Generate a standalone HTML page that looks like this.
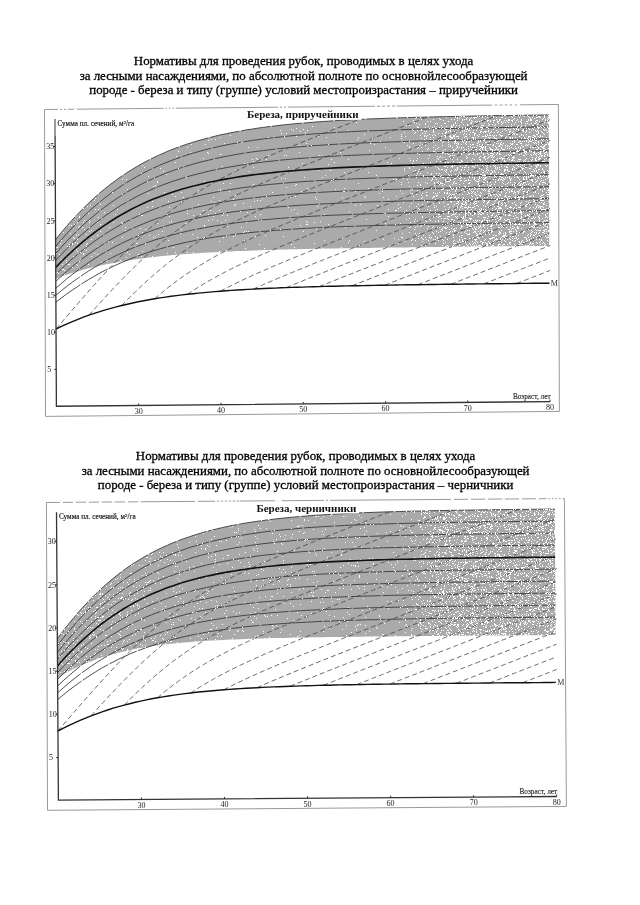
<!DOCTYPE html>
<html><head><meta charset="utf-8"><style>
html,body{margin:0;padding:0;background:#fff;width:640px;height:905px;overflow:hidden}
svg{display:block;filter:grayscale(1)}
</style></head><body>
<svg width="640" height="905" viewBox="0 0 640 905">
<text x="303.60" y="65.00" text-anchor="middle" style="font-family:'Liberation Serif',serif;font-size:12.9px" fill="#000" stroke="#000" stroke-width="0.3">Нормативы для проведения рубок, проводимых в целях ухода</text>
<text x="303.60" y="79.70" text-anchor="middle" style="font-family:'Liberation Serif',serif;font-size:12.9px" fill="#000" stroke="#000" stroke-width="0.3">за лесными насаждениями, по абсолютной полноте по основнойлесообразующей</text>
<text x="303.60" y="94.20" text-anchor="middle" style="font-family:'Liberation Serif',serif;font-size:12.9px" fill="#000" stroke="#000" stroke-width="0.3">породе - береза и типу (группе) условий местопроизрастания – приручейники</text>
<text x="305.60" y="460.00" text-anchor="middle" style="font-family:'Liberation Serif',serif;font-size:12.9px" fill="#000" stroke="#000" stroke-width="0.3">Нормативы для проведения рубок, проводимых в целях ухода</text>
<text x="305.60" y="474.70" text-anchor="middle" style="font-family:'Liberation Serif',serif;font-size:12.9px" fill="#000" stroke="#000" stroke-width="0.3">за лесными насаждениями, по абсолютной полноте по основнойлесообразующей</text>
<text x="305.60" y="489.20" text-anchor="middle" style="font-family:'Liberation Serif',serif;font-size:12.9px" fill="#000" stroke="#000" stroke-width="0.3">породе - береза и типу (группе) условий местопроизрастания – черничники</text>
<polygon points="44.50,109.50 558.40,104.45 559.40,411.40 45.50,416.40" fill="none" stroke="#9a9a9a" stroke-width="1"/>
<path d="M56.0,109.39 L68.0,109.27" stroke="#fff" stroke-width="1.6" stroke-dasharray="2 2" stroke-dashoffset="2"/>
<path d="M74.0,109.21 L77.0,109.18" stroke="#fff" stroke-width="1.6"/>
<path d="M162.0,108.35 L177.0,108.20" stroke="#fff" stroke-width="1.6" stroke-dasharray="2 1.5" stroke-dashoffset="2"/>
<path d="M276.0,107.23 L289.0,107.10" stroke="#fff" stroke-width="1.6" stroke-dasharray="2 2" stroke-dashoffset="2"/>
<path d="M372.0,106.28 L400.0,106.01" stroke="#fff" stroke-width="1.6" stroke-dasharray="2 3" stroke-dashoffset="2"/>
<path d="M490.0,105.12 L522.0,104.81" stroke="#fff" stroke-width="1.6" stroke-dasharray="3 2" stroke-dashoffset="3"/>
<path d="M55.6,239.6 L61.0,232.9 L66.5,226.4 L71.9,220.3 L77.4,214.4 L82.9,208.8 L88.3,203.4 L93.8,198.3 L99.2,193.5 L104.7,188.9 L110.2,184.6 L115.6,180.5 L121.1,176.6 L126.6,172.9 L132.0,169.5 L137.5,166.2 L143.0,163.1 L148.4,160.2 L153.9,157.5 L159.4,154.9 L164.9,152.5 L170.3,150.2 L175.8,148.1 L181.3,146.1 L186.8,144.2 L192.2,142.5 L197.7,140.8 L203.2,139.3 L208.7,137.8 L214.2,136.4 L219.6,135.1 L225.1,133.9 L230.6,132.8 L236.1,131.8 L241.6,130.8 L247.0,129.8 L252.5,129.0 L258.0,128.1 L263.5,127.4 L269.0,126.6 L274.4,126.0 L279.9,125.3 L285.4,124.7 L290.9,124.2 L296.4,123.6 L301.9,123.2 L307.3,122.7 L312.8,122.3 L318.3,121.8 L323.8,121.5 L329.3,121.1 L334.8,120.7 L340.2,120.4 L345.7,120.1 L351.2,119.8 L356.7,119.5 L362.2,119.3 L367.7,119.0 L373.2,118.8 L378.6,118.6 L384.1,118.4 L389.6,118.2 L395.1,118.0 L400.6,117.8 L406.1,117.7 L411.5,117.5 L417.0,117.3 L422.5,117.2 L428.0,117.0 L433.5,116.9 L439.0,116.8 L444.5,116.7 L449.9,116.5 L455.4,116.4 L460.9,116.3 L466.4,116.2 L471.9,116.1 L477.4,116.0 L482.9,115.9 L488.3,115.8 L493.8,115.7 L499.3,115.6 L504.8,115.6 L510.3,115.5 L515.8,115.4 L521.2,115.3 L526.7,115.2 L532.2,115.2 L537.7,115.1 L543.2,115.0 L548.7,114.9 L549.3,245.8 L543.8,245.9 L538.3,245.9 L532.9,246.0 L527.4,246.0 L521.9,246.1 L516.4,246.1 L510.9,246.2 L505.4,246.3 L499.9,246.3 L494.5,246.4 L489.0,246.4 L483.5,246.5 L478.0,246.5 L472.5,246.6 L467.0,246.7 L461.6,246.7 L456.1,246.8 L450.6,246.8 L445.1,246.9 L439.6,247.0 L434.1,247.0 L428.6,247.1 L423.2,247.2 L417.7,247.2 L412.2,247.3 L406.7,247.4 L401.2,247.4 L395.7,247.5 L390.2,247.6 L384.8,247.6 L379.3,247.7 L373.8,247.8 L368.3,247.9 L362.8,248.0 L357.3,248.0 L351.8,248.1 L346.4,248.2 L340.9,248.3 L335.4,248.4 L329.9,248.5 L324.4,248.6 L318.9,248.7 L313.4,248.8 L308.0,248.9 L302.5,249.1 L297.0,249.2 L291.5,249.3 L286.0,249.5 L280.5,249.6 L275.1,249.8 L269.6,249.9 L264.1,250.1 L258.6,250.3 L253.1,250.5 L247.6,250.7 L242.1,250.9 L236.7,251.1 L231.2,251.4 L225.7,251.6 L220.2,251.9 L214.7,252.2 L209.2,252.5 L203.8,252.8 L198.3,253.2 L192.8,253.5 L187.3,253.9 L181.8,254.3 L176.3,254.8 L170.9,255.3 L165.4,255.8 L159.9,256.3 L154.4,256.9 L148.9,257.6 L143.4,258.2 L138.0,259.0 L132.5,259.8 L127.0,260.6 L121.5,261.5 L116.0,262.4 L110.6,263.5 L105.1,264.6 L99.6,265.7 L94.1,267.0 L88.6,268.3 L83.2,269.8 L77.7,271.4 L72.2,273.0 L66.7,274.8 L61.2,276.7 L55.8,278.7 Z" fill="#aaaaaa" stroke="none"/>
<path d="M55.9,302.2 L61.4,298.0 L66.8,293.9 L72.3,290.1 L77.8,286.4 L83.2,282.8 L88.7,279.5 L94.2,276.3 L99.6,273.2 L105.1,270.3 L110.6,267.6 L116.0,265.0 L121.5,262.6 L127.0,260.3 L132.5,258.1 L137.9,256.0 L143.4,254.1 L148.9,252.2 L154.4,250.5 L159.9,248.9 L165.3,247.4 L170.8,245.9 L176.3,244.6 L181.8,243.3 L187.2,242.1 L192.7,241.0 L198.2,239.9 L203.7,238.9 L209.2,238.0 L214.7,237.1 L220.1,236.3 L225.6,235.6 L231.1,234.8 L236.6,234.1 L242.1,233.5 L247.5,232.9 L253.0,232.3 L258.5,231.8 L264.0,231.3 L269.5,230.8 L275.0,230.4 L280.4,230.0 L285.9,229.6 L291.4,229.2 L296.9,228.9 L302.4,228.5 L307.9,228.2 L313.3,227.9 L318.8,227.7 L324.3,227.4 L329.8,227.1 L335.3,226.9 L340.8,226.7 L346.3,226.5 L351.7,226.3 L357.2,226.1 L362.7,225.9 L368.2,225.7 L373.7,225.6 L379.2,225.4 L384.6,225.3 L390.1,225.1 L395.6,225.0 L401.1,224.9 L406.6,224.7 L412.1,224.6 L417.6,224.5 L423.0,224.4 L428.5,224.3 L434.0,224.2 L439.5,224.1 L445.0,224.0 L450.5,223.9 L456.0,223.8 L461.4,223.7 L466.9,223.6 L472.4,223.5 L477.9,223.5 L483.4,223.4 L488.9,223.3 L494.3,223.2 L499.8,223.1 L505.3,223.1 L510.8,223.0 L516.3,222.9 L521.8,222.9 L527.3,222.8 L532.7,222.7 L538.2,222.7 L543.7,222.6 L549.2,222.5" fill="none" stroke="#3a3a3a" stroke-width="0.9" stroke-dasharray="30 1.5"/>
<path d="M55.9,295.2 L61.3,290.7 L66.8,286.4 L72.2,282.3 L77.7,278.4 L83.2,274.6 L88.6,271.0 L94.1,267.6 L99.6,264.4 L105.1,261.3 L110.5,258.4 L116.0,255.6 L121.5,253.0 L126.9,250.6 L132.4,248.2 L137.9,246.0 L143.4,244.0 L148.8,242.0 L154.3,240.2 L159.8,238.5 L165.3,236.8 L170.8,235.3 L176.2,233.9 L181.7,232.5 L187.2,231.2 L192.7,230.0 L198.2,228.9 L203.6,227.9 L209.1,226.9 L214.6,226.0 L220.1,225.1 L225.6,224.3 L231.0,223.5 L236.5,222.8 L242.0,222.1 L247.5,221.5 L253.0,220.9 L258.5,220.3 L263.9,219.8 L269.4,219.3 L274.9,218.8 L280.4,218.4 L285.9,217.9 L291.4,217.5 L296.8,217.2 L302.3,216.8 L307.8,216.5 L313.3,216.2 L318.8,215.9 L324.3,215.6 L329.7,215.4 L335.2,215.1 L340.7,214.9 L346.2,214.7 L351.7,214.5 L357.2,214.3 L362.6,214.1 L368.1,213.9 L373.6,213.7 L379.1,213.5 L384.6,213.4 L390.1,213.2 L395.6,213.1 L401.0,213.0 L406.5,212.8 L412.0,212.7 L417.5,212.6 L423.0,212.5 L428.5,212.4 L434.0,212.3 L439.4,212.2 L444.9,212.1 L450.4,212.0 L455.9,211.9 L461.4,211.8 L466.9,211.7 L472.3,211.6 L477.8,211.5 L483.3,211.4 L488.8,211.4 L494.3,211.3 L499.8,211.2 L505.3,211.1 L510.7,211.1 L516.2,211.0 L521.7,210.9 L527.2,210.8 L532.7,210.8 L538.2,210.7 L543.7,210.6 L549.1,210.6" fill="none" stroke="#3a3a3a" stroke-width="0.9" stroke-dasharray="30 1.5"/>
<path d="M55.8,288.3 L61.3,283.5 L66.7,278.9 L72.2,274.5 L77.7,270.4 L83.1,266.4 L88.6,262.6 L94.1,258.9 L99.5,255.5 L105.0,252.2 L110.5,249.2 L116.0,246.2 L121.4,243.5 L126.9,240.9 L132.4,238.4 L137.8,236.1 L143.3,233.9 L148.8,231.8 L154.3,229.8 L159.8,228.0 L165.2,226.3 L170.7,224.7 L176.2,223.1 L181.7,221.7 L187.1,220.4 L192.6,219.1 L198.1,217.9 L203.6,216.8 L209.1,215.7 L214.5,214.8 L220.0,213.8 L225.5,213.0 L231.0,212.2 L236.5,211.4 L242.0,210.7 L247.4,210.0 L252.9,209.4 L258.4,208.8 L263.9,208.2 L269.4,207.7 L274.8,207.2 L280.3,206.7 L285.8,206.3 L291.3,205.9 L296.8,205.5 L302.3,205.1 L307.7,204.8 L313.2,204.4 L318.7,204.1 L324.2,203.9 L329.7,203.6 L335.2,203.3 L340.7,203.1 L346.1,202.8 L351.6,202.6 L357.1,202.4 L362.6,202.2 L368.1,202.0 L373.6,201.8 L379.0,201.7 L384.5,201.5 L390.0,201.4 L395.5,201.2 L401.0,201.1 L406.5,200.9 L412.0,200.8 L417.4,200.7 L422.9,200.6 L428.4,200.4 L433.9,200.3 L439.4,200.2 L444.9,200.1 L450.4,200.0 L455.8,199.9 L461.3,199.8 L466.8,199.7 L472.3,199.7 L477.8,199.6 L483.3,199.5 L488.7,199.4 L494.2,199.3 L499.7,199.3 L505.2,199.2 L510.7,199.1 L516.2,199.0 L521.7,199.0 L527.1,198.9 L532.6,198.8 L538.1,198.8 L543.6,198.7 L549.1,198.6" fill="none" stroke="#3a3a3a" stroke-width="0.9" stroke-dasharray="30 1.5"/>
<path d="M55.8,281.3 L61.2,276.3 L66.7,271.4 L72.2,266.8 L77.6,262.4 L83.1,258.1 L88.6,254.1 L94.0,250.3 L99.5,246.6 L105.0,243.2 L110.4,239.9 L115.9,236.8 L121.4,233.9 L126.9,231.1 L132.3,228.5 L137.8,226.1 L143.3,223.8 L148.7,221.6 L154.2,219.5 L159.7,217.6 L165.2,215.8 L170.7,214.0 L176.1,212.4 L181.6,210.9 L187.1,209.5 L192.6,208.2 L198.0,206.9 L203.5,205.7 L209.0,204.6 L214.5,203.6 L220.0,202.6 L225.4,201.7 L230.9,200.8 L236.4,200.0 L241.9,199.3 L247.4,198.5 L252.9,197.9 L258.3,197.3 L263.8,196.7 L269.3,196.1 L274.8,195.6 L280.3,195.1 L285.8,194.6 L291.2,194.2 L296.7,193.8 L302.2,193.4 L307.7,193.0 L313.2,192.7 L318.7,192.4 L324.1,192.1 L329.6,191.8 L335.1,191.5 L340.6,191.3 L346.1,191.0 L351.6,190.8 L357.0,190.6 L362.5,190.4 L368.0,190.2 L373.5,190.0 L379.0,189.8 L384.5,189.6 L390.0,189.5 L395.4,189.3 L400.9,189.2 L406.4,189.0 L411.9,188.9 L417.4,188.8 L422.9,188.7 L428.4,188.5 L433.8,188.4 L439.3,188.3 L444.8,188.2 L450.3,188.1 L455.8,188.0 L461.3,187.9 L466.7,187.8 L472.2,187.7 L477.7,187.6 L483.2,187.6 L488.7,187.5 L494.2,187.4 L499.7,187.3 L505.1,187.2 L510.6,187.2 L516.1,187.1 L521.6,187.0 L527.1,186.9 L532.6,186.9 L538.1,186.8 L543.5,186.7 L549.0,186.7" fill="none" stroke="#3a3a3a" stroke-width="0.9" stroke-dasharray="30 1.5"/>
<path d="M55.8,274.4 L61.2,269.0 L66.7,263.9 L72.1,259.0 L77.6,254.4 L83.1,249.9 L88.5,245.7 L94.0,241.6 L99.5,237.8 L104.9,234.2 L110.4,230.7 L115.9,227.4 L121.3,224.4 L126.8,221.4 L132.3,218.7 L137.8,216.1 L143.2,213.6 L148.7,211.3 L154.2,209.2 L159.6,207.1 L165.1,205.2 L170.6,203.4 L176.1,201.7 L181.6,200.1 L187.0,198.6 L192.5,197.2 L198.0,195.9 L203.5,194.6 L209.0,193.5 L214.4,192.4 L219.9,191.4 L225.4,190.4 L230.9,189.5 L236.4,188.6 L241.8,187.8 L247.3,187.1 L252.8,186.4 L258.3,185.7 L263.8,185.1 L269.3,184.5 L274.7,184.0 L280.2,183.5 L285.7,183.0 L291.2,182.5 L296.7,182.1 L302.1,181.7 L307.6,181.3 L313.1,181.0 L318.6,180.6 L324.1,180.3 L329.6,180.0 L335.1,179.7 L340.5,179.5 L346.0,179.2 L351.5,179.0 L357.0,178.7 L362.5,178.5 L368.0,178.3 L373.4,178.1 L378.9,177.9 L384.4,177.8 L389.9,177.6 L395.4,177.4 L400.9,177.3 L406.4,177.1 L411.8,177.0 L417.3,176.9 L422.8,176.7 L428.3,176.6 L433.8,176.5 L439.3,176.4 L444.7,176.3 L450.2,176.2 L455.7,176.1 L461.2,176.0 L466.7,175.9 L472.2,175.8 L477.7,175.7 L483.1,175.6 L488.6,175.5 L494.1,175.4 L499.6,175.4 L505.1,175.3 L510.6,175.2 L516.1,175.1 L521.5,175.1 L527.0,175.0 L532.5,174.9 L538.0,174.9 L543.5,174.8 L549.0,174.7" fill="none" stroke="#3a3a3a" stroke-width="0.9" stroke-dasharray="30 1.5"/>
<path d="M55.7,260.4 L61.1,254.6 L66.6,248.9 L72.1,243.5 L77.5,238.4 L83.0,233.5 L88.4,228.8 L93.9,224.3 L99.4,220.1 L104.8,216.1 L110.3,212.3 L115.8,208.7 L121.2,205.2 L126.7,202.0 L132.2,199.0 L137.7,196.1 L143.1,193.4 L148.6,190.9 L154.1,188.5 L159.5,186.2 L165.0,184.1 L170.5,182.1 L176.0,180.3 L181.5,178.5 L186.9,176.9 L192.4,175.3 L197.9,173.9 L203.4,172.5 L208.8,171.2 L214.3,170.0 L219.8,168.9 L225.3,167.8 L230.8,166.8 L236.2,165.9 L241.7,165.0 L247.2,164.2 L252.7,163.4 L258.2,162.7 L263.7,162.0 L269.1,161.4 L274.6,160.8 L280.1,160.2 L285.6,159.7 L291.1,159.2 L296.6,158.7 L302.0,158.3 L307.5,157.9 L313.0,157.5 L318.5,157.1 L324.0,156.8 L329.5,156.4 L334.9,156.1 L340.4,155.8 L345.9,155.6 L351.4,155.3 L356.9,155.1 L362.4,154.8 L367.8,154.6 L373.3,154.4 L378.8,154.2 L384.3,154.0 L389.8,153.8 L395.3,153.7 L400.8,153.5 L406.2,153.3 L411.7,153.2 L417.2,153.1 L422.7,152.9 L428.2,152.8 L433.7,152.7 L439.1,152.5 L444.6,152.4 L450.1,152.3 L455.6,152.2 L461.1,152.1 L466.6,152.0 L472.1,151.9 L477.5,151.8 L483.0,151.7 L488.5,151.6 L494.0,151.6 L499.5,151.5 L505.0,151.4 L510.5,151.3 L515.9,151.2 L521.4,151.2 L526.9,151.1 L532.4,151.0 L537.9,150.9 L543.4,150.9 L548.8,150.8" fill="none" stroke="#3a3a3a" stroke-width="0.9" stroke-dasharray="30 1.5"/>
<path d="M55.7,253.5 L61.1,247.3 L66.6,241.4 L72.0,235.8 L77.5,230.4 L82.9,225.2 L88.4,220.3 L93.9,215.7 L99.3,211.2 L104.8,207.0 L110.3,203.0 L115.7,199.3 L121.2,195.7 L126.7,192.3 L132.1,189.2 L137.6,186.2 L143.1,183.3 L148.5,180.7 L154.0,178.2 L159.5,175.8 L165.0,173.6 L170.4,171.5 L175.9,169.5 L181.4,167.7 L186.9,166.0 L192.4,164.4 L197.8,162.8 L203.3,161.4 L208.8,160.1 L214.3,158.8 L219.7,157.6 L225.2,156.5 L230.7,155.5 L236.2,154.5 L241.7,153.6 L247.2,152.7 L252.6,151.9 L258.1,151.2 L263.6,150.5 L269.1,149.8 L274.6,149.2 L280.0,148.6 L285.5,148.0 L291.0,147.5 L296.5,147.0 L302.0,146.6 L307.5,146.1 L312.9,145.7 L318.4,145.4 L323.9,145.0 L329.4,144.7 L334.9,144.3 L340.4,144.0 L345.8,143.7 L351.3,143.5 L356.8,143.2 L362.3,143.0 L367.8,142.8 L373.3,142.5 L378.8,142.3 L384.2,142.1 L389.7,142.0 L395.2,141.8 L400.7,141.6 L406.2,141.4 L411.7,141.3 L417.1,141.1 L422.6,141.0 L428.1,140.9 L433.6,140.7 L439.1,140.6 L444.6,140.5 L450.1,140.4 L455.5,140.3 L461.0,140.2 L466.5,140.1 L472.0,140.0 L477.5,139.9 L483.0,139.8 L488.5,139.7 L493.9,139.6 L499.4,139.5 L504.9,139.4 L510.4,139.4 L515.9,139.3 L521.4,139.2 L526.9,139.1 L532.3,139.1 L537.8,139.0 L543.3,138.9 L548.8,138.9" fill="none" stroke="#3a3a3a" stroke-width="0.9" stroke-dasharray="30 1.5"/>
<path d="M55.6,246.5 L61.1,240.1 L66.5,233.9 L72.0,228.0 L77.4,222.4 L82.9,217.0 L88.4,211.9 L93.8,207.0 L99.3,202.4 L104.7,198.0 L110.2,193.8 L115.7,189.9 L121.1,186.1 L126.6,182.6 L132.1,179.3 L137.6,176.2 L143.0,173.2 L148.5,170.4 L154.0,167.8 L159.4,165.4 L164.9,163.1 L170.4,160.9 L175.9,158.8 L181.3,156.9 L186.8,155.1 L192.3,153.4 L197.8,151.8 L203.3,150.3 L208.7,148.9 L214.2,147.6 L219.7,146.4 L225.2,145.2 L230.7,144.1 L236.1,143.1 L241.6,142.2 L247.1,141.3 L252.6,140.4 L258.1,139.7 L263.5,138.9 L269.0,138.2 L274.5,137.6 L280.0,137.0 L285.5,136.4 L291.0,135.8 L296.4,135.3 L301.9,134.9 L307.4,134.4 L312.9,134.0 L318.4,133.6 L323.9,133.2 L329.3,132.9 L334.8,132.5 L340.3,132.2 L345.8,131.9 L351.3,131.6 L356.8,131.4 L362.2,131.1 L367.7,130.9 L373.2,130.7 L378.7,130.5 L384.2,130.3 L389.7,130.1 L395.2,129.9 L400.6,129.7 L406.1,129.5 L411.6,129.4 L417.1,129.2 L422.6,129.1 L428.1,129.0 L433.5,128.8 L439.0,128.7 L444.5,128.6 L450.0,128.5 L455.5,128.4 L461.0,128.2 L466.5,128.1 L471.9,128.0 L477.4,127.9 L482.9,127.8 L488.4,127.8 L493.9,127.7 L499.4,127.6 L504.9,127.5 L510.3,127.4 L515.8,127.3 L521.3,127.3 L526.8,127.2 L532.3,127.1 L537.8,127.0 L543.2,127.0 L548.7,126.9" fill="none" stroke="#3a3a3a" stroke-width="0.9" stroke-dasharray="30 1.5"/>
<path d="M55.6,239.6 L61.0,232.9 L66.5,226.4 L71.9,220.3 L77.4,214.4 L82.9,208.8 L88.3,203.4 L93.8,198.3 L99.2,193.5 L104.7,188.9 L110.2,184.6 L115.6,180.5 L121.1,176.6 L126.6,172.9 L132.0,169.5 L137.5,166.2 L143.0,163.1 L148.4,160.2 L153.9,157.5 L159.4,154.9 L164.9,152.5 L170.3,150.2 L175.8,148.1 L181.3,146.1 L186.8,144.2 L192.2,142.5 L197.7,140.8 L203.2,139.3 L208.7,137.8 L214.2,136.4 L219.6,135.1 L225.1,133.9 L230.6,132.8 L236.1,131.8 L241.6,130.8 L247.0,129.8 L252.5,129.0 L258.0,128.1 L263.5,127.4 L269.0,126.6 L274.4,126.0 L279.9,125.3 L285.4,124.7 L290.9,124.2 L296.4,123.6 L301.9,123.2 L307.3,122.7 L312.8,122.3 L318.3,121.8 L323.8,121.5 L329.3,121.1 L334.8,120.7 L340.2,120.4 L345.7,120.1 L351.2,119.8 L356.7,119.5 L362.2,119.3 L367.7,119.0 L373.2,118.8 L378.6,118.6 L384.1,118.4 L389.6,118.2 L395.1,118.0 L400.6,117.8 L406.1,117.7 L411.5,117.5 L417.0,117.3 L422.5,117.2 L428.0,117.0 L433.5,116.9 L439.0,116.8 L444.5,116.7 L449.9,116.5 L455.4,116.4 L460.9,116.3 L466.4,116.2 L471.9,116.1 L477.4,116.0 L482.9,115.9 L488.3,115.8 L493.8,115.7 L499.3,115.6 L504.8,115.6 L510.3,115.5 L515.8,115.4 L521.2,115.3 L526.7,115.2 L532.2,115.2 L537.7,115.1 L543.2,115.0 L548.7,114.9" fill="none" stroke="#3a3a3a" stroke-width="0.9" stroke-dasharray="30 1.5"/>
<path d="M56.0,329.0 L58.0,326.7 L60.0,324.3 L62.0,322.0 L64.0,319.6 L66.0,317.3 L68.0,315.0 L70.0,312.6 L72.0,310.3 L74.0,308.0 L76.0,305.7 L78.0,303.4 L80.0,301.1 L82.0,298.8 L84.0,296.5 L86.0,294.3 L88.0,292.0 L90.0,289.7 L92.0,287.5 L94.0,285.3 L96.0,283.0 L98.0,280.8 L100.0,278.6 L102.0,276.4 L104.0,274.2 L106.0,272.0 L108.0,269.9 L110.0,267.7 L112.0,265.6 L114.0,263.5 L116.0,261.4 L118.0,259.3 L120.0,257.2 L122.0,255.1 L124.0,253.1 L126.0,251.0 L128.0,249.0 L130.0,247.0 L132.0,245.0 L134.0,243.1 L136.0,241.1 L138.0,239.2 L140.0,237.3 L142.0,235.4 L144.0,233.6 L146.0,231.7 L148.0,229.9 L150.0,228.1 L152.0,226.4 L154.0,224.6 L156.0,222.9 L158.0,221.2 L160.0,219.5 L162.0,217.8 L164.0,216.2 L166.0,214.6 L168.0,213.0 L170.0,211.4 L172.0,209.9 L174.0,208.4 L176.0,206.9 L178.0,205.4 L180.0,204.0 L182.0,202.5 L184.0,201.1 L186.0,199.7 L188.0,198.4 L190.0,197.0 L192.0,195.7 L194.0,194.4 L196.0,193.2 L198.0,191.9 L200.0,190.7 L202.0,189.4 L204.0,188.2 L206.0,187.0 L208.0,185.9 L210.0,184.7 L212.0,183.6 L214.0,182.5 L216.0,181.4 L218.0,180.3 L220.0,179.2 L222.0,178.1 L224.0,177.1 L226.0,176.1 L228.0,175.0 L230.0,174.0 L232.0,173.0 L234.0,172.0 L236.0,171.0 L238.0,170.1 L240.0,169.1 L242.0,168.2 L244.0,167.2 L246.0,166.3 L248.0,165.4 L250.0,164.4 L252.0,163.5 L254.0,162.6 L256.0,161.7 L258.0,160.8 L260.0,159.9 L262.0,159.1 L264.0,158.2 L266.0,157.3 L268.0,156.4 L270.0,155.6 L272.0,154.7 L274.0,153.9 L276.0,153.0 L278.0,152.2 L280.0,151.3 L282.0,150.5 L284.0,149.7 L286.0,148.8 L288.0,148.0 L290.0,147.2 L292.0,146.3 L294.0,145.5 L296.0,144.7 L298.0,143.9 L300.0,143.1 L302.0,142.2 L304.0,141.4 L306.0,140.6 L308.0,139.8 L310.0,139.0 L312.0,138.2 L314.0,137.4 L316.0,136.6 L318.0,135.8 L320.0,135.0 L322.0,134.2 L324.0,133.4 L326.0,132.6 L328.0,131.8 L330.0,131.0 L332.0,130.2 L334.0,129.4 L336.0,128.6 L338.0,127.8 L340.0,127.0 L342.0,126.3 L344.0,125.5 L346.0,124.7 L348.0,123.9 L350.0,123.1 L352.0,122.3 L354.0,121.5 L356.0,120.7 L358.0,119.9 L360.0,119.5" fill="none" stroke="#444" stroke-width="0.8" stroke-dasharray="5 3"/>
<path d="M88.9,315.2 L90.9,313.0 L92.9,310.7 L94.9,308.5 L96.9,306.3 L98.9,304.1 L100.9,301.9 L102.9,299.7 L104.9,297.5 L106.9,295.3 L108.9,293.2 L110.9,291.0 L112.9,288.9 L114.9,286.8 L116.9,284.7 L118.9,282.6 L120.9,280.5 L122.9,278.4 L124.9,276.4 L126.9,274.4 L128.9,272.4 L130.9,270.4 L132.9,268.4 L134.9,266.5 L136.9,264.5 L138.9,262.6 L140.9,260.7 L142.9,258.8 L144.9,257.0 L146.9,255.2 L148.9,253.4 L150.9,251.6 L152.9,249.8 L154.9,248.1 L156.9,246.4 L158.9,244.7 L160.9,243.0 L162.9,241.3 L164.9,239.7 L166.9,238.1 L168.9,236.5 L170.9,235.0 L172.9,233.4 L174.9,231.9 L176.9,230.5 L178.9,229.0 L180.9,227.5 L182.9,226.1 L184.9,224.7 L186.9,223.4 L188.9,222.0 L190.9,220.7 L192.9,219.4 L194.9,218.1 L196.9,216.8 L198.9,215.6 L200.9,214.3 L202.9,213.1 L204.9,211.9 L206.9,210.7 L208.9,209.6 L210.9,208.4 L212.9,207.3 L214.9,206.2 L216.9,205.1 L218.9,204.0 L220.9,202.9 L222.9,201.9 L224.9,200.8 L226.9,199.8 L228.9,198.8 L230.9,197.8 L232.9,196.8 L234.9,195.8 L236.9,194.8 L238.9,193.9 L240.9,192.9 L242.9,192.0 L244.9,191.0 L246.9,190.1 L248.9,189.2 L250.9,188.2 L252.9,187.3 L254.9,186.4 L256.9,185.5 L258.9,184.6 L260.9,183.8 L262.9,182.9 L264.9,182.0 L266.9,181.1 L268.9,180.3 L270.9,179.4 L272.9,178.6 L274.9,177.7 L276.9,176.9 L278.9,176.0 L280.9,175.2 L282.9,174.3 L284.9,173.5 L286.9,172.7 L288.9,171.8 L290.9,171.0 L292.9,170.2 L294.9,169.4 L296.9,168.5 L298.9,167.7 L300.9,166.9 L302.9,166.1 L304.9,165.3 L306.9,164.5 L308.9,163.7 L310.9,162.9 L312.9,162.1 L314.9,161.3 L316.9,160.5 L318.9,159.7 L320.9,158.9 L322.9,158.1 L324.9,157.3 L326.9,156.5 L328.9,155.7 L330.9,154.9 L332.9,154.1 L334.9,153.3 L336.9,152.5 L338.9,151.7 L340.9,150.9 L342.9,150.1 L344.9,149.3 L346.9,148.5 L348.9,147.7 L350.9,147.0 L352.9,146.2 L354.9,145.4 L356.9,144.6 L358.9,143.8 L360.9,143.0 L362.9,142.2 L364.9,141.4 L366.9,140.7 L368.9,139.9 L370.9,139.1 L372.9,138.3 L374.9,137.5 L376.9,136.7 L378.9,136.0 L380.9,135.2 L382.9,134.4 L384.9,133.6 L386.9,132.8 L388.9,132.0 L390.9,131.3 L392.9,130.5 L394.9,129.7 L396.9,128.9 L398.9,128.1 L400.9,127.3 L402.9,126.6 L404.9,125.8 L406.9,125.0 L408.9,124.2 L410.9,123.4 L412.9,122.7 L414.9,121.9 L416.9,121.1 L418.9,120.3 L420.9,119.5 L422.9,118.7 L424.9,118.0 L426.9,117.2 L428.9,117.1" fill="none" stroke="#444" stroke-width="0.8" stroke-dasharray="5 3"/>
<path d="M121.7,305.5 L123.7,303.4 L125.7,301.4 L127.7,299.4 L129.7,297.4 L131.7,295.4 L133.7,293.5 L135.7,291.5 L137.7,289.6 L139.7,287.7 L141.7,285.8 L143.7,283.9 L145.7,282.1 L147.7,280.3 L149.7,278.5 L151.7,276.7 L153.7,274.9 L155.7,273.2 L157.7,271.5 L159.7,269.8 L161.7,268.2 L163.7,266.5 L165.7,264.9 L167.7,263.3 L169.7,261.7 L171.7,260.2 L173.7,258.7 L175.7,257.2 L177.7,255.7 L179.7,254.3 L181.7,252.8 L183.7,251.4 L185.7,250.0 L187.7,248.7 L189.7,247.3 L191.7,246.0 L193.7,244.7 L195.7,243.4 L197.7,242.2 L199.7,240.9 L201.7,239.7 L203.7,238.5 L205.7,237.3 L207.7,236.1 L209.7,235.0 L211.7,233.8 L213.7,232.7 L215.7,231.6 L217.7,230.5 L219.7,229.4 L221.7,228.4 L223.7,227.3 L225.7,226.3 L227.7,225.3 L229.7,224.2 L231.7,223.2 L233.7,222.3 L235.7,221.3 L237.7,220.3 L239.7,219.3 L241.7,218.4 L243.7,217.4 L245.7,216.5 L247.7,215.6 L249.7,214.7 L251.7,213.7 L253.7,212.8 L255.7,211.9 L257.7,211.0 L259.7,210.1 L261.7,209.3 L263.7,208.4 L265.7,207.5 L267.7,206.6 L269.7,205.8 L271.7,204.9 L273.7,204.1 L275.7,203.2 L277.7,202.4 L279.7,201.5 L281.7,200.7 L283.7,199.9 L285.7,199.0 L287.7,198.2 L289.7,197.4 L291.7,196.5 L293.7,195.7 L295.7,194.9 L297.7,194.1 L299.7,193.3 L301.7,192.4 L303.7,191.6 L305.7,190.8 L307.7,190.0 L309.7,189.2 L311.7,188.4 L313.7,187.6 L315.7,186.8 L317.7,186.0 L319.7,185.2 L321.7,184.4 L323.7,183.6 L325.7,182.8 L327.7,182.0 L329.7,181.2 L331.7,180.4 L333.7,179.6 L335.7,178.8 L337.7,178.0 L339.7,177.2 L341.7,176.5 L343.7,175.7 L345.7,174.9 L347.7,174.1 L349.7,173.3 L351.7,172.5 L353.7,171.7 L355.7,170.9 L357.7,170.1 L359.7,169.4 L361.7,168.6 L363.7,167.8 L365.7,167.0 L367.7,166.2 L369.7,165.4 L371.7,164.6 L373.7,163.9 L375.7,163.1 L377.7,162.3 L379.7,161.5 L381.7,160.7 L383.7,159.9 L385.7,159.2 L387.7,158.4 L389.7,157.6 L391.7,156.8 L393.7,156.0 L395.7,155.2 L397.7,154.5 L399.7,153.7 L401.7,152.9 L403.7,152.1 L405.7,151.3 L407.7,150.6 L409.7,149.8 L411.7,149.0 L413.7,148.2 L415.7,147.4 L417.7,146.6 L419.7,145.9 L421.7,145.1 L423.7,144.3 L425.7,143.5 L427.7,142.7 L429.7,142.0 L431.7,141.2 L433.7,140.4 L435.7,139.6 L437.7,138.8 L439.7,138.1 L441.7,137.3 L443.7,136.5 L445.7,135.7 L447.7,134.9 L449.7,134.2 L451.7,133.4 L453.7,132.6 L455.7,131.8 L457.7,131.0 L459.7,130.2 L461.7,129.5 L463.7,128.7 L465.7,127.9 L467.7,127.1 L469.7,126.3 L471.7,125.6 L473.7,124.8 L475.7,124.0 L477.7,123.2 L479.7,122.4 L481.7,121.7 L483.7,120.9 L485.7,120.1 L487.7,119.3 L489.7,118.5 L491.7,117.8 L493.7,117.0 L495.7,116.2 L497.7,115.7" fill="none" stroke="#444" stroke-width="0.8" stroke-dasharray="5 3"/>
<path d="M154.6,298.8 L156.6,297.1 L158.6,295.4 L160.6,293.7 L162.6,292.1 L164.6,290.4 L166.6,288.8 L168.6,287.2 L170.6,285.7 L172.6,284.1 L174.6,282.6 L176.6,281.2 L178.6,279.7 L180.6,278.2 L182.6,276.8 L184.6,275.4 L186.6,274.0 L188.6,272.7 L190.6,271.4 L192.6,270.0 L194.6,268.8 L196.6,267.5 L198.6,266.2 L200.6,265.0 L202.6,263.8 L204.6,262.6 L206.6,261.4 L208.6,260.2 L210.6,259.1 L212.6,258.0 L214.6,256.8 L216.6,255.7 L218.6,254.7 L220.6,253.6 L222.6,252.5 L224.6,251.5 L226.6,250.5 L228.6,249.4 L230.6,248.4 L232.6,247.4 L234.6,246.4 L236.6,245.5 L238.6,244.5 L240.6,243.5 L242.6,242.6 L244.6,241.6 L246.6,240.7 L248.6,239.8 L250.6,238.9 L252.6,238.0 L254.6,237.1 L256.6,236.2 L258.6,235.3 L260.6,234.4 L262.6,233.5 L264.6,232.6 L266.6,231.8 L268.6,230.9 L270.6,230.0 L272.6,229.2 L274.6,228.3 L276.6,227.5 L278.6,226.6 L280.6,225.8 L282.6,224.9 L284.6,224.1 L286.6,223.3 L288.6,222.5 L290.6,221.6 L292.6,220.8 L294.6,220.0 L296.6,219.2 L298.6,218.3 L300.6,217.5 L302.6,216.7 L304.6,215.9 L306.6,215.1 L308.6,214.3 L310.6,213.5 L312.6,212.7 L314.6,211.9 L316.6,211.1 L318.6,210.3 L320.6,209.5 L322.6,208.7 L324.6,207.9 L326.6,207.1 L328.6,206.3 L330.6,205.5 L332.6,204.7 L334.6,203.9 L336.6,203.1 L338.6,202.3 L340.6,201.5 L342.6,200.7 L344.6,199.9 L346.6,199.1 L348.6,198.4 L350.6,197.6 L352.6,196.8 L354.6,196.0 L356.6,195.2 L358.6,194.4 L360.6,193.6 L362.6,192.8 L364.6,192.1 L366.6,191.3 L368.6,190.5 L370.6,189.7 L372.6,188.9 L374.6,188.1 L376.6,187.4 L378.6,186.6 L380.6,185.8 L382.6,185.0 L384.6,184.2 L386.6,183.4 L388.6,182.7 L390.6,181.9 L392.6,181.1 L394.6,180.3 L396.6,179.5 L398.6,178.7 L400.6,178.0 L402.6,177.2 L404.6,176.4 L406.6,175.6 L408.6,174.8 L410.6,174.0 L412.6,173.3 L414.6,172.5 L416.6,171.7 L418.6,170.9 L420.6,170.1 L422.6,169.4 L424.6,168.6 L426.6,167.8 L428.6,167.0 L430.6,166.2 L432.6,165.5 L434.6,164.7 L436.6,163.9 L438.6,163.1 L440.6,162.3 L442.6,161.6 L444.6,160.8 L446.6,160.0 L448.6,159.2 L450.6,158.4 L452.6,157.6 L454.6,156.9 L456.6,156.1 L458.6,155.3 L460.6,154.5 L462.6,153.7 L464.6,153.0 L466.6,152.2 L468.6,151.4 L470.6,150.6 L472.6,149.8 L474.6,149.1 L476.6,148.3 L478.6,147.5 L480.6,146.7 L482.6,145.9 L484.6,145.2 L486.6,144.4 L488.6,143.6 L490.6,142.8 L492.6,142.0 L494.6,141.3 L496.6,140.5 L498.6,139.7 L500.6,138.9 L502.6,138.1 L504.6,137.4 L506.6,136.6 L508.6,135.8 L510.6,135.0 L512.6,134.2 L514.6,133.5 L516.6,132.7 L518.6,131.9 L520.6,131.1 L522.6,130.3 L524.6,129.6 L526.6,128.8 L528.6,128.0 L530.6,127.2 L532.6,126.4 L534.6,125.7 L536.6,124.9 L538.6,124.1 L540.6,123.3 L542.6,122.5 L544.6,121.8 L546.6,121.0 L548.6,120.2 L550.1,119.6" fill="none" stroke="#444" stroke-width="0.8" stroke-dasharray="5 3"/>
<path d="M187.5,294.3 L189.5,292.9 L191.5,291.6 L193.5,290.3 L195.5,289.0 L197.5,287.7 L199.5,286.5 L201.5,285.3 L203.5,284.1 L205.5,282.9 L207.5,281.7 L209.5,280.5 L211.5,279.4 L213.5,278.3 L215.5,277.2 L217.5,276.1 L219.5,275.0 L221.5,273.9 L223.5,272.9 L225.5,271.8 L227.5,270.8 L229.5,269.8 L231.5,268.8 L233.5,267.8 L235.5,266.8 L237.5,265.8 L239.5,264.9 L241.5,263.9 L243.5,263.0 L245.5,262.0 L247.5,261.1 L249.5,260.2 L251.5,259.3 L253.5,258.4 L255.5,257.5 L257.5,256.6 L259.5,255.7 L261.5,254.8 L263.5,253.9 L265.5,253.1 L267.5,252.2 L269.5,251.3 L271.5,250.5 L273.5,249.6 L275.5,248.8 L277.5,247.9 L279.5,247.1 L281.5,246.2 L283.5,245.4 L285.5,244.6 L287.5,243.7 L289.5,242.9 L291.5,242.1 L293.5,241.3 L295.5,240.4 L297.5,239.6 L299.5,238.8 L301.5,238.0 L303.5,237.2 L305.5,236.4 L307.5,235.6 L309.5,234.7 L311.5,233.9 L313.5,233.1 L315.5,232.3 L317.5,231.5 L319.5,230.7 L321.5,229.9 L323.5,229.1 L325.5,228.3 L327.5,227.5 L329.5,226.7 L331.5,225.9 L333.5,225.1 L335.5,224.4 L337.5,223.6 L339.5,222.8 L341.5,222.0 L343.5,221.2 L345.5,220.4 L347.5,219.6 L349.5,218.8 L351.5,218.0 L353.5,217.2 L355.5,216.5 L357.5,215.7 L359.5,214.9 L361.5,214.1 L363.5,213.3 L365.5,212.5 L367.5,211.7 L369.5,211.0 L371.5,210.2 L373.5,209.4 L375.5,208.6 L377.5,207.8 L379.5,207.0 L381.5,206.3 L383.5,205.5 L385.5,204.7 L387.5,203.9 L389.5,203.1 L391.5,202.3 L393.5,201.6 L395.5,200.8 L397.5,200.0 L399.5,199.2 L401.5,198.4 L403.5,197.6 L405.5,196.9 L407.5,196.1 L409.5,195.3 L411.5,194.5 L413.5,193.7 L415.5,193.0 L417.5,192.2 L419.5,191.4 L421.5,190.6 L423.5,189.8 L425.5,189.0 L427.5,188.3 L429.5,187.5 L431.5,186.7 L433.5,185.9 L435.5,185.1 L437.5,184.4 L439.5,183.6 L441.5,182.8 L443.5,182.0 L445.5,181.2 L447.5,180.5 L449.5,179.7 L451.5,178.9 L453.5,178.1 L455.5,177.3 L457.5,176.6 L459.5,175.8 L461.5,175.0 L463.5,174.2 L465.5,173.4 L467.5,172.7 L469.5,171.9 L471.5,171.1 L473.5,170.3 L475.5,169.5 L477.5,168.8 L479.5,168.0 L481.5,167.2 L483.5,166.4 L485.5,165.6 L487.5,164.9 L489.5,164.1 L491.5,163.3 L493.5,162.5 L495.5,161.7 L497.5,161.0 L499.5,160.2 L501.5,159.4 L503.5,158.6 L505.5,157.8 L507.5,157.1 L509.5,156.3 L511.5,155.5 L513.5,154.7 L515.5,153.9 L517.5,153.2 L519.5,152.4 L521.5,151.6 L523.5,150.8 L525.5,150.0 L527.5,149.3 L529.5,148.5 L531.5,147.7 L533.5,146.9 L535.5,146.1 L537.5,145.4 L539.5,144.6 L541.5,143.8 L543.5,143.0 L545.5,142.2 L547.5,141.5 L549.5,140.7 L550.1,140.4" fill="none" stroke="#444" stroke-width="0.8" stroke-dasharray="5 3"/>
<path d="M220.4,291.2 L222.4,290.1 L224.4,289.1 L226.4,288.0 L228.4,287.0 L230.4,286.0 L232.4,285.0 L234.4,284.0 L236.4,283.0 L238.4,282.1 L240.4,281.1 L242.4,280.2 L244.4,279.2 L246.4,278.3 L248.4,277.4 L250.4,276.5 L252.4,275.5 L254.4,274.6 L256.4,273.7 L258.4,272.8 L260.4,272.0 L262.4,271.1 L264.4,270.2 L266.4,269.3 L268.4,268.5 L270.4,267.6 L272.4,266.7 L274.4,265.9 L276.4,265.0 L278.4,264.2 L280.4,263.4 L282.4,262.5 L284.4,261.7 L286.4,260.9 L288.4,260.0 L290.4,259.2 L292.4,258.4 L294.4,257.5 L296.4,256.7 L298.4,255.9 L300.4,255.1 L302.4,254.3 L304.4,253.5 L306.4,252.7 L308.4,251.9 L310.4,251.0 L312.4,250.2 L314.4,249.4 L316.4,248.6 L318.4,247.8 L320.4,247.0 L322.4,246.2 L324.4,245.4 L326.4,244.6 L328.4,243.8 L330.4,243.0 L332.4,242.3 L334.4,241.5 L336.4,240.7 L338.4,239.9 L340.4,239.1 L342.4,238.3 L344.4,237.5 L346.4,236.7 L348.4,235.9 L350.4,235.1 L352.4,234.3 L354.4,233.6 L356.4,232.8 L358.4,232.0 L360.4,231.2 L362.4,230.4 L364.4,229.6 L366.4,228.8 L368.4,228.1 L370.4,227.3 L372.4,226.5 L374.4,225.7 L376.4,224.9 L378.4,224.1 L380.4,223.3 L382.4,222.6 L384.4,221.8 L386.4,221.0 L388.4,220.2 L390.4,219.4 L392.4,218.7 L394.4,217.9 L396.4,217.1 L398.4,216.3 L400.4,215.5 L402.4,214.7 L404.4,214.0 L406.4,213.2 L408.4,212.4 L410.4,211.6 L412.4,210.8 L414.4,210.0 L416.4,209.3 L418.4,208.5 L420.4,207.7 L422.4,206.9 L424.4,206.1 L426.4,205.4 L428.4,204.6 L430.4,203.8 L432.4,203.0 L434.4,202.2 L436.4,201.5 L438.4,200.7 L440.4,199.9 L442.4,199.1 L444.4,198.3 L446.4,197.6 L448.4,196.8 L450.4,196.0 L452.4,195.2 L454.4,194.4 L456.4,193.7 L458.4,192.9 L460.4,192.1 L462.4,191.3 L464.4,190.5 L466.4,189.8 L468.4,189.0 L470.4,188.2 L472.4,187.4 L474.4,186.6 L476.4,185.9 L478.4,185.1 L480.4,184.3 L482.4,183.5 L484.4,182.7 L486.4,181.9 L488.4,181.2 L490.4,180.4 L492.4,179.6 L494.4,178.8 L496.4,178.0 L498.4,177.3 L500.4,176.5 L502.4,175.7 L504.4,174.9 L506.4,174.1 L508.4,173.4 L510.4,172.6 L512.4,171.8 L514.4,171.0 L516.4,170.2 L518.4,169.5 L520.4,168.7 L522.4,167.9 L524.4,167.1 L526.4,166.3 L528.4,165.6 L530.4,164.8 L532.4,164.0 L534.4,163.2 L536.4,162.4 L538.4,161.7 L540.4,160.9 L542.4,160.1 L544.4,159.3 L546.4,158.5 L548.4,157.8 L550.1,157.1" fill="none" stroke="#444" stroke-width="0.8" stroke-dasharray="5 3"/>
<path d="M253.3,289.1 L255.3,288.2 L257.3,287.3 L259.3,286.4 L261.3,285.5 L263.3,284.6 L265.3,283.8 L267.3,282.9 L269.3,282.0 L271.3,281.2 L273.3,280.3 L275.3,279.5 L277.3,278.6 L279.3,277.8 L281.3,276.9 L283.3,276.1 L285.3,275.3 L287.3,274.4 L289.3,273.6 L291.3,272.8 L293.3,272.0 L295.3,271.1 L297.3,270.3 L299.3,269.5 L301.3,268.7 L303.3,267.9 L305.3,267.1 L307.3,266.3 L309.3,265.4 L311.3,264.6 L313.3,263.8 L315.3,263.0 L317.3,262.2 L319.3,261.4 L321.3,260.6 L323.3,259.8 L325.3,259.0 L327.3,258.2 L329.3,257.4 L331.3,256.6 L333.3,255.9 L335.3,255.1 L337.3,254.3 L339.3,253.5 L341.3,252.7 L343.3,251.9 L345.3,251.1 L347.3,250.3 L349.3,249.5 L351.3,248.7 L353.3,247.9 L355.3,247.2 L357.3,246.4 L359.3,245.6 L361.3,244.8 L363.3,244.0 L365.3,243.2 L367.3,242.4 L369.3,241.7 L371.3,240.9 L373.3,240.1 L375.3,239.3 L377.3,238.5 L379.3,237.7 L381.3,237.0 L383.3,236.2 L385.3,235.4 L387.3,234.6 L389.3,233.8 L391.3,233.0 L393.3,232.3 L395.3,231.5 L397.3,230.7 L399.3,229.9 L401.3,229.1 L403.3,228.3 L405.3,227.6 L407.3,226.8 L409.3,226.0 L411.3,225.2 L413.3,224.4 L415.3,223.7 L417.3,222.9 L419.3,222.1 L421.3,221.3 L423.3,220.5 L425.3,219.8 L427.3,219.0 L429.3,218.2 L431.3,217.4 L433.3,216.6 L435.3,215.8 L437.3,215.1 L439.3,214.3 L441.3,213.5 L443.3,212.7 L445.3,211.9 L447.3,211.2 L449.3,210.4 L451.3,209.6 L453.3,208.8 L455.3,208.0 L457.3,207.3 L459.3,206.5 L461.3,205.7 L463.3,204.9 L465.3,204.1 L467.3,203.4 L469.3,202.6 L471.3,201.8 L473.3,201.0 L475.3,200.2 L477.3,199.5 L479.3,198.7 L481.3,197.9 L483.3,197.1 L485.3,196.3 L487.3,195.6 L489.3,194.8 L491.3,194.0 L493.3,193.2 L495.3,192.4 L497.3,191.7 L499.3,190.9 L501.3,190.1 L503.3,189.3 L505.3,188.5 L507.3,187.8 L509.3,187.0 L511.3,186.2 L513.3,185.4 L515.3,184.6 L517.3,183.9 L519.3,183.1 L521.3,182.3 L523.3,181.5 L525.3,180.7 L527.3,180.0 L529.3,179.2 L531.3,178.4 L533.3,177.6 L535.3,176.8 L537.3,176.1 L539.3,175.3 L541.3,174.5 L543.3,173.7 L545.3,172.9 L547.3,172.2 L549.3,171.4 L550.1,171.1" fill="none" stroke="#444" stroke-width="0.8" stroke-dasharray="5 3"/>
<path d="M286.2,287.6 L288.2,286.8 L290.2,286.0 L292.2,285.1 L294.2,284.3 L296.2,283.5 L298.2,282.7 L300.2,281.9 L302.2,281.1 L304.2,280.2 L306.2,279.4 L308.2,278.6 L310.2,277.8 L312.2,277.0 L314.2,276.2 L316.2,275.4 L318.2,274.6 L320.2,273.8 L322.2,273.0 L324.2,272.2 L326.2,271.4 L328.2,270.6 L330.2,269.8 L332.2,269.0 L334.2,268.2 L336.2,267.4 L338.2,266.6 L340.2,265.9 L342.2,265.1 L344.2,264.3 L346.2,263.5 L348.2,262.7 L350.2,261.9 L352.2,261.1 L354.2,260.3 L356.2,259.5 L358.2,258.8 L360.2,258.0 L362.2,257.2 L364.2,256.4 L366.2,255.6 L368.2,254.8 L370.2,254.0 L372.2,253.3 L374.2,252.5 L376.2,251.7 L378.2,250.9 L380.2,250.1 L382.2,249.3 L384.2,248.6 L386.2,247.8 L388.2,247.0 L390.2,246.2 L392.2,245.4 L394.2,244.6 L396.2,243.9 L398.2,243.1 L400.2,242.3 L402.2,241.5 L404.2,240.7 L406.2,239.9 L408.2,239.2 L410.2,238.4 L412.2,237.6 L414.2,236.8 L416.2,236.0 L418.2,235.3 L420.2,234.5 L422.2,233.7 L424.2,232.9 L426.2,232.1 L428.2,231.4 L430.2,230.6 L432.2,229.8 L434.2,229.0 L436.2,228.2 L438.2,227.4 L440.2,226.7 L442.2,225.9 L444.2,225.1 L446.2,224.3 L448.2,223.5 L450.2,222.8 L452.2,222.0 L454.2,221.2 L456.2,220.4 L458.2,219.6 L460.2,218.9 L462.2,218.1 L464.2,217.3 L466.2,216.5 L468.2,215.7 L470.2,215.0 L472.2,214.2 L474.2,213.4 L476.2,212.6 L478.2,211.8 L480.2,211.1 L482.2,210.3 L484.2,209.5 L486.2,208.7 L488.2,207.9 L490.2,207.2 L492.2,206.4 L494.2,205.6 L496.2,204.8 L498.2,204.0 L500.2,203.3 L502.2,202.5 L504.2,201.7 L506.2,200.9 L508.2,200.1 L510.2,199.4 L512.2,198.6 L514.2,197.8 L516.2,197.0 L518.2,196.2 L520.2,195.5 L522.2,194.7 L524.2,193.9 L526.2,193.1 L528.2,192.3 L530.2,191.6 L532.2,190.8 L534.2,190.0 L536.2,189.2 L538.2,188.4 L540.2,187.7 L542.2,186.9 L544.2,186.1 L546.2,185.3 L548.2,184.5 L550.1,183.8" fill="none" stroke="#444" stroke-width="0.8" stroke-dasharray="5 3"/>
<path d="M319.1,286.6 L321.1,285.8 L323.1,285.0 L325.1,284.2 L327.1,283.4 L329.1,282.6 L331.1,281.8 L333.1,281.0 L335.1,280.2 L337.1,279.4 L339.1,278.6 L341.1,277.8 L343.1,277.0 L345.1,276.2 L347.1,275.5 L349.1,274.7 L351.1,273.9 L353.1,273.1 L355.1,272.3 L357.1,271.5 L359.1,270.7 L361.1,269.9 L363.1,269.2 L365.1,268.4 L367.1,267.6 L369.1,266.8 L371.1,266.0 L373.1,265.2 L375.1,264.5 L377.1,263.7 L379.1,262.9 L381.1,262.1 L383.1,261.3 L385.1,260.5 L387.1,259.7 L389.1,259.0 L391.1,258.2 L393.1,257.4 L395.1,256.6 L397.1,255.8 L399.1,255.1 L401.1,254.3 L403.1,253.5 L405.1,252.7 L407.1,251.9 L409.1,251.1 L411.1,250.4 L413.1,249.6 L415.1,248.8 L417.1,248.0 L419.1,247.2 L421.1,246.5 L423.1,245.7 L425.1,244.9 L427.1,244.1 L429.1,243.3 L431.1,242.6 L433.1,241.8 L435.1,241.0 L437.1,240.2 L439.1,239.4 L441.1,238.6 L443.1,237.9 L445.1,237.1 L447.1,236.3 L449.1,235.5 L451.1,234.7 L453.1,234.0 L455.1,233.2 L457.1,232.4 L459.1,231.6 L461.1,230.8 L463.1,230.1 L465.1,229.3 L467.1,228.5 L469.1,227.7 L471.1,226.9 L473.1,226.2 L475.1,225.4 L477.1,224.6 L479.1,223.8 L481.1,223.0 L483.1,222.3 L485.1,221.5 L487.1,220.7 L489.1,219.9 L491.1,219.1 L493.1,218.4 L495.1,217.6 L497.1,216.8 L499.1,216.0 L501.1,215.2 L503.1,214.5 L505.1,213.7 L507.1,212.9 L509.1,212.1 L511.1,211.3 L513.1,210.6 L515.1,209.8 L517.1,209.0 L519.1,208.2 L521.1,207.4 L523.1,206.7 L525.1,205.9 L527.1,205.1 L529.1,204.3 L531.1,203.5 L533.1,202.8 L535.1,202.0 L537.1,201.2 L539.1,200.4 L541.1,199.6 L543.1,198.9 L545.1,198.1 L547.1,197.3 L549.1,196.5 L550.1,196.1" fill="none" stroke="#444" stroke-width="0.8" stroke-dasharray="5 3"/>
<path d="M352.0,285.8 L354.0,285.0 L356.0,284.2 L358.0,283.4 L360.0,282.6 L362.0,281.9 L364.0,281.1 L366.0,280.3 L368.0,279.5 L370.0,278.7 L372.0,277.9 L374.0,277.1 L376.0,276.4 L378.0,275.6 L380.0,274.8 L382.0,274.0 L384.0,273.2 L386.0,272.4 L388.0,271.7 L390.0,270.9 L392.0,270.1 L394.0,269.3 L396.0,268.5 L398.0,267.8 L400.0,267.0 L402.0,266.2 L404.0,265.4 L406.0,264.6 L408.0,263.8 L410.0,263.1 L412.0,262.3 L414.0,261.5 L416.0,260.7 L418.0,259.9 L420.0,259.2 L422.0,258.4 L424.0,257.6 L426.0,256.8 L428.0,256.0 L430.0,255.2 L432.0,254.5 L434.0,253.7 L436.0,252.9 L438.0,252.1 L440.0,251.3 L442.0,250.6 L444.0,249.8 L446.0,249.0 L448.0,248.2 L450.0,247.4 L452.0,246.7 L454.0,245.9 L456.0,245.1 L458.0,244.3 L460.0,243.5 L462.0,242.8 L464.0,242.0 L466.0,241.2 L468.0,240.4 L470.0,239.6 L472.0,238.9 L474.0,238.1 L476.0,237.3 L478.0,236.5 L480.0,235.7 L482.0,235.0 L484.0,234.2 L486.0,233.4 L488.0,232.6 L490.0,231.8 L492.0,231.1 L494.0,230.3 L496.0,229.5 L498.0,228.7 L500.0,227.9 L502.0,227.2 L504.0,226.4 L506.0,225.6 L508.0,224.8 L510.0,224.0 L512.0,223.3 L514.0,222.5 L516.0,221.7 L518.0,220.9 L520.0,220.1 L522.0,219.4 L524.0,218.6 L526.0,217.8 L528.0,217.0 L530.0,216.2 L532.0,215.5 L534.0,214.7 L536.0,213.9 L538.0,213.1 L540.0,212.3 L542.0,211.6 L544.0,210.8 L546.0,210.0 L548.0,209.2 L550.0,208.4 L550.1,208.4" fill="none" stroke="#444" stroke-width="0.8" stroke-dasharray="5 3"/>
<path d="M384.9,285.2 L386.9,284.4 L388.9,283.6 L390.9,282.8 L392.9,282.0 L394.9,281.3 L396.9,280.5 L398.9,279.7 L400.9,278.9 L402.9,278.1 L404.9,277.4 L406.9,276.6 L408.9,275.8 L410.9,275.0 L412.9,274.2 L414.9,273.4 L416.9,272.7 L418.9,271.9 L420.9,271.1 L422.9,270.3 L424.9,269.5 L426.9,268.8 L428.9,268.0 L430.9,267.2 L432.9,266.4 L434.9,265.6 L436.9,264.9 L438.9,264.1 L440.9,263.3 L442.9,262.5 L444.9,261.7 L446.9,261.0 L448.9,260.2 L450.9,259.4 L452.9,258.6 L454.9,257.8 L456.9,257.1 L458.9,256.3 L460.9,255.5 L462.9,254.7 L464.9,253.9 L466.9,253.2 L468.9,252.4 L470.9,251.6 L472.9,250.8 L474.9,250.0 L476.9,249.2 L478.9,248.5 L480.9,247.7 L482.9,246.9 L484.9,246.1 L486.9,245.3 L488.9,244.6 L490.9,243.8 L492.9,243.0 L494.9,242.2 L496.9,241.4 L498.9,240.7 L500.9,239.9 L502.9,239.1 L504.9,238.3 L506.9,237.5 L508.9,236.8 L510.9,236.0 L512.9,235.2 L514.9,234.4 L516.9,233.6 L518.9,232.9 L520.9,232.1 L522.9,231.3 L524.9,230.5 L526.9,229.7 L528.9,229.0 L530.9,228.2 L532.9,227.4 L534.9,226.6 L536.9,225.8 L538.9,225.1 L540.9,224.3 L542.9,223.5 L544.9,222.7 L546.9,221.9 L548.9,221.2 L550.1,220.7" fill="none" stroke="#444" stroke-width="0.8" stroke-dasharray="5 3"/>
<path d="M417.9,284.7 L419.9,283.9 L421.9,283.1 L423.9,282.3 L425.9,281.6 L427.9,280.8 L429.9,280.0 L431.9,279.2 L433.9,278.4 L435.9,277.6 L437.9,276.9 L439.9,276.1 L441.9,275.3 L443.9,274.5 L445.9,273.7 L447.9,273.0 L449.9,272.2 L451.9,271.4 L453.9,270.6 L455.9,269.8 L457.9,269.1 L459.9,268.3 L461.9,267.5 L463.9,266.7 L465.9,265.9 L467.9,265.2 L469.9,264.4 L471.9,263.6 L473.9,262.8 L475.9,262.0 L477.9,261.3 L479.9,260.5 L481.9,259.7 L483.9,258.9 L485.9,258.1 L487.9,257.4 L489.9,256.6 L491.9,255.8 L493.9,255.0 L495.9,254.2 L497.9,253.5 L499.9,252.7 L501.9,251.9 L503.9,251.1 L505.9,250.3 L507.9,249.6 L509.9,248.8 L511.9,248.0 L513.9,247.2 L515.9,246.4 L517.9,245.7 L519.9,244.9 L521.9,244.1 L523.9,243.3 L525.9,242.5 L527.9,241.8 L529.9,241.0 L531.9,240.2 L533.9,239.4 L535.9,238.6 L537.9,237.9 L539.9,237.1 L541.9,236.3 L543.9,235.5 L545.9,234.7 L547.9,234.0 L549.9,233.2 L550.1,233.1" fill="none" stroke="#444" stroke-width="0.8" stroke-dasharray="5 3"/>
<path d="M450.8,284.2 L452.8,283.5 L454.8,282.7 L456.8,281.9 L458.8,281.1 L460.8,280.3 L462.8,279.6 L464.8,278.8 L466.8,278.0 L468.8,277.2 L470.8,276.4 L472.8,275.7 L474.8,274.9 L476.8,274.1 L478.8,273.3 L480.8,272.5 L482.8,271.8 L484.8,271.0 L486.8,270.2 L488.8,269.4 L490.8,268.6 L492.8,267.9 L494.8,267.1 L496.8,266.3 L498.8,265.5 L500.8,264.7 L502.8,264.0 L504.8,263.2 L506.8,262.4 L508.8,261.6 L510.8,260.8 L512.8,260.1 L514.8,259.3 L516.8,258.5 L518.8,257.7 L520.8,256.9 L522.8,256.2 L524.8,255.4 L526.8,254.6 L528.8,253.8 L530.8,253.0 L532.8,252.3 L534.8,251.5 L536.8,250.7 L538.8,249.9 L540.8,249.1 L542.8,248.4 L544.8,247.6 L546.8,246.8 L548.8,246.0 L550.1,245.5" fill="none" stroke="#444" stroke-width="0.8" stroke-dasharray="5 3"/>
<path d="M483.7,283.9 L485.7,283.1 L487.7,282.3 L489.7,281.5 L491.7,280.7 L493.7,280.0 L495.7,279.2 L497.7,278.4 L499.7,277.6 L501.7,276.8 L503.7,276.1 L505.7,275.3 L507.7,274.5 L509.7,273.7 L511.7,272.9 L513.7,272.2 L515.7,271.4 L517.7,270.6 L519.7,269.8 L521.7,269.0 L523.7,268.3 L525.7,267.5 L527.7,266.7 L529.7,265.9 L531.7,265.1 L533.7,264.4 L535.7,263.6 L537.7,262.8 L539.7,262.0 L541.7,261.2 L543.7,260.5 L545.7,259.7 L547.7,258.9 L549.7,258.1 L550.1,258.0" fill="none" stroke="#444" stroke-width="0.8" stroke-dasharray="5 3"/>
<path d="M516.6,283.5 L518.6,282.7 L520.6,281.9 L522.6,281.2 L524.6,280.4 L526.6,279.6 L528.6,278.8 L530.6,278.0 L532.6,277.3 L534.6,276.5 L536.6,275.7 L538.6,274.9 L540.6,274.1 L542.6,273.4 L544.6,272.6 L546.6,271.8 L548.6,271.0 L550.1,270.4" fill="none" stroke="#444" stroke-width="0.8" stroke-dasharray="5 3"/>
<path d="M487 115.5h1M502 115.5h1M504 115.5h2M513 115.5h2M518 115.5h1M520 115.5h1M527 115.5h1M533 115.5h1M536 115.5h1M544 115.5h1M548 115.5h1M455 116.5h1M461 116.5h1M463 116.5h2M477 116.5h1M479 116.5h1M482 116.5h1M485 116.5h1M493 116.5h1M511 116.5h1M524 116.5h1M528 116.5h1M538 116.5h2M544 116.5h1M407 117.5h1M416 117.5h1M420 117.5h1M446 117.5h1M455 117.5h1M457 117.5h1M467 117.5h1M471 117.5h1M473 117.5h4M482 117.5h1M487 117.5h1M493 117.5h1M496 117.5h1M501 117.5h2M512 117.5h1M519 117.5h1M529 117.5h1M532 117.5h1M536 117.5h2M539 117.5h2M544 117.5h1M548 117.5h1M415 118.5h1M439 118.5h1M457 118.5h1M459 118.5h1M466 118.5h1M470 118.5h1M474 118.5h1M505 118.5h1M514 118.5h1M530 118.5h1M534 118.5h1M543 118.5h1M547 118.5h1M421 119.5h1M433 119.5h1M440 119.5h1M451 119.5h1M454 119.5h1M462 119.5h1M464 119.5h1M466 119.5h1M469 119.5h1M485 119.5h1M496 119.5h1M499 119.5h2M508 119.5h2M513 119.5h1M517 119.5h1M521 119.5h1M528 119.5h1M530 119.5h2M542 119.5h1M545 119.5h1M548 119.5h1M413 120.5h1M443 120.5h1M457 120.5h1M462 120.5h1M469 120.5h1M471 120.5h1M481 120.5h1M487 120.5h2M490 120.5h1M493 120.5h2M499 120.5h1M504 120.5h1M506 120.5h1M508 120.5h2M511 120.5h2M516 120.5h1M521 120.5h1M528 120.5h1M530 120.5h2M536 120.5h2M545 120.5h1M547 120.5h1M403 121.5h1M427 121.5h1M430 121.5h1M448 121.5h1M472 121.5h1M475 121.5h1M477 121.5h1M479 121.5h1M487 121.5h1M490 121.5h1M497 121.5h2M501 121.5h1M507 121.5h1M512 121.5h1M518 121.5h1M520 121.5h1M526 121.5h2M535 121.5h1M539 121.5h1M356 122.5h1M414 122.5h1M455 122.5h1M461 122.5h1M471 122.5h1M476 122.5h1M493 122.5h1M497 122.5h1M501 122.5h1M503 122.5h1M505 122.5h1M508 122.5h1M515 122.5h1M521 122.5h1M536 122.5h1M544 122.5h1M547 122.5h2M416 123.5h1M425 123.5h1M435 123.5h1M437 123.5h1M444 123.5h2M455 123.5h1M470 123.5h2M481 123.5h1M484 123.5h1M488 123.5h1M498 123.5h1M502 123.5h1M521 123.5h1M525 123.5h1M527 123.5h1M531 123.5h1M534 123.5h2M538 123.5h1M548 123.5h1M419 124.5h1M425 124.5h1M453 124.5h1M463 124.5h1M467 124.5h1M489 124.5h1M492 124.5h1M495 124.5h1M501 124.5h1M511 124.5h1M514 124.5h1M529 124.5h1M537 124.5h1M406 125.5h1M409 125.5h1M441 125.5h1M451 125.5h1M453 125.5h1M456 125.5h1M459 125.5h1M467 125.5h2M481 125.5h3M488 125.5h1M494 125.5h1M518 125.5h1M521 125.5h1M525 125.5h1M532 125.5h2M542 125.5h1M312 126.5h1M417 126.5h1M428 126.5h1M434 126.5h1M446 126.5h1M451 126.5h2M472 126.5h1M476 126.5h1M506 126.5h1M508 126.5h1M511 126.5h1M517 126.5h1M521 126.5h1M537 126.5h1M540 126.5h1M543 126.5h1M547 126.5h1M334 127.5h1M417 127.5h2M425 127.5h1M432 127.5h1M439 127.5h1M442 127.5h1M451 127.5h2M455 127.5h1M459 127.5h1M462 127.5h1M465 127.5h1M470 127.5h1M478 127.5h1M480 127.5h3M486 127.5h2M495 127.5h1M498 127.5h1M517 127.5h1M520 127.5h1M534 127.5h1M537 127.5h3M541 127.5h1M544 127.5h1M547 127.5h1M296 128.5h1M429 128.5h1M435 128.5h2M441 128.5h1M444 128.5h1M450 128.5h1M458 128.5h1M462 128.5h1M465 128.5h1M467 128.5h1M469 128.5h1M471 128.5h1M477 128.5h1M482 128.5h1M488 128.5h1M505 128.5h1M513 128.5h1M516 128.5h1M526 128.5h1M528 128.5h1M532 128.5h1M538 128.5h1M548 128.5h1M291 129.5h1M303 129.5h1M412 129.5h1M421 129.5h1M433 129.5h1M445 129.5h2M466 129.5h2M481 129.5h1M493 129.5h1M502 129.5h1M504 129.5h1M508 129.5h1M510 129.5h1M514 129.5h1M516 129.5h1M518 129.5h1M523 129.5h1M529 129.5h1M533 129.5h1M543 129.5h1M545 129.5h1M280 130.5h1M293 130.5h1M307 130.5h1M348 130.5h1M413 130.5h1M417 130.5h1M421 130.5h1M433 130.5h1M450 130.5h1M462 130.5h1M464 130.5h1M468 130.5h2M473 130.5h1M476 130.5h1M488 130.5h1M496 130.5h1M506 130.5h1M518 130.5h1M522 130.5h2M526 130.5h1M531 130.5h1M535 130.5h1M537 130.5h1M544 130.5h1M546 130.5h1M300 131.5h1M424 131.5h1M426 131.5h1M433 131.5h1M446 131.5h1M448 131.5h1M450 131.5h1M454 131.5h1M462 131.5h1M464 131.5h1M466 131.5h1M480 131.5h2M484 131.5h3M488 131.5h1M491 131.5h1M498 131.5h1M502 131.5h1M509 131.5h2M513 131.5h1M523 131.5h1M526 131.5h1M536 131.5h1M538 131.5h1M541 131.5h1M548 131.5h1M305 132.5h1M404 132.5h1M415 132.5h1M433 132.5h1M445 132.5h2M456 132.5h1M460 132.5h1M470 132.5h1M472 132.5h2M480 132.5h1M483 132.5h1M485 132.5h1M490 132.5h1M494 132.5h1M497 132.5h1M500 132.5h1M509 132.5h1M512 132.5h1M525 132.5h1M529 132.5h1M538 132.5h1M542 132.5h1M547 132.5h1M281 133.5h1M286 133.5h1M414 133.5h1M422 133.5h1M425 133.5h1M438 133.5h1M442 133.5h1M445 133.5h1M464 133.5h1M474 133.5h2M489 133.5h1M513 133.5h2M538 133.5h1M543 133.5h1M364 134.5h1M401 134.5h1M429 134.5h1M434 134.5h1M455 134.5h1M463 134.5h1M466 134.5h1M469 134.5h1M474 134.5h1M479 134.5h1M487 134.5h1M499 134.5h1M508 134.5h2M512 134.5h1M514 134.5h1M516 134.5h2M521 134.5h1M526 134.5h1M536 134.5h2M544 134.5h1M230 135.5h1M420 135.5h1M424 135.5h1M427 135.5h1M432 135.5h1M435 135.5h1M444 135.5h2M450 135.5h1M453 135.5h2M474 135.5h1M477 135.5h1M485 135.5h1M487 135.5h1M489 135.5h2M492 135.5h1M494 135.5h1M496 135.5h1M500 135.5h3M521 135.5h1M523 135.5h1M533 135.5h2M540 135.5h1M284 136.5h1M296 136.5h1M318 136.5h1M401 136.5h1M405 136.5h1M424 136.5h1M426 136.5h1M441 136.5h1M445 136.5h1M449 136.5h2M453 136.5h2M456 136.5h3M465 136.5h2M478 136.5h1M482 136.5h2M485 136.5h2M493 136.5h1M501 136.5h1M506 136.5h1M519 136.5h1M528 136.5h3M534 136.5h2M538 136.5h1M540 136.5h1M542 136.5h1M220 137.5h1M268 137.5h1M326 137.5h1M358 137.5h1M390 137.5h1M430 137.5h1M433 137.5h1M445 137.5h1M450 137.5h3M464 137.5h1M472 137.5h2M475 137.5h1M488 137.5h1M490 137.5h1M494 137.5h1M505 137.5h1M509 137.5h2M512 137.5h1M515 137.5h1M524 137.5h1M528 137.5h1M532 137.5h2M539 137.5h1M546 137.5h1M372 138.5h1M401 138.5h1M421 138.5h1M426 138.5h1M451 138.5h2M454 138.5h1M458 138.5h1M467 138.5h1M473 138.5h1M485 138.5h1M489 138.5h1M494 138.5h3M505 138.5h1M510 138.5h1M512 138.5h1M521 138.5h1M524 138.5h2M527 138.5h1M530 138.5h1M534 138.5h1M536 138.5h1M211 139.5h1M215 139.5h1M357 139.5h1M424 139.5h1M430 139.5h1M450 139.5h1M461 139.5h1M467 139.5h1M473 139.5h1M475 139.5h1M484 139.5h1M517 139.5h1M528 139.5h1M530 139.5h1M532 139.5h1M534 139.5h1M541 139.5h1M543 139.5h1M546 139.5h1M208 140.5h1M433 140.5h1M438 140.5h1M440 140.5h2M448 140.5h1M455 140.5h1M462 140.5h1M464 140.5h1M471 140.5h1M478 140.5h1M480 140.5h1M483 140.5h2M498 140.5h1M500 140.5h1M514 140.5h1M526 140.5h1M529 140.5h1M532 140.5h1M535 140.5h2M542 140.5h1M547 140.5h1M380 141.5h1M409 141.5h1M443 141.5h1M454 141.5h2M462 141.5h1M466 141.5h1M469 141.5h1M478 141.5h1M480 141.5h1M489 141.5h1M497 141.5h1M512 141.5h1M514 141.5h1M519 141.5h2M522 141.5h1M524 141.5h1M526 141.5h1M529 141.5h3M538 141.5h1M237 142.5h1M241 142.5h1M404 142.5h1M420 142.5h1M425 142.5h1M433 142.5h1M442 142.5h1M448 142.5h1M455 142.5h1M457 142.5h1M463 142.5h1M466 142.5h1M478 142.5h1M485 142.5h2M494 142.5h1M501 142.5h1M514 142.5h1M518 142.5h1M528 142.5h1M533 142.5h1M535 142.5h1M538 142.5h1M541 142.5h1M547 142.5h1M224 143.5h1M306 143.5h1M370 143.5h1M413 143.5h1M454 143.5h1M456 143.5h1M458 143.5h1M465 143.5h1M477 143.5h1M496 143.5h1M498 143.5h1M500 143.5h1M503 143.5h1M510 143.5h1M512 143.5h1M520 143.5h2M534 143.5h1M536 143.5h1M541 143.5h1M548 143.5h1M191 144.5h1M205 144.5h1M328 144.5h1M374 144.5h1M422 144.5h1M448 144.5h1M458 144.5h1M461 144.5h1M466 144.5h1M470 144.5h1M472 144.5h2M479 144.5h1M482 144.5h1M487 144.5h2M490 144.5h1M493 144.5h1M500 144.5h2M511 144.5h2M516 144.5h2M526 144.5h1M528 144.5h1M538 144.5h1M542 144.5h1M545 144.5h2M548 144.5h1M299 145.5h1M311 145.5h1M407 145.5h1M419 145.5h1M425 145.5h1M435 145.5h1M442 145.5h1M450 145.5h1M456 145.5h1M477 145.5h1M482 145.5h1M492 145.5h2M499 145.5h1M502 145.5h1M505 145.5h1M507 145.5h1M510 145.5h1M521 145.5h1M525 145.5h1M527 145.5h1M530 145.5h1M536 145.5h1M544 145.5h1M409 146.5h1M448 146.5h1M450 146.5h1M457 146.5h1M468 146.5h1M470 146.5h1M479 146.5h3M483 146.5h1M485 146.5h1M495 146.5h1M498 146.5h2M507 146.5h1M509 146.5h1M515 146.5h1M522 146.5h2M537 146.5h1M540 146.5h2M543 146.5h2M187 147.5h1M248 147.5h1M257 147.5h1M385 147.5h1M409 147.5h1M418 147.5h1M421 147.5h1M433 147.5h1M438 147.5h1M452 147.5h1M457 147.5h1M459 147.5h1M461 147.5h1M463 147.5h1M472 147.5h1M474 147.5h1M476 147.5h1M481 147.5h3M485 147.5h1M489 147.5h1M496 147.5h1M501 147.5h1M505 147.5h1M511 147.5h1M518 147.5h1M520 147.5h1M530 147.5h1M532 147.5h2M535 147.5h1M538 147.5h1M542 147.5h2M417 148.5h1M428 148.5h1M437 148.5h1M456 148.5h1M461 148.5h1M468 148.5h1M480 148.5h1M482 148.5h1M485 148.5h1M490 148.5h1M496 148.5h1M501 148.5h1M507 148.5h1M509 148.5h1M513 148.5h1M515 148.5h2M520 148.5h1M538 148.5h1M543 148.5h2M548 148.5h1M427 149.5h1M435 149.5h1M445 149.5h1M453 149.5h1M455 149.5h1M464 149.5h1M466 149.5h1M471 149.5h1M475 149.5h2M479 149.5h1M482 149.5h1M485 149.5h1M490 149.5h3M495 149.5h1M497 149.5h2M502 149.5h3M523 149.5h1M536 149.5h2M540 149.5h1M545 149.5h1M369 150.5h1M390 150.5h1M443 150.5h1M453 150.5h2M463 150.5h1M469 150.5h1M473 150.5h1M480 150.5h1M485 150.5h2M492 150.5h1M494 150.5h1M500 150.5h1M517 150.5h1M519 150.5h1M523 150.5h2M529 150.5h1M543 150.5h2M178 151.5h1M422 151.5h1M433 151.5h2M468 151.5h1M476 151.5h1M481 151.5h1M487 151.5h1M492 151.5h1M499 151.5h1M510 151.5h1M516 151.5h3M524 151.5h3M529 151.5h1M531 151.5h1M534 151.5h1M540 151.5h2M543 151.5h1M546 151.5h1M190 152.5h1M207 152.5h1M299 152.5h1M340 152.5h1M442 152.5h2M453 152.5h1M458 152.5h1M463 152.5h2M473 152.5h1M481 152.5h1M494 152.5h1M497 152.5h1M513 152.5h2M524 152.5h1M526 152.5h1M533 152.5h2M538 152.5h1M540 152.5h1M545 152.5h2M208 153.5h1M417 153.5h1M442 153.5h1M445 153.5h1M447 153.5h1M452 153.5h1M461 153.5h1M470 153.5h1M473 153.5h1M477 153.5h1M479 153.5h1M483 153.5h1M487 153.5h1M490 153.5h3M497 153.5h1M499 153.5h1M513 153.5h2M521 153.5h1M525 153.5h1M534 153.5h1M536 153.5h1M539 153.5h2M544 153.5h1M220 154.5h1M419 154.5h1M448 154.5h1M461 154.5h1M468 154.5h2M473 154.5h1M477 154.5h1M483 154.5h1M488 154.5h1M493 154.5h1M496 154.5h1M499 154.5h2M508 154.5h1M510 154.5h1M519 154.5h1M526 154.5h1M530 154.5h1M533 154.5h1M535 154.5h1M538 154.5h1M540 154.5h1M545 154.5h1M547 154.5h1M268 155.5h1M284 155.5h1M286 155.5h1M319 155.5h1M321 155.5h1M429 155.5h1M450 155.5h1M452 155.5h1M454 155.5h1M475 155.5h1M490 155.5h3M506 155.5h1M509 155.5h1M511 155.5h1M523 155.5h2M531 155.5h1M536 155.5h1M541 155.5h2M544 155.5h1M547 155.5h1M176 156.5h1M437 156.5h1M440 156.5h1M449 156.5h1M466 156.5h1M480 156.5h1M484 156.5h2M489 156.5h1M492 156.5h1M494 156.5h1M504 156.5h1M513 156.5h1M539 156.5h1M541 156.5h1M544 156.5h1M439 157.5h1M442 157.5h1M453 157.5h1M467 157.5h1M479 157.5h1M483 157.5h2M488 157.5h1M491 157.5h1M493 157.5h1M501 157.5h1M508 157.5h1M512 157.5h3M532 157.5h1M536 157.5h1M538 157.5h1M203 158.5h1M256 158.5h1M399 158.5h1M409 158.5h1M417 158.5h1M428 158.5h1M437 158.5h1M450 158.5h1M466 158.5h1M472 158.5h1M484 158.5h1M487 158.5h1M497 158.5h1M499 158.5h2M502 158.5h3M507 158.5h1M513 158.5h1M526 158.5h1M535 158.5h1M539 158.5h2M546 158.5h1M252 159.5h1M257 159.5h1M266 159.5h1M331 159.5h1M348 159.5h1M438 159.5h1M445 159.5h2M452 159.5h1M457 159.5h1M474 159.5h1M479 159.5h2M485 159.5h1M492 159.5h1M496 159.5h1M502 159.5h1M509 159.5h1M512 159.5h1M518 159.5h3M525 159.5h1M532 159.5h1M535 159.5h1M538 159.5h2M544 159.5h1M410 160.5h1M413 160.5h1M416 160.5h1M461 160.5h1M471 160.5h1M480 160.5h1M493 160.5h2M497 160.5h1M504 160.5h1M511 160.5h2M514 160.5h1M524 160.5h1M531 160.5h1M535 160.5h2M253 161.5h1M413 161.5h1M436 161.5h1M440 161.5h1M453 161.5h1M461 161.5h2M482 161.5h1M486 161.5h1M494 161.5h1M504 161.5h2M517 161.5h1M519 161.5h1M523 161.5h1M525 161.5h1M528 161.5h1M542 161.5h3M175 162.5h1M334 162.5h1M387 162.5h1M430 162.5h1M445 162.5h1M447 162.5h2M457 162.5h1M459 162.5h2M467 162.5h1M472 162.5h1M488 162.5h1M491 162.5h3M496 162.5h1M498 162.5h1M500 162.5h2M511 162.5h1M515 162.5h1M527 162.5h1M531 162.5h1M539 162.5h2M546 162.5h1M244 163.5h1M302 163.5h1M391 163.5h1M412 163.5h1M423 163.5h1M445 163.5h1M463 163.5h1M465 163.5h1M474 163.5h1M483 163.5h1M489 163.5h2M493 163.5h1M499 163.5h1M501 163.5h1M504 163.5h1M507 163.5h1M509 163.5h1M512 163.5h1M515 163.5h1M518 163.5h1M526 163.5h1M529 163.5h1M535 163.5h1M545 163.5h1M328 164.5h1M459 164.5h1M462 164.5h1M465 164.5h1M467 164.5h1M475 164.5h1M477 164.5h1M480 164.5h1M483 164.5h1M490 164.5h1M498 164.5h1M500 164.5h2M507 164.5h2M516 164.5h1M518 164.5h1M520 164.5h1M524 164.5h1M529 164.5h1M537 164.5h2M142 165.5h1M405 165.5h1M418 165.5h1M422 165.5h1M446 165.5h1M452 165.5h1M454 165.5h1M465 165.5h2M475 165.5h1M477 165.5h1M482 165.5h1M485 165.5h1M487 165.5h1M493 165.5h1M495 165.5h1M517 165.5h1M522 165.5h1M535 165.5h2M538 165.5h1M540 165.5h1M545 165.5h1M547 165.5h1M222 166.5h1M413 166.5h1M435 166.5h1M444 166.5h2M451 166.5h2M460 166.5h1M472 166.5h2M483 166.5h1M486 166.5h1M490 166.5h1M494 166.5h1M501 166.5h1M504 166.5h1M506 166.5h1M513 166.5h1M518 166.5h1M520 166.5h1M524 166.5h1M531 166.5h1M536 166.5h2M540 166.5h1M546 166.5h1M144 167.5h1M253 167.5h1M288 167.5h1M409 167.5h1M425 167.5h1M428 167.5h1M437 167.5h1M447 167.5h1M452 167.5h1M457 167.5h1M462 167.5h1M464 167.5h2M468 167.5h1M474 167.5h1M487 167.5h1M495 167.5h1M497 167.5h1M499 167.5h1M506 167.5h2M514 167.5h1M521 167.5h1M525 167.5h2M536 167.5h1M160 168.5h1M178 168.5h1M404 168.5h1M409 168.5h1M438 168.5h1M457 168.5h1M479 168.5h1M486 168.5h1M495 168.5h1M497 168.5h1M512 168.5h1M516 168.5h1M522 168.5h2M529 168.5h2M535 168.5h1M542 168.5h1M293 169.5h1M419 169.5h1M439 169.5h1M441 169.5h2M446 169.5h1M455 169.5h1M457 169.5h1M461 169.5h1M464 169.5h1M468 169.5h1M481 169.5h1M487 169.5h1M496 169.5h1M499 169.5h1M504 169.5h2M507 169.5h1M512 169.5h1M514 169.5h1M522 169.5h1M533 169.5h1M538 169.5h2M542 169.5h1M235 170.5h1M318 170.5h1M330 170.5h1M404 170.5h1M415 170.5h1M444 170.5h1M446 170.5h1M451 170.5h1M454 170.5h1M456 170.5h1M461 170.5h1M483 170.5h1M486 170.5h1M488 170.5h1M491 170.5h1M494 170.5h1M504 170.5h2M507 170.5h1M512 170.5h1M520 170.5h1M534 170.5h1M536 170.5h1M543 170.5h1M547 170.5h1M163 171.5h1M249 171.5h1M291 171.5h1M413 171.5h1M418 171.5h1M445 171.5h1M450 171.5h1M467 171.5h1M477 171.5h1M485 171.5h1M492 171.5h1M494 171.5h1M504 171.5h1M508 171.5h2M524 171.5h1M532 171.5h1M534 171.5h1M536 171.5h1M544 171.5h1M548 171.5h1M344 172.5h1M368 172.5h1M427 172.5h1M446 172.5h1M459 172.5h1M468 172.5h1M470 172.5h1M482 172.5h2M487 172.5h1M492 172.5h1M495 172.5h1M498 172.5h1M511 172.5h1M513 172.5h1M519 172.5h1M525 172.5h1M537 172.5h1M541 172.5h1M543 172.5h2M141 173.5h1M417 173.5h1M420 173.5h1M431 173.5h1M436 173.5h1M439 173.5h1M463 173.5h1M465 173.5h1M470 173.5h1M477 173.5h1M490 173.5h2M501 173.5h1M505 173.5h1M530 173.5h1M544 173.5h1M548 173.5h1M166 174.5h1M258 174.5h1M431 174.5h1M448 174.5h1M455 174.5h1M460 174.5h1M472 174.5h1M475 174.5h1M480 174.5h2M484 174.5h1M490 174.5h1M496 174.5h1M500 174.5h4M515 174.5h2M523 174.5h1M526 174.5h1M528 174.5h1M531 174.5h1M539 174.5h1M325 175.5h1M376 175.5h1M408 175.5h1M416 175.5h1M423 175.5h1M438 175.5h1M441 175.5h1M449 175.5h1M451 175.5h1M458 175.5h1M482 175.5h4M494 175.5h1M506 175.5h1M514 175.5h1M530 175.5h4M535 175.5h1M540 175.5h1M543 175.5h1M548 175.5h1M148 176.5h1M423 176.5h1M433 176.5h2M440 176.5h1M457 176.5h1M460 176.5h1M469 176.5h1M479 176.5h1M489 176.5h1M495 176.5h1M499 176.5h2M509 176.5h1M517 176.5h1M524 176.5h1M526 176.5h1M528 176.5h1M530 176.5h1M533 176.5h1M537 176.5h1M540 176.5h1M542 176.5h1M544 176.5h1M546 176.5h1M548 176.5h1M186 177.5h1M304 177.5h1M322 177.5h1M416 177.5h1M427 177.5h1M435 177.5h1M442 177.5h2M447 177.5h2M461 177.5h1M469 177.5h1M472 177.5h1M474 177.5h1M479 177.5h1M481 177.5h1M483 177.5h1M485 177.5h2M494 177.5h1M496 177.5h1M501 177.5h2M505 177.5h1M507 177.5h1M509 177.5h1M514 177.5h1M517 177.5h2M523 177.5h1M526 177.5h1M528 177.5h1M538 177.5h1M548 177.5h1M281 178.5h1M285 178.5h1M403 178.5h1M432 178.5h1M454 178.5h2M459 178.5h2M464 178.5h1M474 178.5h1M479 178.5h1M484 178.5h2M499 178.5h1M503 178.5h1M505 178.5h1M509 178.5h1M511 178.5h1M523 178.5h1M526 178.5h1M538 178.5h1M541 178.5h1M547 178.5h1M122 179.5h1M126 179.5h1M333 179.5h1M393 179.5h1M396 179.5h1M407 179.5h1M432 179.5h1M436 179.5h1M445 179.5h1M450 179.5h1M453 179.5h1M468 179.5h1M474 179.5h1M478 179.5h1M483 179.5h2M493 179.5h1M495 179.5h1M498 179.5h1M500 179.5h2M504 179.5h1M510 179.5h1M519 179.5h1M523 179.5h2M526 179.5h1M529 179.5h1M531 179.5h2M535 179.5h1M545 179.5h1M215 180.5h1M331 180.5h1M431 180.5h1M445 180.5h1M450 180.5h1M460 180.5h2M465 180.5h2M468 180.5h1M470 180.5h1M475 180.5h1M479 180.5h1M485 180.5h1M498 180.5h1M502 180.5h2M510 180.5h1M531 180.5h2M537 180.5h1M541 180.5h1M543 180.5h1M147 181.5h1M157 181.5h1M204 181.5h1M438 181.5h1M445 181.5h5M454 181.5h1M464 181.5h1M476 181.5h3M487 181.5h1M495 181.5h1M520 181.5h2M527 181.5h1M532 181.5h1M536 181.5h1M540 181.5h1M549 181.5h1M157 182.5h1M401 182.5h1M408 182.5h1M418 182.5h1M425 182.5h1M434 182.5h1M437 182.5h1M440 182.5h1M453 182.5h1M469 182.5h1M483 182.5h2M487 182.5h1M490 182.5h1M495 182.5h1M502 182.5h1M508 182.5h1M510 182.5h1M514 182.5h1M519 182.5h1M523 182.5h3M535 182.5h1M542 182.5h3M223 183.5h1M230 183.5h1M358 183.5h1M427 183.5h1M434 183.5h1M438 183.5h1M440 183.5h3M453 183.5h1M455 183.5h2M463 183.5h1M468 183.5h2M478 183.5h1M503 183.5h1M507 183.5h1M515 183.5h1M518 183.5h1M521 183.5h1M523 183.5h1M529 183.5h1M539 183.5h1M545 183.5h1M253 184.5h1M296 184.5h1M401 184.5h1M420 184.5h1M439 184.5h1M444 184.5h1M452 184.5h1M459 184.5h1M478 184.5h1M483 184.5h1M487 184.5h1M491 184.5h1M494 184.5h1M505 184.5h1M512 184.5h1M514 184.5h1M517 184.5h1M520 184.5h1M522 184.5h1M526 184.5h1M528 184.5h1M533 184.5h1M539 184.5h1M542 184.5h1M547 184.5h1M155 185.5h1M295 185.5h1M417 185.5h1M420 185.5h1M434 185.5h1M442 185.5h1M449 185.5h1M479 185.5h1M489 185.5h2M512 185.5h1M514 185.5h1M519 185.5h2M524 185.5h1M530 185.5h1M533 185.5h1M153 186.5h1M409 186.5h1M450 186.5h1M464 186.5h2M468 186.5h1M479 186.5h1M490 186.5h1M501 186.5h2M507 186.5h1M514 186.5h1M522 186.5h1M531 186.5h1M537 186.5h2M543 186.5h1M549 186.5h1M286 187.5h1M450 187.5h1M456 187.5h1M459 187.5h1M465 187.5h1M474 187.5h1M488 187.5h1M492 187.5h1M495 187.5h1M499 187.5h1M515 187.5h1M521 187.5h2M534 187.5h1M538 187.5h1M307 188.5h1M344 188.5h1M368 188.5h1M423 188.5h1M431 188.5h1M435 188.5h1M443 188.5h1M451 188.5h1M453 188.5h1M456 188.5h1M462 188.5h1M467 188.5h1M469 188.5h1M472 188.5h1M475 188.5h1M478 188.5h2M481 188.5h1M484 188.5h1M490 188.5h2M505 188.5h2M508 188.5h1M524 188.5h1M528 188.5h1M532 188.5h1M544 188.5h1M547 188.5h1M549 188.5h1M127 189.5h1M220 189.5h1M335 189.5h1M382 189.5h1M412 189.5h1M441 189.5h2M452 189.5h1M456 189.5h1M463 189.5h1M469 189.5h1M471 189.5h1M474 189.5h1M477 189.5h1M482 189.5h1M484 189.5h1M489 189.5h1M503 189.5h1M507 189.5h1M509 189.5h1M512 189.5h1M520 189.5h1M522 189.5h1M537 189.5h1M540 189.5h1M544 189.5h1M548 189.5h1M198 190.5h1M218 190.5h1M400 190.5h1M410 190.5h1M417 190.5h1M447 190.5h1M449 190.5h1M455 190.5h1M461 190.5h1M467 190.5h1M483 190.5h1M485 190.5h1M488 190.5h1M493 190.5h1M504 190.5h1M507 190.5h1M511 190.5h1M519 190.5h1M528 190.5h1M542 190.5h1M547 190.5h2M229 191.5h1M301 191.5h1M343 191.5h2M355 191.5h1M382 191.5h1M455 191.5h1M464 191.5h1M471 191.5h1M473 191.5h1M477 191.5h1M488 191.5h2M498 191.5h1M501 191.5h1M509 191.5h1M511 191.5h2M514 191.5h1M517 191.5h2M523 191.5h2M527 191.5h1M535 191.5h1M542 191.5h1M112 192.5h1M164 192.5h1M181 192.5h1M272 192.5h1M426 192.5h1M433 192.5h1M439 192.5h1M444 192.5h1M447 192.5h1M468 192.5h1M472 192.5h1M475 192.5h1M480 192.5h1M492 192.5h1M501 192.5h1M506 192.5h1M509 192.5h1M514 192.5h2M518 192.5h1M526 192.5h2M533 192.5h1M535 192.5h1M546 192.5h1M548 192.5h2M148 193.5h1M379 193.5h1M402 193.5h1M410 193.5h1M412 193.5h1M422 193.5h1M435 193.5h1M437 193.5h1M444 193.5h1M446 193.5h2M449 193.5h1M456 193.5h1M469 193.5h1M471 193.5h1M474 193.5h1M481 193.5h1M488 193.5h2M505 193.5h1M513 193.5h1M518 193.5h1M523 193.5h1M538 193.5h1M122 194.5h1M172 194.5h1M416 194.5h1M450 194.5h1M452 194.5h3M459 194.5h1M462 194.5h1M467 194.5h1M475 194.5h1M478 194.5h1M490 194.5h1M493 194.5h2M496 194.5h1M499 194.5h2M515 194.5h1M527 194.5h1M543 194.5h1M547 194.5h2M235 195.5h1M421 195.5h1M426 195.5h2M436 195.5h2M449 195.5h1M451 195.5h1M471 195.5h1M476 195.5h1M479 195.5h2M488 195.5h1M490 195.5h2M497 195.5h1M500 195.5h1M505 195.5h1M531 195.5h1M533 195.5h1M541 195.5h2M549 195.5h1M175 196.5h1M266 196.5h1M295 196.5h1M364 196.5h1M396 196.5h1M413 196.5h1M433 196.5h2M436 196.5h1M448 196.5h1M455 196.5h1M472 196.5h1M480 196.5h1M495 196.5h1M498 196.5h1M504 196.5h2M508 196.5h2M515 196.5h1M518 196.5h1M520 196.5h1M523 196.5h1M529 196.5h2M533 196.5h1M540 196.5h1M547 196.5h1M183 197.5h1M213 197.5h1M290 197.5h1M315 197.5h1M342 197.5h1M365 197.5h1M383 197.5h1M422 197.5h1M433 197.5h1M444 197.5h1M447 197.5h1M450 197.5h2M454 197.5h2M458 197.5h1M463 197.5h1M477 197.5h1M484 197.5h1M487 197.5h1M506 197.5h1M514 197.5h2M517 197.5h3M522 197.5h2M526 197.5h1M541 197.5h1M543 197.5h1M95 198.5h1M262 198.5h1M421 198.5h1M432 198.5h1M444 198.5h1M450 198.5h1M456 198.5h2M463 198.5h1M475 198.5h1M477 198.5h1M491 198.5h1M494 198.5h1M497 198.5h1M499 198.5h1M501 198.5h2M507 198.5h1M509 198.5h1M511 198.5h1M515 198.5h1M519 198.5h1M523 198.5h1M540 198.5h2M544 198.5h1M547 198.5h1M233 199.5h1M316 199.5h1M388 199.5h1M418 199.5h1M435 199.5h1M441 199.5h1M447 199.5h1M456 199.5h1M462 199.5h1M465 199.5h1M468 199.5h1M471 199.5h2M475 199.5h1M482 199.5h1M496 199.5h2M504 199.5h1M507 199.5h1M518 199.5h2M533 199.5h1M94 200.5h1M219 200.5h1M257 200.5h1M260 200.5h1M424 200.5h1M459 200.5h1M462 200.5h1M466 200.5h1M468 200.5h1M483 200.5h2M489 200.5h1M495 200.5h1M502 200.5h2M529 200.5h1M534 200.5h1M537 200.5h1M540 200.5h4M152 201.5h1M168 201.5h1M211 201.5h1M254 201.5h1M427 201.5h1M450 201.5h2M454 201.5h1M457 201.5h2M463 201.5h1M465 201.5h1M468 201.5h1M474 201.5h3M478 201.5h1M484 201.5h1M488 201.5h1M494 201.5h1M499 201.5h1M508 201.5h1M526 201.5h1M533 201.5h2M548 201.5h1M181 202.5h1M214 202.5h1M403 202.5h1M439 202.5h1M443 202.5h1M451 202.5h1M458 202.5h1M465 202.5h2M470 202.5h1M474 202.5h1M483 202.5h1M487 202.5h2M498 202.5h1M502 202.5h1M504 202.5h1M514 202.5h1M521 202.5h1M528 202.5h1M530 202.5h1M535 202.5h1M539 202.5h1M541 202.5h1M544 202.5h1M243 203.5h1M411 203.5h1M433 203.5h1M439 203.5h1M456 203.5h2M461 203.5h2M465 203.5h1M473 203.5h1M475 203.5h2M487 203.5h1M494 203.5h1M498 203.5h1M501 203.5h1M505 203.5h1M512 203.5h1M520 203.5h1M528 203.5h1M543 203.5h1M100 204.5h1M198 204.5h1M235 204.5h1M360 204.5h1M398 204.5h1M418 204.5h1M422 204.5h1M447 204.5h2M454 204.5h1M458 204.5h1M462 204.5h3M466 204.5h1M470 204.5h1M474 204.5h1M486 204.5h1M492 204.5h2M498 204.5h1M502 204.5h1M515 204.5h1M526 204.5h2M529 204.5h1M535 204.5h1M543 204.5h2M90 205.5h1M113 205.5h1M234 205.5h1M355 205.5h1M377 205.5h1M434 205.5h1M461 205.5h1M465 205.5h1M476 205.5h2M483 205.5h1M490 205.5h1M501 205.5h1M505 205.5h2M516 205.5h1M520 205.5h1M525 205.5h1M537 205.5h2M546 205.5h1M87 206.5h1M152 206.5h1M250 206.5h1M317 206.5h1M409 206.5h1M416 206.5h1M428 206.5h1M436 206.5h1M444 206.5h1M453 206.5h1M457 206.5h1M461 206.5h2M468 206.5h1M474 206.5h1M478 206.5h1M485 206.5h1M494 206.5h1M497 206.5h2M505 206.5h1M510 206.5h1M525 206.5h2M536 206.5h1M539 206.5h4M147 207.5h1M169 207.5h1M288 207.5h1M400 207.5h1M434 207.5h1M449 207.5h1M457 207.5h1M460 207.5h1M464 207.5h3M468 207.5h3M472 207.5h2M488 207.5h1M499 207.5h2M509 207.5h3M514 207.5h1M518 207.5h3M530 207.5h1M533 207.5h1M536 207.5h1M538 207.5h1M540 207.5h1M543 207.5h1M549 207.5h1M83 208.5h1M398 208.5h1M418 208.5h1M462 208.5h1M467 208.5h1M475 208.5h1M481 208.5h1M492 208.5h1M496 208.5h1M498 208.5h4M507 208.5h1M513 208.5h1M516 208.5h1M529 208.5h1M535 208.5h1M540 208.5h1M546 208.5h1M548 208.5h1M95 209.5h1M98 209.5h1M117 209.5h1M294 209.5h1M388 209.5h1M419 209.5h1M427 209.5h1M437 209.5h1M445 209.5h1M448 209.5h1M455 209.5h1M459 209.5h1M471 209.5h1M479 209.5h1M481 209.5h1M483 209.5h1M485 209.5h1M495 209.5h1M541 209.5h5M187 210.5h1M203 210.5h1M210 210.5h1M219 210.5h1M291 210.5h1M395 210.5h2M406 210.5h1M430 210.5h1M435 210.5h1M452 210.5h1M465 210.5h1M469 210.5h1M480 210.5h2M486 210.5h1M492 210.5h1M497 210.5h1M499 210.5h1M502 210.5h1M505 210.5h1M513 210.5h1M516 210.5h1M520 210.5h1M526 210.5h1M532 210.5h1M534 210.5h1M536 210.5h1M545 210.5h1M240 211.5h1M349 211.5h1M442 211.5h2M448 211.5h2M453 211.5h1M465 211.5h1M468 211.5h1M472 211.5h1M477 211.5h1M479 211.5h2M484 211.5h2M489 211.5h1M497 211.5h1M502 211.5h1M504 211.5h1M508 211.5h2M511 211.5h1M520 211.5h2M523 211.5h1M529 211.5h2M532 211.5h1M536 211.5h1M540 211.5h1M104 212.5h1M247 212.5h1M404 212.5h1M412 212.5h1M417 212.5h1M429 212.5h1M435 212.5h1M448 212.5h1M453 212.5h1M456 212.5h1M461 212.5h1M465 212.5h1M468 212.5h2M474 212.5h1M478 212.5h1M481 212.5h1M487 212.5h1M490 212.5h1M497 212.5h3M505 212.5h1M511 212.5h1M514 212.5h1M516 212.5h1M519 212.5h3M88 213.5h1M187 213.5h1M215 213.5h1M223 213.5h1M297 213.5h1M385 213.5h1M409 213.5h1M420 213.5h1M443 213.5h1M448 213.5h1M455 213.5h1M465 213.5h2M470 213.5h1M474 213.5h2M479 213.5h1M482 213.5h2M493 213.5h1M514 213.5h1M518 213.5h1M521 213.5h1M536 213.5h2M542 213.5h1M547 213.5h1M549 213.5h1M115 214.5h1M120 214.5h1M139 214.5h1M167 214.5h1M200 214.5h1M208 214.5h1M260 214.5h1M324 214.5h1M406 214.5h1M438 214.5h2M452 214.5h3M459 214.5h1M465 214.5h1M470 214.5h1M474 214.5h1M478 214.5h1M480 214.5h2M487 214.5h1M492 214.5h1M498 214.5h1M503 214.5h1M505 214.5h1M509 214.5h1M521 214.5h1M527 214.5h1M529 214.5h1M534 214.5h1M545 214.5h1M141 215.5h2M193 215.5h1M222 215.5h1M227 215.5h1M451 215.5h1M465 215.5h1M468 215.5h1M472 215.5h1M491 215.5h2M496 215.5h1M505 215.5h1M508 215.5h3M515 215.5h1M525 215.5h1M527 215.5h2M539 215.5h1M545 215.5h1M79 216.5h1M169 216.5h1M213 216.5h1M255 216.5h1M388 216.5h1M422 216.5h1M433 216.5h1M436 216.5h1M439 216.5h2M447 216.5h3M455 216.5h1M457 216.5h1M463 216.5h1M465 216.5h1M478 216.5h1M488 216.5h1M495 216.5h1M497 216.5h1M499 216.5h1M513 216.5h1M521 216.5h1M525 216.5h1M529 216.5h1M533 216.5h1M538 216.5h1M546 216.5h1M79 217.5h1M98 217.5h1M350 217.5h1M422 217.5h1M433 217.5h1M438 217.5h1M456 217.5h1M461 217.5h1M463 217.5h1M465 217.5h1M483 217.5h3M491 217.5h1M494 217.5h1M500 217.5h2M516 217.5h2M521 217.5h1M533 217.5h1M535 217.5h1M538 217.5h2M545 217.5h1M547 217.5h1M409 218.5h1M441 218.5h1M444 218.5h2M447 218.5h1M457 218.5h1M462 218.5h2M469 218.5h3M487 218.5h1M497 218.5h1M500 218.5h1M514 218.5h1M520 218.5h2M528 218.5h1M531 218.5h2M534 218.5h1M539 218.5h1M542 218.5h1M212 219.5h1M366 219.5h1M406 219.5h1M415 219.5h1M429 219.5h1M448 219.5h1M451 219.5h2M464 219.5h1M470 219.5h1M484 219.5h1M492 219.5h1M495 219.5h1M499 219.5h2M504 219.5h1M507 219.5h3M518 219.5h1M523 219.5h2M539 219.5h1M84 220.5h1M89 220.5h1M208 220.5h1M217 220.5h1M225 220.5h1M261 220.5h1M425 220.5h1M430 220.5h1M438 220.5h1M454 220.5h1M463 220.5h1M465 220.5h3M473 220.5h1M475 220.5h1M477 220.5h1M479 220.5h1M482 220.5h1M484 220.5h1M486 220.5h2M489 220.5h1M498 220.5h1M505 220.5h2M523 220.5h1M530 220.5h1M539 220.5h1M544 220.5h1M546 220.5h2M171 221.5h1M306 221.5h1M320 221.5h1M414 221.5h1M417 221.5h1M426 221.5h1M435 221.5h1M438 221.5h1M443 221.5h1M450 221.5h1M453 221.5h1M463 221.5h1M476 221.5h1M481 221.5h2M487 221.5h1M496 221.5h1M509 221.5h1M514 221.5h1M523 221.5h1M525 221.5h1M528 221.5h1M534 221.5h1M539 221.5h1M543 221.5h1M545 221.5h1M549 221.5h1M77 222.5h1M83 222.5h1M89 222.5h1M97 222.5h1M113 222.5h1M121 222.5h1M169 222.5h1M221 222.5h1M246 222.5h1M307 222.5h1M314 222.5h1M410 222.5h1M458 222.5h1M460 222.5h1M469 222.5h1M474 222.5h2M481 222.5h1M487 222.5h1M495 222.5h1M497 222.5h1M503 222.5h2M509 222.5h2M521 222.5h1M527 222.5h1M529 222.5h1M533 222.5h2M542 222.5h1M122 223.5h1M157 223.5h1M185 223.5h1M385 223.5h1M400 223.5h1M447 223.5h1M451 223.5h1M460 223.5h1M463 223.5h1M466 223.5h1M471 223.5h1M476 223.5h1M492 223.5h1M496 223.5h1M500 223.5h1M510 223.5h1M512 223.5h1M515 223.5h1M519 223.5h1M529 223.5h1M534 223.5h2M543 223.5h1M546 223.5h1M548 223.5h1M74 224.5h1M100 224.5h1M306 224.5h2M328 224.5h1M395 224.5h1M424 224.5h1M442 224.5h1M445 224.5h1M453 224.5h1M458 224.5h1M466 224.5h3M470 224.5h2M477 224.5h1M483 224.5h1M488 224.5h1M491 224.5h1M496 224.5h1M500 224.5h1M506 224.5h1M508 224.5h1M510 224.5h1M514 224.5h3M518 224.5h3M522 224.5h1M526 224.5h1M529 224.5h1M534 224.5h3M543 224.5h1M545 224.5h1M549 224.5h1M69 225.5h1M71 225.5h1M204 225.5h1M300 225.5h1M421 225.5h1M451 225.5h1M461 225.5h1M467 225.5h1M469 225.5h1M480 225.5h1M483 225.5h2M487 225.5h1M491 225.5h2M498 225.5h1M501 225.5h1M504 225.5h1M523 225.5h1M533 225.5h1M540 225.5h1M544 225.5h1M79 226.5h1M204 226.5h1M227 226.5h1M410 226.5h1M417 226.5h1M420 226.5h1M428 226.5h1M433 226.5h1M443 226.5h1M461 226.5h2M469 226.5h3M474 226.5h1M478 226.5h1M480 226.5h1M483 226.5h1M490 226.5h2M502 226.5h1M512 226.5h1M517 226.5h1M531 226.5h2M534 226.5h1M545 226.5h1M547 226.5h1M78 227.5h1M82 227.5h1M89 227.5h1M109 227.5h1M125 227.5h1M241 227.5h1M345 227.5h1M409 227.5h1M415 227.5h1M432 227.5h1M437 227.5h1M439 227.5h1M444 227.5h2M447 227.5h1M461 227.5h1M467 227.5h1M474 227.5h1M476 227.5h1M479 227.5h1M481 227.5h1M484 227.5h1M498 227.5h2M501 227.5h1M503 227.5h1M506 227.5h1M510 227.5h1M514 227.5h1M517 227.5h2M529 227.5h1M533 227.5h2M537 227.5h1M541 227.5h1M543 227.5h1M547 227.5h1M140 228.5h1M316 228.5h1M427 228.5h1M442 228.5h1M445 228.5h2M451 228.5h1M454 228.5h1M456 228.5h1M460 228.5h1M472 228.5h1M475 228.5h1M478 228.5h1M487 228.5h1M491 228.5h1M512 228.5h2M517 228.5h2M521 228.5h1M539 228.5h1M84 229.5h1M145 229.5h1M181 229.5h1M280 229.5h1M414 229.5h1M441 229.5h1M449 229.5h1M453 229.5h1M473 229.5h1M475 229.5h2M480 229.5h1M508 229.5h2M511 229.5h1M515 229.5h1M528 229.5h1M535 229.5h1M545 229.5h2M91 230.5h1M125 230.5h1M270 230.5h1M376 230.5h1M442 230.5h1M454 230.5h2M467 230.5h1M469 230.5h1M481 230.5h1M483 230.5h1M485 230.5h1M488 230.5h2M491 230.5h1M501 230.5h1M516 230.5h1M531 230.5h1M536 230.5h1M538 230.5h3M543 230.5h2M548 230.5h1M89 231.5h1M100 231.5h1M162 231.5h1M244 231.5h1M246 231.5h1M248 231.5h1M303 231.5h1M436 231.5h1M440 231.5h1M450 231.5h1M452 231.5h1M454 231.5h1M465 231.5h1M474 231.5h2M478 231.5h1M480 231.5h1M484 231.5h1M491 231.5h2M499 231.5h1M509 231.5h3M513 231.5h1M516 231.5h1M523 231.5h2M532 231.5h1M544 231.5h1M546 231.5h1M548 231.5h1M63 232.5h1M142 232.5h1M243 232.5h1M409 232.5h1M432 232.5h1M438 232.5h1M446 232.5h1M449 232.5h1M458 232.5h1M461 232.5h1M464 232.5h1M473 232.5h1M475 232.5h1M483 232.5h1M488 232.5h1M491 232.5h1M499 232.5h2M505 232.5h1M509 232.5h1M519 232.5h1M523 232.5h1M531 232.5h1M534 232.5h1M536 232.5h1M539 232.5h1M542 232.5h2M70 233.5h1M180 233.5h1M402 233.5h1M415 233.5h1M419 233.5h1M433 233.5h1M466 233.5h1M469 233.5h1M476 233.5h1M479 233.5h2M498 233.5h1M500 233.5h1M503 233.5h1M505 233.5h1M510 233.5h2M516 233.5h1M522 233.5h1M530 233.5h1M536 233.5h1M538 233.5h1M544 233.5h1M546 233.5h1M78 234.5h1M86 234.5h1M158 234.5h1M192 234.5h1M235 234.5h1M448 234.5h2M453 234.5h1M467 234.5h3M477 234.5h1M481 234.5h1M485 234.5h1M489 234.5h1M499 234.5h1M505 234.5h1M516 234.5h1M528 234.5h1M531 234.5h1M535 234.5h1M547 234.5h1M76 235.5h1M97 235.5h1M138 235.5h1M149 235.5h1M226 235.5h1M265 235.5h1M416 235.5h1M423 235.5h1M429 235.5h1M453 235.5h1M461 235.5h2M476 235.5h2M493 235.5h1M495 235.5h2M503 235.5h3M518 235.5h1M527 235.5h1M530 235.5h1M533 235.5h2M539 235.5h1M545 235.5h1M548 235.5h1M155 236.5h1M233 236.5h1M255 236.5h1M283 236.5h1M418 236.5h1M435 236.5h1M440 236.5h1M459 236.5h1M482 236.5h1M502 236.5h3M506 236.5h1M510 236.5h1M512 236.5h2M515 236.5h1M530 236.5h1M537 236.5h1M540 236.5h1M545 236.5h1M73 237.5h1M122 237.5h1M153 237.5h1M197 237.5h1M204 237.5h1M223 237.5h1M401 237.5h2M421 237.5h1M425 237.5h1M429 237.5h1M431 237.5h1M437 237.5h1M445 237.5h1M453 237.5h1M461 237.5h1M473 237.5h1M477 237.5h2M492 237.5h3M501 237.5h1M504 237.5h1M516 237.5h1M524 237.5h2M528 237.5h1M533 237.5h1M536 237.5h1M546 237.5h3M74 238.5h1M85 238.5h1M203 238.5h1M342 238.5h1M394 238.5h1M418 238.5h1M422 238.5h1M430 238.5h1M437 238.5h1M464 238.5h2M469 238.5h1M472 238.5h1M479 238.5h1M489 238.5h4M496 238.5h1M500 238.5h1M505 238.5h1M509 238.5h1M512 238.5h1M514 238.5h1M516 238.5h1M518 238.5h1M526 238.5h1M531 238.5h1M77 239.5h1M91 239.5h1M383 239.5h1M398 239.5h1M412 239.5h1M423 239.5h1M426 239.5h1M433 239.5h1M435 239.5h1M442 239.5h1M447 239.5h1M459 239.5h1M462 239.5h1M474 239.5h3M485 239.5h1M490 239.5h1M495 239.5h3M500 239.5h1M502 239.5h1M507 239.5h1M510 239.5h1M517 239.5h1M526 239.5h1M529 239.5h1M536 239.5h1M539 239.5h1M541 239.5h1M61 240.5h1M168 240.5h1M244 240.5h1M324 240.5h1M349 240.5h1M411 240.5h1M415 240.5h1M428 240.5h1M438 240.5h1M443 240.5h1M454 240.5h1M459 240.5h1M462 240.5h1M475 240.5h1M484 240.5h1M494 240.5h1M501 240.5h1M504 240.5h1M512 240.5h1M515 240.5h1M522 240.5h1M527 240.5h1M529 240.5h1M541 240.5h1M547 240.5h1M108 241.5h1M219 241.5h1M364 241.5h1M405 241.5h1M422 241.5h1M453 241.5h1M457 241.5h1M462 241.5h2M465 241.5h1M472 241.5h1M476 241.5h1M480 241.5h2M488 241.5h1M493 241.5h1M498 241.5h1M505 241.5h1M514 241.5h1M519 241.5h1M521 241.5h1M526 241.5h1M540 241.5h1M75 242.5h1M112 242.5h1M348 242.5h1M445 242.5h1M458 242.5h1M460 242.5h1M465 242.5h1M474 242.5h1M477 242.5h1M482 242.5h2M485 242.5h1M489 242.5h1M501 242.5h1M509 242.5h2M519 242.5h1M521 242.5h1M523 242.5h2M530 242.5h1M536 242.5h1M539 242.5h1M543 242.5h1M549 242.5h1M60 243.5h1M72 243.5h1M77 243.5h1M87 243.5h1M136 243.5h2M145 243.5h1M314 243.5h1M398 243.5h1M429 243.5h1M435 243.5h1M443 243.5h1M453 243.5h3M469 243.5h1M473 243.5h1M475 243.5h1M482 243.5h1M486 243.5h2M489 243.5h2M493 243.5h1M509 243.5h1M520 243.5h1M530 243.5h1M532 243.5h2M537 243.5h1M542 243.5h1M544 243.5h1M549 243.5h1M69 244.5h1M72 244.5h1M80 244.5h1M86 244.5h1M259 244.5h1M291 244.5h1M412 244.5h1M459 244.5h1M466 244.5h1M470 244.5h1M472 244.5h1M482 244.5h1M487 244.5h1M490 244.5h1M498 244.5h3M503 244.5h2M507 244.5h1M510 244.5h1M514 244.5h1M519 244.5h1M521 244.5h2M529 244.5h1M531 244.5h1M540 244.5h1M545 244.5h1M549 244.5h1M359 245.5h1M390 245.5h1M421 245.5h1M425 245.5h1M442 245.5h1M447 245.5h1M453 245.5h1M459 245.5h1M467 245.5h1M474 245.5h1M476 245.5h1M478 245.5h3M486 245.5h2M492 245.5h2M498 245.5h1M502 245.5h1M515 245.5h1M525 245.5h1M527 245.5h2M533 245.5h1M544 245.5h1M55 246.5h1M67 246.5h1M69 246.5h1M86 246.5h1M97 246.5h1M187 246.5h1M445 246.5h2M448 246.5h1M452 246.5h1M457 246.5h1M463 246.5h2M468 246.5h1M471 246.5h1M473 246.5h2M476 246.5h2M481 246.5h1M491 246.5h2M498 246.5h2M504 246.5h1M506 246.5h1M512 246.5h1M514 246.5h1M516 246.5h1M519 246.5h1M56 247.5h2M173 247.5h1M294 247.5h1M341 247.5h1M424 247.5h1M55 248.5h1M76 248.5h1M245 248.5h1M264 248.5h1M322 248.5h1M76 249.5h1M84 249.5h1M56 250.5h1M74 250.5h1M86 250.5h1M226 250.5h1M77 251.5h1M142 251.5h1M219 251.5h1M69 252.5h1M80 252.5h1M127 252.5h1M175 252.5h1M187 252.5h1M193 252.5h1M56 253.5h1M83 253.5h1M94 253.5h1M110 253.5h1M167 253.5h1M59 254.5h1M83 254.5h1M97 254.5h1M129 254.5h1M138 254.5h1M65 256.5h1M73 256.5h1M91 256.5h1M141 256.5h1M152 256.5h1M55 257.5h1M126 257.5h1M61 259.5h1M80 259.5h1M66 260.5h1M120 260.5h1M79 261.5h1M106 261.5h1M66 262.5h1M101 262.5h1M62 264.5h1M68 264.5h2M76 264.5h1M88 264.5h1M77 265.5h1M72 267.5h1M62 269.5h2M64 270.5h1M57 272.5h1M56 273.5h1M58 273.5h1M64 274.5h1" stroke="#fff" stroke-width="1" fill="none"/>
<path d="M55.7,267.4 L61.2,261.8 L66.6,256.4 L72.1,251.3 L77.6,246.4 L83.0,241.7 L88.5,237.2 L93.9,233.0 L99.4,228.9 L104.9,225.1 L110.3,221.5 L115.8,218.0 L121.3,214.8 L126.8,211.7 L132.2,208.8 L137.7,206.1 L143.2,203.5 L148.6,201.1 L154.1,198.8 L159.6,196.7 L165.1,194.7 L170.6,192.8 L176.0,191.0 L181.5,189.3 L187.0,187.7 L192.5,186.3 L197.9,184.9 L203.4,183.6 L208.9,182.3 L214.4,181.2 L219.9,180.1 L225.3,179.1 L230.8,178.2 L236.3,177.3 L241.8,176.4 L247.3,175.6 L252.7,174.9 L258.2,174.2 L263.7,173.6 L269.2,173.0 L274.7,172.4 L280.2,171.8 L285.6,171.3 L291.1,170.9 L296.6,170.4 L302.1,170.0 L307.6,169.6 L313.1,169.2 L318.5,168.9 L324.0,168.5 L329.5,168.2 L335.0,167.9 L340.5,167.6 L346.0,167.4 L351.4,167.1 L356.9,166.9 L362.4,166.7 L367.9,166.5 L373.4,166.3 L378.9,166.1 L384.4,165.9 L389.8,165.7 L395.3,165.6 L400.8,165.4 L406.3,165.2 L411.8,165.1 L417.3,165.0 L422.8,164.8 L428.2,164.7 L433.7,164.6 L439.2,164.5 L444.7,164.4 L450.2,164.2 L455.7,164.1 L461.1,164.0 L466.6,163.9 L472.1,163.9 L477.6,163.8 L483.1,163.7 L488.6,163.6 L494.1,163.5 L499.5,163.4 L505.0,163.3 L510.5,163.3 L516.0,163.2 L521.5,163.1 L527.0,163.0 L532.5,163.0 L537.9,162.9 L543.4,162.8 L548.9,162.8" fill="none" stroke="#111" stroke-width="1.6"/>
<path d="M56.0,329.0 L61.5,326.4 L67.0,323.9 L72.4,321.6 L77.9,319.3 L83.4,317.2 L88.9,315.2 L94.3,313.4 L99.8,311.6 L105.3,309.9 L110.8,308.4 L116.3,306.9 L121.7,305.5 L127.2,304.2 L132.7,303.0 L138.2,301.8 L143.7,300.8 L149.1,299.7 L154.6,298.8 L160.1,297.9 L165.6,297.1 L171.1,296.3 L176.5,295.6 L182.0,294.9 L187.5,294.3 L193.0,293.7 L198.5,293.1 L204.0,292.6 L209.4,292.1 L214.9,291.6 L220.4,291.2 L225.9,290.8 L231.4,290.4 L236.9,290.0 L242.3,289.7 L247.8,289.4 L253.3,289.1 L258.8,288.8 L264.3,288.5 L269.8,288.3 L275.2,288.1 L280.7,287.8 L286.2,287.6 L291.7,287.4 L297.2,287.2 L302.7,287.1 L308.2,286.9 L313.6,286.7 L319.1,286.6 L324.6,286.4 L330.1,286.3 L335.6,286.2 L341.1,286.0 L346.5,285.9 L352.0,285.8 L357.5,285.7 L363.0,285.6 L368.5,285.5 L374.0,285.4 L379.5,285.3 L384.9,285.2 L390.4,285.1 L395.9,285.0 L401.4,284.9 L406.9,284.8 L412.4,284.8 L417.9,284.7 L423.3,284.6 L428.8,284.5 L434.3,284.5 L439.8,284.4 L445.3,284.3 L450.8,284.2 L456.2,284.2 L461.7,284.1 L467.2,284.0 L472.7,284.0 L478.2,283.9 L483.7,283.9 L489.2,283.8 L494.6,283.7 L500.1,283.7 L505.6,283.6 L511.1,283.6 L516.6,283.5 L522.1,283.4 L527.6,283.4 L533.0,283.3 L538.5,283.3 L544.0,283.2 L549.5,283.2" fill="none" stroke="#111" stroke-width="1.4"/>
<text x="550.70" y="286.15" style="font-family:'Liberation Serif',serif;font-size:8px" fill="#333">M</text>
<path d="M55.00,118.90 L56.40,406.25 L550.10,401.60" fill="none" stroke="#333" stroke-width="1.3"/>
<path d="M55.00,118.90 L55.08,135.90" stroke="#a8a8a8" stroke-width="1.4"/>
<path d="M56.22,369.37 h-2" stroke="#333" stroke-width="1"/>
<text x="47.22" y="372.17" style="font-family:'Liberation Serif',serif;font-size:8px" fill="#222">5</text>
<path d="M56.04,332.23 h-2" stroke="#333" stroke-width="1"/>
<text x="47.04" y="335.03" style="font-family:'Liberation Serif',serif;font-size:8px" fill="#222">10</text>
<path d="M55.85,295.10 h-2" stroke="#333" stroke-width="1"/>
<text x="46.85" y="297.90" style="font-family:'Liberation Serif',serif;font-size:8px" fill="#222">15</text>
<path d="M55.67,257.96 h-2" stroke="#333" stroke-width="1"/>
<text x="46.67" y="260.76" style="font-family:'Liberation Serif',serif;font-size:8px" fill="#222">20</text>
<path d="M55.49,220.83 h-2" stroke="#333" stroke-width="1"/>
<text x="46.49" y="223.63" style="font-family:'Liberation Serif',serif;font-size:8px" fill="#222">25</text>
<path d="M55.31,183.69 h-2" stroke="#333" stroke-width="1"/>
<text x="46.31" y="186.49" style="font-family:'Liberation Serif',serif;font-size:8px" fill="#222">30</text>
<path d="M55.13,146.56 h-2" stroke="#333" stroke-width="1"/>
<text x="46.13" y="149.36" style="font-family:'Liberation Serif',serif;font-size:8px" fill="#222">35</text>
<path d="M138.68,405.48 v-2" stroke="#333" stroke-width="1"/>
<text x="138.68" y="413.68" text-anchor="middle" style="font-family:'Liberation Serif',serif;font-size:8px" fill="#222">30</text>
<path d="M220.96,404.70 v-2" stroke="#333" stroke-width="1"/>
<text x="220.96" y="412.90" text-anchor="middle" style="font-family:'Liberation Serif',serif;font-size:8px" fill="#222">40</text>
<path d="M303.24,403.93 v-2" stroke="#333" stroke-width="1"/>
<text x="303.24" y="412.13" text-anchor="middle" style="font-family:'Liberation Serif',serif;font-size:8px" fill="#222">50</text>
<path d="M385.52,403.15 v-2" stroke="#333" stroke-width="1"/>
<text x="385.52" y="411.35" text-anchor="middle" style="font-family:'Liberation Serif',serif;font-size:8px" fill="#222">60</text>
<path d="M467.80,402.38 v-2" stroke="#333" stroke-width="1"/>
<text x="467.80" y="410.58" text-anchor="middle" style="font-family:'Liberation Serif',serif;font-size:8px" fill="#222">70</text>
<path d="M550.08,401.60 v-2" stroke="#333" stroke-width="1"/>
<text x="550.08" y="409.80" text-anchor="middle" style="font-family:'Liberation Serif',serif;font-size:8px" fill="#222">80</text>
<text x="57.50" y="126.00" style="font-family:'Liberation Serif',serif;font-size:7.2px" fill="#111" stroke="#111" stroke-width="0.15">Сумма пл. сечений, м<tspan dy="-2.5" font-size="5px">2</tspan><tspan dy="2.5">/га</tspan></text>
<text x="550.60" y="399.20" text-anchor="end" style="font-family:'Liberation Serif',serif;font-size:7.27px" fill="#222" stroke="#222" stroke-width="0.12">Возраст, лет</text>
<rect x="244.00" y="109.40" width="117.60" height="10.50" fill="#fff"/>
<text x="247.00" y="118.40" style="font-family:'Liberation Serif',serif;font-size:11px;font-weight:bold" fill="#111">Береза, приручейники</text>
<polygon points="46.45,502.50 564.40,498.55 566.40,806.40 47.50,810.30" fill="none" stroke="#9a9a9a" stroke-width="1"/>
<path d="M50.0,502.47 L143.0,501.76" stroke="#fff" stroke-width="1.6" stroke-dasharray="3 10" stroke-dashoffset="3"/>
<path d="M195.0,501.37 L198.0,501.34" stroke="#fff" stroke-width="1.6"/>
<path d="M213.0,501.23 L240.0,501.02" stroke="#fff" stroke-width="1.6" stroke-dasharray="2 2" stroke-dashoffset="2"/>
<path d="M275.0,500.76 L282.0,500.70" stroke="#fff" stroke-width="1.6"/>
<path d="M322.0,500.40 L330.0,500.34" stroke="#fff" stroke-width="1.6" stroke-dasharray="2 2" stroke-dashoffset="2"/>
<path d="M437.0,499.52 L545.0,498.70" stroke="#fff" stroke-width="1.6" stroke-dasharray="3 14" stroke-dashoffset="3"/>
<path d="M545.0,498.70 L563.0,498.56" stroke="#fff" stroke-width="1.6" stroke-dasharray="2 1.5" stroke-dashoffset="2"/>
<path d="M57.3,638.7 L62.8,631.4 L68.3,624.4 L73.8,617.7 L79.3,611.3 L84.8,605.2 L90.3,599.4 L95.8,593.9 L101.3,588.7 L106.8,583.8 L112.3,579.1 L117.8,574.7 L123.3,570.5 L128.8,566.6 L134.3,562.9 L139.9,559.5 L145.4,556.2 L150.9,553.2 L156.4,550.3 L161.9,547.7 L167.5,545.2 L173.0,542.8 L178.5,540.6 L184.0,538.6 L189.5,536.7 L195.1,534.9 L200.6,533.2 L206.1,531.6 L211.6,530.2 L217.2,528.8 L222.7,527.5 L228.2,526.3 L233.8,525.2 L239.3,524.2 L244.8,523.2 L250.4,522.3 L255.9,521.5 L261.4,520.7 L266.9,520.0 L272.5,519.3 L278.0,518.7 L283.5,518.1 L289.1,517.5 L294.6,517.0 L300.1,516.5 L305.7,516.1 L311.2,515.6 L316.8,515.2 L322.3,514.9 L327.8,514.5 L333.4,514.2 L338.9,513.9 L344.4,513.6 L350.0,513.3 L355.5,513.1 L361.0,512.8 L366.6,512.6 L372.1,512.4 L377.6,512.2 L383.2,512.0 L388.7,511.8 L394.2,511.7 L399.8,511.5 L405.3,511.4 L410.9,511.2 L416.4,511.1 L421.9,511.0 L427.5,510.9 L433.0,510.7 L438.5,510.6 L444.1,510.5 L449.6,510.4 L455.1,510.3 L460.7,510.2 L466.2,510.2 L471.8,510.1 L477.3,510.0 L482.8,509.9 L488.4,509.8 L493.9,509.8 L499.4,509.7 L505.0,509.6 L510.5,509.6 L516.0,509.5 L521.6,509.4 L527.1,509.4 L532.7,509.3 L538.2,509.2 L543.7,509.2 L549.3,509.1 L554.8,509.1 L555.6,635.1 L550.1,635.1 L544.6,635.2 L539.0,635.2 L533.5,635.2 L527.9,635.3 L522.4,635.3 L516.9,635.4 L511.3,635.4 L505.8,635.4 L500.3,635.5 L494.7,635.5 L489.2,635.6 L483.7,635.6 L478.1,635.7 L472.6,635.7 L467.0,635.7 L461.5,635.8 L456.0,635.8 L450.4,635.9 L444.9,635.9 L439.4,636.0 L433.8,636.0 L428.3,636.1 L422.8,636.1 L417.2,636.2 L411.7,636.2 L406.1,636.2 L400.6,636.3 L395.1,636.3 L389.5,636.4 L384.0,636.5 L378.5,636.5 L372.9,636.6 L367.4,636.6 L361.8,636.7 L356.3,636.7 L350.8,636.8 L345.2,636.9 L339.7,636.9 L334.2,637.0 L328.6,637.1 L323.1,637.2 L317.6,637.3 L312.0,637.3 L306.5,637.4 L300.9,637.5 L295.4,637.6 L289.9,637.8 L284.3,637.9 L278.8,638.0 L273.3,638.1 L267.7,638.3 L262.2,638.4 L256.7,638.6 L251.1,638.8 L245.6,639.0 L240.1,639.2 L234.5,639.4 L229.0,639.6 L223.4,639.9 L217.9,640.2 L212.4,640.5 L206.8,640.8 L201.3,641.2 L195.8,641.6 L190.2,642.0 L184.7,642.5 L179.2,643.0 L173.6,643.5 L168.1,644.1 L162.6,644.8 L157.0,645.5 L151.5,646.3 L146.0,647.2 L140.4,648.1 L134.9,649.1 L129.4,650.2 L123.9,651.4 L118.3,652.8 L112.8,654.2 L107.3,655.8 L101.7,657.5 L96.2,659.4 L90.7,661.4 L85.2,663.6 L79.7,666.0 L74.1,668.6 L68.6,671.4 L63.1,674.4 L57.6,677.7 Z" fill="#aaaaaa" stroke="none"/>
<path d="M57.7,699.5 L63.2,694.9 L68.7,690.5 L74.3,686.3 L79.8,682.3 L85.3,678.5 L90.8,674.9 L96.3,671.4 L101.8,668.1 L107.3,665.0 L112.9,662.1 L118.4,659.3 L123.9,656.7 L129.4,654.2 L134.9,651.9 L140.5,649.8 L146.0,647.7 L151.5,645.8 L157.0,644.0 L162.6,642.3 L168.1,640.7 L173.6,639.2 L179.1,637.9 L184.7,636.6 L190.2,635.4 L195.7,634.2 L201.3,633.2 L206.8,632.2 L212.3,631.2 L217.8,630.4 L223.4,629.6 L228.9,628.8 L234.4,628.1 L240.0,627.4 L245.5,626.8 L251.0,626.2 L256.6,625.7 L262.1,625.2 L267.6,624.7 L273.2,624.3 L278.7,623.9 L284.2,623.5 L289.8,623.1 L295.3,622.8 L300.8,622.5 L306.4,622.2 L311.9,621.9 L317.5,621.6 L323.0,621.4 L328.5,621.1 L334.1,620.9 L339.6,620.7 L345.1,620.5 L350.7,620.3 L356.2,620.2 L361.7,620.0 L367.3,619.8 L372.8,619.7 L378.3,619.6 L383.9,619.4 L389.4,619.3 L395.0,619.2 L400.5,619.1 L406.0,619.0 L411.6,618.9 L417.1,618.8 L422.6,618.7 L428.2,618.6 L433.7,618.5 L439.2,618.4 L444.8,618.3 L450.3,618.3 L455.9,618.2 L461.4,618.1 L466.9,618.0 L472.5,618.0 L478.0,617.9 L483.5,617.8 L489.1,617.8 L494.6,617.7 L500.1,617.7 L505.7,617.6 L511.2,617.5 L516.8,617.5 L522.3,617.4 L527.8,617.4 L533.4,617.3 L538.9,617.3 L544.4,617.2 L550.0,617.2 L555.5,617.1" fill="none" stroke="#3a3a3a" stroke-width="0.9" stroke-dasharray="30 1.5"/>
<path d="M57.7,692.8 L63.2,687.9 L68.7,683.2 L74.2,678.7 L79.7,674.4 L85.2,670.4 L90.7,666.5 L96.2,662.8 L101.8,659.3 L107.3,656.0 L112.8,652.9 L118.3,649.9 L123.8,647.1 L129.3,644.5 L134.9,642.0 L140.4,639.7 L145.9,637.5 L151.4,635.5 L157.0,633.6 L162.5,631.8 L168.0,630.1 L173.5,628.5 L179.1,627.1 L184.6,625.7 L190.1,624.4 L195.7,623.2 L201.2,622.0 L206.7,621.0 L212.2,620.0 L217.8,619.1 L223.3,618.2 L228.8,617.4 L234.4,616.7 L239.9,616.0 L245.4,615.3 L251.0,614.7 L256.5,614.1 L262.0,613.6 L267.6,613.1 L273.1,612.6 L278.6,612.2 L284.2,611.8 L289.7,611.4 L295.2,611.0 L300.8,610.7 L306.3,610.4 L311.8,610.1 L317.4,609.8 L322.9,609.5 L328.4,609.3 L334.0,609.1 L339.5,608.8 L345.1,608.6 L350.6,608.4 L356.1,608.3 L361.7,608.1 L367.2,607.9 L372.7,607.8 L378.3,607.6 L383.8,607.5 L389.3,607.4 L394.9,607.2 L400.4,607.1 L405.9,607.0 L411.5,606.9 L417.0,606.8 L422.6,606.7 L428.1,606.6 L433.6,606.5 L439.2,606.4 L444.7,606.4 L450.2,606.3 L455.8,606.2 L461.3,606.1 L466.8,606.1 L472.4,606.0 L477.9,605.9 L483.5,605.8 L489.0,605.8 L494.5,605.7 L500.1,605.7 L505.6,605.6 L511.1,605.5 L516.7,605.5 L522.2,605.4 L527.7,605.4 L533.3,605.3 L538.8,605.3 L544.4,605.2 L549.9,605.2 L555.4,605.1" fill="none" stroke="#3a3a3a" stroke-width="0.9" stroke-dasharray="30 1.5"/>
<path d="M57.6,686.0 L63.1,680.8 L68.6,675.9 L74.2,671.1 L79.7,666.6 L85.2,662.2 L90.7,658.1 L96.2,654.2 L101.7,650.5 L107.2,647.0 L112.7,643.6 L118.2,640.5 L123.8,637.6 L129.3,634.8 L134.8,632.2 L140.3,629.7 L145.8,627.4 L151.4,625.2 L156.9,623.2 L162.4,621.3 L167.9,619.5 L173.5,617.8 L179.0,616.3 L184.5,614.8 L190.0,613.4 L195.6,612.1 L201.1,610.9 L206.6,609.8 L212.2,608.8 L217.7,607.8 L223.2,606.9 L228.8,606.0 L234.3,605.2 L239.8,604.5 L245.4,603.8 L250.9,603.2 L256.4,602.5 L262.0,602.0 L267.5,601.5 L273.0,601.0 L278.6,600.5 L284.1,600.1 L289.6,599.7 L295.2,599.3 L300.7,598.9 L306.2,598.6 L311.8,598.3 L317.3,598.0 L322.8,597.7 L328.4,597.4 L333.9,597.2 L339.4,597.0 L345.0,596.8 L350.5,596.6 L356.0,596.4 L361.6,596.2 L367.1,596.0 L372.7,595.9 L378.2,595.7 L383.7,595.6 L389.3,595.4 L394.8,595.3 L400.3,595.2 L405.9,595.1 L411.4,594.9 L416.9,594.8 L422.5,594.7 L428.0,594.6 L433.5,594.5 L439.1,594.5 L444.6,594.4 L450.2,594.3 L455.7,594.2 L461.2,594.1 L466.8,594.1 L472.3,594.0 L477.8,593.9 L483.4,593.9 L488.9,593.8 L494.5,593.7 L500.0,593.7 L505.5,593.6 L511.1,593.5 L516.6,593.5 L522.1,593.4 L527.7,593.4 L533.2,593.3 L538.7,593.3 L544.3,593.2 L549.8,593.2 L555.4,593.1" fill="none" stroke="#3a3a3a" stroke-width="0.9" stroke-dasharray="30 1.5"/>
<path d="M57.6,679.3 L63.1,673.8 L68.6,668.5 L74.1,663.5 L79.6,658.7 L85.1,654.1 L90.6,649.7 L96.1,645.6 L101.6,641.6 L107.2,637.9 L112.7,634.4 L118.2,631.1 L123.7,628.0 L129.2,625.0 L134.7,622.3 L140.3,619.7 L145.8,617.2 L151.3,614.9 L156.8,612.8 L162.3,610.8 L167.9,608.9 L173.4,607.1 L178.9,605.4 L184.4,603.9 L190.0,602.5 L195.5,601.1 L201.0,599.8 L206.6,598.7 L212.1,597.5 L217.6,596.5 L223.2,595.6 L228.7,594.7 L234.2,593.8 L239.7,593.0 L245.3,592.3 L250.8,591.6 L256.3,591.0 L261.9,590.4 L267.4,589.8 L272.9,589.3 L278.5,588.8 L284.0,588.3 L289.5,587.9 L295.1,587.5 L300.6,587.1 L306.1,586.8 L311.7,586.5 L317.2,586.2 L322.8,585.9 L328.3,585.6 L333.8,585.3 L339.4,585.1 L344.9,584.9 L350.4,584.7 L356.0,584.5 L361.5,584.3 L367.0,584.1 L372.6,583.9 L378.1,583.8 L383.6,583.6 L389.2,583.5 L394.7,583.4 L400.3,583.2 L405.8,583.1 L411.3,583.0 L416.9,582.9 L422.4,582.8 L427.9,582.7 L433.5,582.6 L439.0,582.5 L444.5,582.4 L450.1,582.3 L455.6,582.2 L461.2,582.2 L466.7,582.1 L472.2,582.0 L477.8,581.9 L483.3,581.9 L488.8,581.8 L494.4,581.7 L499.9,581.7 L505.4,581.6 L511.0,581.5 L516.5,581.5 L522.1,581.4 L527.6,581.4 L533.1,581.3 L538.7,581.3 L544.2,581.2 L549.7,581.2 L555.3,581.1" fill="none" stroke="#3a3a3a" stroke-width="0.9" stroke-dasharray="30 1.5"/>
<path d="M57.6,672.5 L63.1,666.7 L68.6,661.2 L74.1,655.9 L79.6,650.8 L85.1,645.9 L90.6,641.3 L96.1,637.0 L101.6,632.8 L107.1,628.9 L112.6,625.2 L118.1,621.7 L123.6,618.4 L129.2,615.3 L134.7,612.4 L140.2,609.6 L145.7,607.1 L151.2,604.6 L156.8,602.4 L162.3,600.2 L167.8,598.3 L173.3,596.4 L178.9,594.6 L184.4,593.0 L189.9,591.5 L195.4,590.1 L201.0,588.7 L206.5,587.5 L212.0,586.3 L217.5,585.2 L223.1,584.2 L228.6,583.3 L234.1,582.4 L239.7,581.6 L245.2,580.8 L250.7,580.1 L256.3,579.4 L261.8,578.8 L267.3,578.2 L272.9,577.6 L278.4,577.1 L283.9,576.6 L289.5,576.2 L295.0,575.8 L300.5,575.4 L306.1,575.0 L311.6,574.7 L317.1,574.3 L322.7,574.0 L328.2,573.8 L333.7,573.5 L339.3,573.2 L344.8,573.0 L350.4,572.8 L355.9,572.6 L361.4,572.4 L367.0,572.2 L372.5,572.0 L378.0,571.9 L383.6,571.7 L389.1,571.5 L394.6,571.4 L400.2,571.3 L405.7,571.1 L411.2,571.0 L416.8,570.9 L422.3,570.8 L427.9,570.7 L433.4,570.6 L438.9,570.5 L444.5,570.4 L450.0,570.3 L455.5,570.2 L461.1,570.2 L466.6,570.1 L472.1,570.0 L477.7,569.9 L483.2,569.9 L488.8,569.8 L494.3,569.7 L499.8,569.7 L505.4,569.6 L510.9,569.5 L516.4,569.5 L522.0,569.4 L527.5,569.4 L533.0,569.3 L538.6,569.3 L544.1,569.2 L549.7,569.2 L555.2,569.1" fill="none" stroke="#3a3a3a" stroke-width="0.9" stroke-dasharray="30 1.5"/>
<path d="M57.5,659.0 L63.0,652.6 L68.5,646.5 L74.0,640.6 L79.5,635.0 L85.0,629.7 L90.5,624.6 L96.0,619.7 L101.5,615.2 L107.0,610.8 L112.5,606.8 L118.0,602.9 L123.5,599.3 L129.0,595.8 L134.5,592.6 L140.1,589.6 L145.6,586.7 L151.1,584.1 L156.6,581.6 L162.1,579.2 L167.7,577.0 L173.2,575.0 L178.7,573.0 L184.2,571.2 L189.8,569.6 L195.3,568.0 L200.8,566.5 L206.3,565.1 L211.9,563.9 L217.4,562.7 L222.9,561.5 L228.5,560.5 L234.0,559.5 L239.5,558.6 L245.1,557.8 L250.6,557.0 L256.1,556.2 L261.6,555.5 L267.2,554.9 L272.7,554.3 L278.2,553.7 L283.8,553.2 L289.3,552.7 L294.8,552.3 L300.4,551.8 L305.9,551.4 L311.5,551.1 L317.0,550.7 L322.5,550.4 L328.1,550.1 L333.6,549.8 L339.1,549.5 L344.7,549.2 L350.2,549.0 L355.7,548.8 L361.3,548.6 L366.8,548.4 L372.3,548.2 L377.9,548.0 L383.4,547.8 L388.9,547.7 L394.5,547.5 L400.0,547.4 L405.6,547.2 L411.1,547.1 L416.6,547.0 L422.2,546.9 L427.7,546.8 L433.2,546.7 L438.8,546.6 L444.3,546.5 L449.8,546.4 L455.4,546.3 L460.9,546.2 L466.5,546.1 L472.0,546.0 L477.5,546.0 L483.1,545.9 L488.6,545.8 L494.1,545.7 L499.7,545.7 L505.2,545.6 L510.7,545.6 L516.3,545.5 L521.8,545.4 L527.4,545.4 L532.9,545.3 L538.4,545.3 L544.0,545.2 L549.5,545.2 L555.0,545.1" fill="none" stroke="#3a3a3a" stroke-width="0.9" stroke-dasharray="30 1.5"/>
<path d="M57.4,652.2 L62.9,645.6 L68.4,639.1 L73.9,633.0 L79.4,627.1 L84.9,621.5 L90.4,616.2 L95.9,611.1 L101.4,606.3 L106.9,601.8 L112.4,597.5 L117.9,593.5 L123.4,589.7 L129.0,586.1 L134.5,582.7 L140.0,579.5 L145.5,576.6 L151.0,573.8 L156.5,571.1 L162.1,568.7 L167.6,566.4 L173.1,564.2 L178.6,562.2 L184.2,560.3 L189.7,558.6 L195.2,556.9 L200.7,555.4 L206.3,554.0 L211.8,552.6 L217.3,551.4 L222.9,550.2 L228.4,549.1 L233.9,548.1 L239.4,547.1 L245.0,546.3 L250.5,545.4 L256.0,544.7 L261.6,543.9 L267.1,543.3 L272.6,542.6 L278.2,542.0 L283.7,541.5 L289.2,541.0 L294.8,540.5 L300.3,540.1 L305.8,539.6 L311.4,539.2 L316.9,538.9 L322.4,538.5 L328.0,538.2 L333.5,537.9 L339.0,537.6 L344.6,537.4 L350.1,537.1 L355.7,536.9 L361.2,536.7 L366.7,536.4 L372.3,536.3 L377.8,536.1 L383.3,535.9 L388.9,535.7 L394.4,535.6 L399.9,535.4 L405.5,535.3 L411.0,535.2 L416.5,535.0 L422.1,534.9 L427.6,534.8 L433.2,534.7 L438.7,534.6 L444.2,534.5 L449.8,534.4 L455.3,534.3 L460.8,534.2 L466.4,534.1 L471.9,534.0 L477.4,534.0 L483.0,533.9 L488.5,533.8 L494.1,533.8 L499.6,533.7 L505.1,533.6 L510.7,533.6 L516.2,533.5 L521.7,533.4 L527.3,533.4 L532.8,533.3 L538.3,533.3 L543.9,533.2 L549.4,533.1 L555.0,533.1" fill="none" stroke="#3a3a3a" stroke-width="0.9" stroke-dasharray="30 1.5"/>
<path d="M57.4,645.5 L62.9,638.5 L68.4,631.8 L73.9,625.4 L79.3,619.2 L84.8,613.4 L90.3,607.8 L95.8,602.5 L101.4,597.5 L106.9,592.8 L112.4,588.3 L117.9,584.1 L123.4,580.1 L128.9,576.4 L134.4,572.8 L139.9,569.5 L145.4,566.4 L151.0,563.5 L156.5,560.7 L162.0,558.2 L167.5,555.8 L173.0,553.5 L178.6,551.4 L184.1,549.5 L189.6,547.6 L195.1,545.9 L200.7,544.3 L206.2,542.8 L211.7,541.4 L217.3,540.1 L222.8,538.9 L228.3,537.7 L233.8,536.7 L239.4,535.7 L244.9,534.8 L250.4,533.9 L256.0,533.1 L261.5,532.3 L267.0,531.6 L272.6,531.0 L278.1,530.4 L283.6,529.8 L289.2,529.3 L294.7,528.8 L300.2,528.3 L305.8,527.8 L311.3,527.4 L316.8,527.1 L322.4,526.7 L327.9,526.4 L333.4,526.1 L339.0,525.8 L344.5,525.5 L350.0,525.2 L355.6,525.0 L361.1,524.7 L366.6,524.5 L372.2,524.3 L377.7,524.1 L383.3,524.0 L388.8,523.8 L394.3,523.6 L399.9,523.5 L405.4,523.3 L410.9,523.2 L416.5,523.1 L422.0,522.9 L427.5,522.8 L433.1,522.7 L438.6,522.6 L444.1,522.5 L449.7,522.4 L455.2,522.3 L460.8,522.2 L466.3,522.1 L471.8,522.1 L477.4,522.0 L482.9,521.9 L488.4,521.8 L494.0,521.8 L499.5,521.7 L505.0,521.6 L510.6,521.6 L516.1,521.5 L521.7,521.4 L527.2,521.4 L532.7,521.3 L538.3,521.3 L543.8,521.2 L549.3,521.1 L554.9,521.1" fill="none" stroke="#3a3a3a" stroke-width="0.9" stroke-dasharray="30 1.5"/>
<path d="M57.3,638.7 L62.8,631.4 L68.3,624.4 L73.8,617.7 L79.3,611.3 L84.8,605.2 L90.3,599.4 L95.8,593.9 L101.3,588.7 L106.8,583.8 L112.3,579.1 L117.8,574.7 L123.3,570.5 L128.8,566.6 L134.3,562.9 L139.9,559.5 L145.4,556.2 L150.9,553.2 L156.4,550.3 L161.9,547.7 L167.5,545.2 L173.0,542.8 L178.5,540.6 L184.0,538.6 L189.5,536.7 L195.1,534.9 L200.6,533.2 L206.1,531.6 L211.6,530.2 L217.2,528.8 L222.7,527.5 L228.2,526.3 L233.8,525.2 L239.3,524.2 L244.8,523.2 L250.4,522.3 L255.9,521.5 L261.4,520.7 L266.9,520.0 L272.5,519.3 L278.0,518.7 L283.5,518.1 L289.1,517.5 L294.6,517.0 L300.1,516.5 L305.7,516.1 L311.2,515.6 L316.8,515.2 L322.3,514.9 L327.8,514.5 L333.4,514.2 L338.9,513.9 L344.4,513.6 L350.0,513.3 L355.5,513.1 L361.0,512.8 L366.6,512.6 L372.1,512.4 L377.6,512.2 L383.2,512.0 L388.7,511.8 L394.2,511.7 L399.8,511.5 L405.3,511.4 L410.9,511.2 L416.4,511.1 L421.9,511.0 L427.5,510.9 L433.0,510.7 L438.5,510.6 L444.1,510.5 L449.6,510.4 L455.1,510.3 L460.7,510.2 L466.2,510.2 L471.8,510.1 L477.3,510.0 L482.8,509.9 L488.4,509.8 L493.9,509.8 L499.4,509.7 L505.0,509.6 L510.5,509.6 L516.0,509.5 L521.6,509.4 L527.1,509.4 L532.7,509.3 L538.2,509.2 L543.7,509.2 L549.3,509.1 L554.8,509.1" fill="none" stroke="#3a3a3a" stroke-width="0.9" stroke-dasharray="30 1.5"/>
<path d="M57.9,731.0 L59.9,728.7 L61.9,726.3 L63.9,724.0 L65.9,721.7 L67.9,719.3 L69.9,717.0 L71.9,714.7 L73.9,712.4 L75.9,710.1 L77.9,707.8 L79.9,705.5 L81.9,703.2 L83.9,700.9 L85.9,698.6 L87.9,696.4 L89.9,694.1 L91.9,691.9 L93.9,689.6 L95.9,687.4 L97.9,685.2 L99.9,683.0 L101.9,680.8 L103.9,678.6 L105.9,676.4 L107.9,674.2 L109.9,672.1 L111.9,670.0 L113.9,667.8 L115.9,665.7 L117.9,663.6 L119.9,661.5 L121.9,659.5 L123.9,657.4 L125.9,655.4 L127.9,653.4 L129.9,651.4 L131.9,649.4 L133.9,647.4 L135.9,645.5 L137.9,643.6 L139.9,641.7 L141.9,639.8 L143.9,637.9 L145.9,636.1 L147.9,634.3 L149.9,632.5 L151.9,630.7 L153.9,629.0 L155.9,627.2 L157.9,625.5 L159.9,623.8 L161.9,622.2 L163.9,620.5 L165.9,618.9 L167.9,617.3 L169.9,615.8 L171.9,614.2 L173.9,612.7 L175.9,611.2 L177.9,609.8 L179.9,608.3 L181.9,606.9 L183.9,605.5 L185.9,604.1 L187.9,602.7 L189.9,601.4 L191.9,600.1 L193.9,598.8 L195.9,597.5 L197.9,596.2 L199.9,595.0 L201.9,593.8 L203.9,592.6 L205.9,591.4 L207.9,590.2 L209.9,589.1 L211.9,587.9 L213.9,586.8 L215.9,585.7 L217.9,584.6 L219.9,583.5 L221.9,582.5 L223.9,581.4 L225.9,580.4 L227.9,579.4 L229.9,578.3 L231.9,577.3 L233.9,576.3 L235.9,575.4 L237.9,574.4 L239.9,573.4 L241.9,572.5 L243.9,571.5 L245.9,570.6 L247.9,569.7 L249.9,568.8 L251.9,567.8 L253.9,566.9 L255.9,566.0 L257.9,565.1 L259.9,564.3 L261.9,563.4 L263.9,562.5 L265.9,561.6 L267.9,560.8 L269.9,559.9 L271.9,559.0 L273.9,558.2 L275.9,557.3 L277.9,556.5 L279.9,555.6 L281.9,554.8 L283.9,554.0 L285.9,553.1 L287.9,552.3 L289.9,551.5 L291.9,550.7 L293.9,549.8 L295.9,549.0 L297.9,548.2 L299.9,547.4 L301.9,546.6 L303.9,545.8 L305.9,544.9 L307.9,544.1 L309.9,543.3 L311.9,542.5 L313.9,541.7 L315.9,540.9 L317.9,540.1 L319.9,539.3 L321.9,538.5 L323.9,537.7 L325.9,536.9 L327.9,536.1 L329.9,535.3 L331.9,534.5 L333.9,533.7 L335.9,532.9 L337.9,532.1 L339.9,531.4 L341.9,530.6 L343.9,529.8 L345.9,529.0 L347.9,528.2 L349.9,527.4 L351.9,526.6 L353.9,525.8 L355.9,525.0 L357.9,524.3 L359.9,523.5 L361.9,522.7 L363.9,521.9 L365.9,521.1 L367.9,520.3 L369.9,519.5 L371.9,518.8 L373.9,518.0 L375.9,517.2 L377.9,516.4 L379.9,515.6 L381.9,514.8 L383.9,514.1 L385.9,513.3 L387.9,512.5 L389.9,511.9" fill="none" stroke="#444" stroke-width="0.8" stroke-dasharray="5 3"/>
<path d="M91.1,715.9 L93.1,713.6 L95.1,711.4 L97.1,709.2 L99.1,706.9 L101.1,704.7 L103.1,702.5 L105.1,700.4 L107.1,698.2 L109.1,696.0 L111.1,693.9 L113.1,691.8 L115.1,689.6 L117.1,687.5 L119.1,685.5 L121.1,683.4 L123.1,681.3 L125.1,679.3 L127.1,677.3 L129.1,675.3 L131.1,673.3 L133.1,671.3 L135.1,669.4 L137.1,667.4 L139.1,665.5 L141.1,663.6 L143.1,661.7 L145.1,659.9 L147.1,658.1 L149.1,656.3 L151.1,654.5 L153.1,652.7 L155.1,651.0 L157.1,649.3 L159.1,647.6 L161.1,645.9 L163.1,644.3 L165.1,642.6 L167.1,641.0 L169.1,639.5 L171.1,637.9 L173.1,636.4 L175.1,634.9 L177.1,633.4 L179.1,631.9 L181.1,630.5 L183.1,629.1 L185.1,627.7 L187.1,626.3 L189.1,625.0 L191.1,623.6 L193.1,622.3 L195.1,621.0 L197.1,619.8 L199.1,618.5 L201.1,617.3 L203.1,616.1 L205.1,614.9 L207.1,613.7 L209.1,612.6 L211.1,611.4 L213.1,610.3 L215.1,609.2 L217.1,608.1 L219.1,607.0 L221.1,605.9 L223.1,604.9 L225.1,603.8 L227.1,602.8 L229.1,601.8 L231.1,600.8 L233.1,599.8 L235.1,598.8 L237.1,597.8 L239.1,596.9 L241.1,595.9 L243.1,594.9 L245.1,594.0 L247.1,593.1 L249.1,592.2 L251.1,591.2 L253.1,590.3 L255.1,589.4 L257.1,588.5 L259.1,587.6 L261.1,586.8 L263.1,585.9 L265.1,585.0 L267.1,584.1 L269.1,583.3 L271.1,582.4 L273.1,581.6 L275.1,580.7 L277.1,579.9 L279.1,579.0 L281.1,578.2 L283.1,577.3 L285.1,576.5 L287.1,575.7 L289.1,574.8 L291.1,574.0 L293.1,573.2 L295.1,572.4 L297.1,571.5 L299.1,570.7 L301.1,569.9 L303.1,569.1 L305.1,568.3 L307.1,567.5 L309.1,566.7 L311.1,565.9 L313.1,565.1 L315.1,564.3 L317.1,563.5 L319.1,562.7 L321.1,561.9 L323.1,561.1 L325.1,560.3 L327.1,559.5 L329.1,558.7 L331.1,557.9 L333.1,557.1 L335.1,556.3 L337.1,555.5 L339.1,554.7 L341.1,553.9 L343.1,553.1 L345.1,552.3 L347.1,551.5 L349.1,550.8 L351.1,550.0 L353.1,549.2 L355.1,548.4 L357.1,547.6 L359.1,546.8 L361.1,546.0 L363.1,545.2 L365.1,544.5 L367.1,543.7 L369.1,542.9 L371.1,542.1 L373.1,541.3 L375.1,540.5 L377.1,539.7 L379.1,539.0 L381.1,538.2 L383.1,537.4 L385.1,536.6 L387.1,535.8 L389.1,535.0 L391.1,534.3 L393.1,533.5 L395.1,532.7 L397.1,531.9 L399.1,531.1 L401.1,530.4 L403.1,529.6 L405.1,528.8 L407.1,528.0 L409.1,527.2 L411.1,526.4 L413.1,525.7 L415.1,524.9 L417.1,524.1 L419.1,523.3 L421.1,522.5 L423.1,521.8 L425.1,521.0 L427.1,520.2 L429.1,519.4 L431.1,518.6 L433.1,517.9 L435.1,517.1 L437.1,516.3 L439.1,515.5 L441.1,514.7 L443.1,513.9 L445.1,513.2 L447.1,512.4 L449.1,511.6 L451.1,510.8 L453.1,510.4" fill="none" stroke="#444" stroke-width="0.8" stroke-dasharray="5 3"/>
<path d="M124.2,705.1 L126.2,703.1 L128.2,701.1 L130.2,699.1 L132.2,697.1 L134.2,695.1 L136.2,693.2 L138.2,691.3 L140.2,689.4 L142.2,687.5 L144.2,685.6 L146.2,683.8 L148.2,682.0 L150.2,680.2 L152.2,678.4 L154.2,676.7 L156.2,674.9 L158.2,673.2 L160.2,671.6 L162.2,669.9 L164.2,668.3 L166.2,666.7 L168.2,665.1 L170.2,663.5 L172.2,662.0 L174.2,660.5 L176.2,659.0 L178.2,657.5 L180.2,656.1 L182.2,654.6 L184.2,653.2 L186.2,651.8 L188.2,650.5 L190.2,649.1 L192.2,647.8 L194.2,646.5 L196.2,645.3 L198.2,644.0 L200.2,642.8 L202.2,641.5 L204.2,640.3 L206.2,639.2 L208.2,638.0 L210.2,636.8 L212.2,635.7 L214.2,634.6 L216.2,633.5 L218.2,632.4 L220.2,631.3 L222.2,630.3 L224.2,629.2 L226.2,628.2 L228.2,627.2 L230.2,626.1 L232.2,625.1 L234.2,624.2 L236.2,623.2 L238.2,622.2 L240.2,621.2 L242.2,620.3 L244.2,619.4 L246.2,618.4 L248.2,617.5 L250.2,616.6 L252.2,615.7 L254.2,614.8 L256.2,613.9 L258.2,613.0 L260.2,612.1 L262.2,611.2 L264.2,610.3 L266.2,609.5 L268.2,608.6 L270.2,607.7 L272.2,606.9 L274.2,606.0 L276.2,605.2 L278.2,604.3 L280.2,603.5 L282.2,602.6 L284.2,601.8 L286.2,601.0 L288.2,600.1 L290.2,599.3 L292.2,598.5 L294.2,597.7 L296.2,596.8 L298.2,596.0 L300.2,595.2 L302.2,594.4 L304.2,593.6 L306.2,592.8 L308.2,592.0 L310.2,591.2 L312.2,590.4 L314.2,589.6 L316.2,588.7 L318.2,587.9 L320.2,587.1 L322.2,586.3 L324.2,585.5 L326.2,584.8 L328.2,584.0 L330.2,583.2 L332.2,582.4 L334.2,581.6 L336.2,580.8 L338.2,580.0 L340.2,579.2 L342.2,578.4 L344.2,577.6 L346.2,576.8 L348.2,576.0 L350.2,575.2 L352.2,574.5 L354.2,573.7 L356.2,572.9 L358.2,572.1 L360.2,571.3 L362.2,570.5 L364.2,569.7 L366.2,569.0 L368.2,568.2 L370.2,567.4 L372.2,566.6 L374.2,565.8 L376.2,565.0 L378.2,564.2 L380.2,563.5 L382.2,562.7 L384.2,561.9 L386.2,561.1 L388.2,560.3 L390.2,559.5 L392.2,558.8 L394.2,558.0 L396.2,557.2 L398.2,556.4 L400.2,555.6 L402.2,554.9 L404.2,554.1 L406.2,553.3 L408.2,552.5 L410.2,551.7 L412.2,550.9 L414.2,550.2 L416.2,549.4 L418.2,548.6 L420.2,547.8 L422.2,547.0 L424.2,546.3 L426.2,545.5 L428.2,544.7 L430.2,543.9 L432.2,543.1 L434.2,542.4 L436.2,541.6 L438.2,540.8 L440.2,540.0 L442.2,539.2 L444.2,538.4 L446.2,537.7 L448.2,536.9 L450.2,536.1 L452.2,535.3 L454.2,534.5 L456.2,533.8 L458.2,533.0 L460.2,532.2 L462.2,531.4 L464.2,530.6 L466.2,529.9 L468.2,529.1 L470.2,528.3 L472.2,527.5 L474.2,526.7 L476.2,526.0 L478.2,525.2 L480.2,524.4 L482.2,523.6 L484.2,522.8 L486.2,522.1 L488.2,521.3 L490.2,520.5 L492.2,519.7 L494.2,518.9 L496.2,518.2 L498.2,517.4 L500.2,516.6 L502.2,515.8 L504.2,515.0 L506.2,514.3 L508.2,513.5 L510.2,512.7 L512.2,511.9 L514.2,511.1 L516.2,510.4 L518.2,509.6 L520.2,509.5" fill="none" stroke="#444" stroke-width="0.8" stroke-dasharray="5 3"/>
<path d="M157.4,697.8 L159.4,696.1 L161.4,694.4 L163.4,692.8 L165.4,691.2 L167.4,689.6 L169.4,688.0 L171.4,686.5 L173.4,684.9 L175.4,683.4 L177.4,682.0 L179.4,680.5 L181.4,679.1 L183.4,677.7 L185.4,676.3 L187.4,674.9 L189.4,673.6 L191.4,672.2 L193.4,670.9 L195.4,669.6 L197.4,668.4 L199.4,667.1 L201.4,665.9 L203.4,664.7 L205.4,663.5 L207.4,662.3 L209.4,661.2 L211.4,660.0 L213.4,658.9 L215.4,657.8 L217.4,656.7 L219.4,655.6 L221.4,654.6 L223.4,653.5 L225.4,652.5 L227.4,651.4 L229.4,650.4 L231.4,649.4 L233.4,648.4 L235.4,647.4 L237.4,646.5 L239.4,645.5 L241.4,644.6 L243.4,643.6 L245.4,642.7 L247.4,641.7 L249.4,640.8 L251.4,639.9 L253.4,639.0 L255.4,638.1 L257.4,637.2 L259.4,636.3 L261.4,635.4 L263.4,634.5 L265.4,633.7 L267.4,632.8 L269.4,631.9 L271.4,631.1 L273.4,630.2 L275.4,629.4 L277.4,628.5 L279.4,627.7 L281.4,626.8 L283.4,626.0 L285.4,625.2 L287.4,624.3 L289.4,623.5 L291.4,622.7 L293.4,621.9 L295.4,621.0 L297.4,620.2 L299.4,619.4 L301.4,618.6 L303.4,617.8 L305.4,617.0 L307.4,616.2 L309.4,615.4 L311.4,614.5 L313.4,613.7 L315.4,612.9 L317.4,612.1 L319.4,611.3 L321.4,610.5 L323.4,609.7 L325.4,608.9 L327.4,608.1 L329.4,607.4 L331.4,606.6 L333.4,605.8 L335.4,605.0 L337.4,604.2 L339.4,603.4 L341.4,602.6 L343.4,601.8 L345.4,601.0 L347.4,600.2 L349.4,599.4 L351.4,598.6 L353.4,597.9 L355.4,597.1 L357.4,596.3 L359.4,595.5 L361.4,594.7 L363.4,593.9 L365.4,593.1 L367.4,592.4 L369.4,591.6 L371.4,590.8 L373.4,590.0 L375.4,589.2 L377.4,588.4 L379.4,587.6 L381.4,586.9 L383.4,586.1 L385.4,585.3 L387.4,584.5 L389.4,583.7 L391.4,582.9 L393.4,582.2 L395.4,581.4 L397.4,580.6 L399.4,579.8 L401.4,579.0 L403.4,578.3 L405.4,577.5 L407.4,576.7 L409.4,575.9 L411.4,575.1 L413.4,574.3 L415.4,573.6 L417.4,572.8 L419.4,572.0 L421.4,571.2 L423.4,570.4 L425.4,569.7 L427.4,568.9 L429.4,568.1 L431.4,567.3 L433.4,566.5 L435.4,565.8 L437.4,565.0 L439.4,564.2 L441.4,563.4 L443.4,562.6 L445.4,561.9 L447.4,561.1 L449.4,560.3 L451.4,559.5 L453.4,558.7 L455.4,557.9 L457.4,557.2 L459.4,556.4 L461.4,555.6 L463.4,554.8 L465.4,554.0 L467.4,553.3 L469.4,552.5 L471.4,551.7 L473.4,550.9 L475.4,550.1 L477.4,549.4 L479.4,548.6 L481.4,547.8 L483.4,547.0 L485.4,546.2 L487.4,545.5 L489.4,544.7 L491.4,543.9 L493.4,543.1 L495.4,542.3 L497.4,541.6 L499.4,540.8 L501.4,540.0 L503.4,539.2 L505.4,538.4 L507.4,537.7 L509.4,536.9 L511.4,536.1 L513.4,535.3 L515.4,534.5 L517.4,533.8 L519.4,533.0 L521.4,532.2 L523.4,531.4 L525.4,530.6 L527.4,529.9 L529.4,529.1 L531.4,528.3 L533.4,527.5 L535.4,526.7 L537.4,526.0 L539.4,525.2 L541.4,524.4 L543.4,523.6 L545.4,522.8 L547.4,522.1 L549.4,521.3 L551.4,520.5 L553.4,519.7 L555.4,518.9 L556.7,518.4" fill="none" stroke="#444" stroke-width="0.8" stroke-dasharray="5 3"/>
<path d="M190.6,693.0 L192.6,691.7 L194.6,690.4 L196.6,689.1 L198.6,687.8 L200.6,686.6 L202.6,685.4 L204.6,684.2 L206.6,683.0 L208.6,681.8 L210.6,680.7 L212.6,679.6 L214.6,678.4 L216.6,677.3 L218.6,676.3 L220.6,675.2 L222.6,674.1 L224.6,673.1 L226.6,672.1 L228.6,671.0 L230.6,670.0 L232.6,669.0 L234.6,668.0 L236.6,667.1 L238.6,666.1 L240.6,665.1 L242.6,664.2 L244.6,663.2 L246.6,662.3 L248.6,661.4 L250.6,660.5 L252.6,659.6 L254.6,658.7 L256.6,657.8 L258.6,656.9 L260.6,656.0 L262.6,655.1 L264.6,654.2 L266.6,653.4 L268.6,652.5 L270.6,651.6 L272.6,650.8 L274.6,649.9 L276.6,649.1 L278.6,648.2 L280.6,647.4 L282.6,646.5 L284.6,645.7 L286.6,644.9 L288.6,644.0 L290.6,643.2 L292.6,642.4 L294.6,641.6 L296.6,640.8 L298.6,639.9 L300.6,639.1 L302.6,638.3 L304.6,637.5 L306.6,636.7 L308.6,635.9 L310.6,635.1 L312.6,634.3 L314.6,633.5 L316.6,632.7 L318.6,631.9 L320.6,631.1 L322.6,630.3 L324.6,629.5 L326.6,628.7 L328.6,627.9 L330.6,627.1 L332.6,626.3 L334.6,625.5 L336.6,624.7 L338.6,623.9 L340.6,623.1 L342.6,622.3 L344.6,621.5 L346.6,620.7 L348.6,619.9 L350.6,619.2 L352.6,618.4 L354.6,617.6 L356.6,616.8 L358.6,616.0 L360.6,615.2 L362.6,614.4 L364.6,613.7 L366.6,612.9 L368.6,612.1 L370.6,611.3 L372.6,610.5 L374.6,609.7 L376.6,608.9 L378.6,608.2 L380.6,607.4 L382.6,606.6 L384.6,605.8 L386.6,605.0 L388.6,604.2 L390.6,603.5 L392.6,602.7 L394.6,601.9 L396.6,601.1 L398.6,600.3 L400.6,599.5 L402.6,598.8 L404.6,598.0 L406.6,597.2 L408.6,596.4 L410.6,595.6 L412.6,594.9 L414.6,594.1 L416.6,593.3 L418.6,592.5 L420.6,591.7 L422.6,591.0 L424.6,590.2 L426.6,589.4 L428.6,588.6 L430.6,587.8 L432.6,587.0 L434.6,586.3 L436.6,585.5 L438.6,584.7 L440.6,583.9 L442.6,583.1 L444.6,582.4 L446.6,581.6 L448.6,580.8 L450.6,580.0 L452.6,579.2 L454.6,578.5 L456.6,577.7 L458.6,576.9 L460.6,576.1 L462.6,575.3 L464.6,574.6 L466.6,573.8 L468.6,573.0 L470.6,572.2 L472.6,571.4 L474.6,570.7 L476.6,569.9 L478.6,569.1 L480.6,568.3 L482.6,567.5 L484.6,566.8 L486.6,566.0 L488.6,565.2 L490.6,564.4 L492.6,563.6 L494.6,562.9 L496.6,562.1 L498.6,561.3 L500.6,560.5 L502.6,559.7 L504.6,559.0 L506.6,558.2 L508.6,557.4 L510.6,556.6 L512.6,555.8 L514.6,555.1 L516.6,554.3 L518.6,553.5 L520.6,552.7 L522.6,551.9 L524.6,551.2 L526.6,550.4 L528.6,549.6 L530.6,548.8 L532.6,548.0 L534.6,547.3 L536.6,546.5 L538.6,545.7 L540.6,544.9 L542.6,544.1 L544.6,543.4 L546.6,542.6 L548.6,541.8 L550.6,541.0 L552.6,540.2 L554.6,539.5 L556.6,538.7 L556.7,538.6" fill="none" stroke="#444" stroke-width="0.8" stroke-dasharray="5 3"/>
<path d="M223.8,689.8 L225.8,688.7 L227.8,687.7 L229.8,686.7 L231.8,685.7 L233.8,684.7 L235.8,683.7 L237.8,682.8 L239.8,681.8 L241.8,680.8 L243.8,679.9 L245.8,679.0 L247.8,678.0 L249.8,677.1 L251.8,676.2 L253.8,675.3 L255.8,674.4 L257.8,673.5 L259.8,672.6 L261.8,671.7 L263.8,670.8 L265.8,670.0 L267.8,669.1 L269.8,668.2 L271.8,667.4 L273.8,666.5 L275.8,665.7 L277.8,664.8 L279.8,664.0 L281.8,663.2 L283.8,662.3 L285.8,661.5 L287.8,660.7 L289.8,659.8 L291.8,659.0 L293.8,658.2 L295.8,657.4 L297.8,656.5 L299.8,655.7 L301.8,654.9 L303.8,654.1 L305.8,653.3 L307.8,652.5 L309.8,651.7 L311.8,650.9 L313.8,650.1 L315.8,649.3 L317.8,648.5 L319.8,647.7 L321.8,646.9 L323.8,646.1 L325.8,645.3 L327.8,644.5 L329.8,643.7 L331.8,642.9 L333.8,642.1 L335.8,641.3 L337.8,640.5 L339.8,639.7 L341.8,638.9 L343.8,638.1 L345.8,637.3 L347.8,636.5 L349.8,635.8 L351.8,635.0 L353.8,634.2 L355.8,633.4 L357.8,632.6 L359.8,631.8 L361.8,631.0 L363.8,630.2 L365.8,629.5 L367.8,628.7 L369.8,627.9 L371.8,627.1 L373.8,626.3 L375.8,625.5 L377.8,624.8 L379.8,624.0 L381.8,623.2 L383.8,622.4 L385.8,621.6 L387.8,620.8 L389.8,620.1 L391.8,619.3 L393.8,618.5 L395.8,617.7 L397.8,616.9 L399.8,616.1 L401.8,615.4 L403.8,614.6 L405.8,613.8 L407.8,613.0 L409.8,612.2 L411.8,611.4 L413.8,610.7 L415.8,609.9 L417.8,609.1 L419.8,608.3 L421.8,607.5 L423.8,606.8 L425.8,606.0 L427.8,605.2 L429.8,604.4 L431.8,603.6 L433.8,602.9 L435.8,602.1 L437.8,601.3 L439.8,600.5 L441.8,599.7 L443.8,599.0 L445.8,598.2 L447.8,597.4 L449.8,596.6 L451.8,595.8 L453.8,595.1 L455.8,594.3 L457.8,593.5 L459.8,592.7 L461.8,591.9 L463.8,591.1 L465.8,590.4 L467.8,589.6 L469.8,588.8 L471.8,588.0 L473.8,587.2 L475.8,586.5 L477.8,585.7 L479.8,584.9 L481.8,584.1 L483.8,583.3 L485.8,582.6 L487.8,581.8 L489.8,581.0 L491.8,580.2 L493.8,579.4 L495.8,578.7 L497.8,577.9 L499.8,577.1 L501.8,576.3 L503.8,575.5 L505.8,574.8 L507.8,574.0 L509.8,573.2 L511.8,572.4 L513.8,571.6 L515.8,570.9 L517.8,570.1 L519.8,569.3 L521.8,568.5 L523.8,567.7 L525.8,567.0 L527.8,566.2 L529.8,565.4 L531.8,564.6 L533.8,563.8 L535.8,563.1 L537.8,562.3 L539.8,561.5 L541.8,560.7 L543.8,559.9 L545.8,559.2 L547.8,558.4 L549.8,557.6 L551.8,556.8 L553.8,556.0 L555.8,555.3 L556.7,554.9" fill="none" stroke="#444" stroke-width="0.8" stroke-dasharray="5 3"/>
<path d="M257.0,687.7 L259.0,686.8 L261.0,685.9 L263.0,685.0 L265.0,684.1 L267.0,683.3 L269.0,682.4 L271.0,681.6 L273.0,680.7 L275.0,679.8 L277.0,679.0 L279.0,678.2 L281.0,677.3 L283.0,676.5 L285.0,675.6 L287.0,674.8 L289.0,674.0 L291.0,673.2 L293.0,672.3 L295.0,671.5 L297.0,670.7 L299.0,669.9 L301.0,669.1 L303.0,668.2 L305.0,667.4 L307.0,666.6 L309.0,665.8 L311.0,665.0 L313.0,664.2 L315.0,663.4 L317.0,662.6 L319.0,661.8 L321.0,661.0 L323.0,660.2 L325.0,659.4 L327.0,658.6 L329.0,657.8 L331.0,657.0 L333.0,656.2 L335.0,655.4 L337.0,654.6 L339.0,653.8 L341.0,653.1 L343.0,652.3 L345.0,651.5 L347.0,650.7 L349.0,649.9 L351.0,649.1 L353.0,648.3 L355.0,647.5 L357.0,646.7 L359.0,646.0 L361.0,645.2 L363.0,644.4 L365.0,643.6 L367.0,642.8 L369.0,642.0 L371.0,641.2 L373.0,640.5 L375.0,639.7 L377.0,638.9 L379.0,638.1 L381.0,637.3 L383.0,636.5 L385.0,635.8 L387.0,635.0 L389.0,634.2 L391.0,633.4 L393.0,632.6 L395.0,631.8 L397.0,631.1 L399.0,630.3 L401.0,629.5 L403.0,628.7 L405.0,627.9 L407.0,627.1 L409.0,626.4 L411.0,625.6 L413.0,624.8 L415.0,624.0 L417.0,623.2 L419.0,622.5 L421.0,621.7 L423.0,620.9 L425.0,620.1 L427.0,619.3 L429.0,618.6 L431.0,617.8 L433.0,617.0 L435.0,616.2 L437.0,615.4 L439.0,614.7 L441.0,613.9 L443.0,613.1 L445.0,612.3 L447.0,611.5 L449.0,610.7 L451.0,610.0 L453.0,609.2 L455.0,608.4 L457.0,607.6 L459.0,606.8 L461.0,606.1 L463.0,605.3 L465.0,604.5 L467.0,603.7 L469.0,602.9 L471.0,602.2 L473.0,601.4 L475.0,600.6 L477.0,599.8 L479.0,599.0 L481.0,598.3 L483.0,597.5 L485.0,596.7 L487.0,595.9 L489.0,595.1 L491.0,594.4 L493.0,593.6 L495.0,592.8 L497.0,592.0 L499.0,591.2 L501.0,590.5 L503.0,589.7 L505.0,588.9 L507.0,588.1 L509.0,587.3 L511.0,586.6 L513.0,585.8 L515.0,585.0 L517.0,584.2 L519.0,583.4 L521.0,582.7 L523.0,581.9 L525.0,581.1 L527.0,580.3 L529.0,579.5 L531.0,578.8 L533.0,578.0 L535.0,577.2 L537.0,576.4 L539.0,575.6 L541.0,574.9 L543.0,574.1 L545.0,573.3 L547.0,572.5 L549.0,571.7 L551.0,571.0 L553.0,570.2 L555.0,569.4 L556.7,568.7" fill="none" stroke="#444" stroke-width="0.8" stroke-dasharray="5 3"/>
<path d="M290.2,686.3 L292.2,685.4 L294.2,684.6 L296.2,683.8 L298.2,683.0 L300.2,682.2 L302.2,681.4 L304.2,680.5 L306.2,679.7 L308.2,678.9 L310.2,678.1 L312.2,677.3 L314.2,676.5 L316.2,675.7 L318.2,674.9 L320.2,674.1 L322.2,673.3 L324.2,672.5 L326.2,671.7 L328.2,670.9 L330.2,670.1 L332.2,669.3 L334.2,668.5 L336.2,667.7 L338.2,666.9 L340.2,666.1 L342.2,665.4 L344.2,664.6 L346.2,663.8 L348.2,663.0 L350.2,662.2 L352.2,661.4 L354.2,660.6 L356.2,659.8 L358.2,659.0 L360.2,658.3 L362.2,657.5 L364.2,656.7 L366.2,655.9 L368.2,655.1 L370.2,654.3 L372.2,653.5 L374.2,652.8 L376.2,652.0 L378.2,651.2 L380.2,650.4 L382.2,649.6 L384.2,648.8 L386.2,648.1 L388.2,647.3 L390.2,646.5 L392.2,645.7 L394.2,644.9 L396.2,644.2 L398.2,643.4 L400.2,642.6 L402.2,641.8 L404.2,641.0 L406.2,640.2 L408.2,639.5 L410.2,638.7 L412.2,637.9 L414.2,637.1 L416.2,636.3 L418.2,635.6 L420.2,634.8 L422.2,634.0 L424.2,633.2 L426.2,632.4 L428.2,631.6 L430.2,630.9 L432.2,630.1 L434.2,629.3 L436.2,628.5 L438.2,627.7 L440.2,627.0 L442.2,626.2 L444.2,625.4 L446.2,624.6 L448.2,623.8 L450.2,623.1 L452.2,622.3 L454.2,621.5 L456.2,620.7 L458.2,619.9 L460.2,619.2 L462.2,618.4 L464.2,617.6 L466.2,616.8 L468.2,616.0 L470.2,615.3 L472.2,614.5 L474.2,613.7 L476.2,612.9 L478.2,612.1 L480.2,611.4 L482.2,610.6 L484.2,609.8 L486.2,609.0 L488.2,608.2 L490.2,607.5 L492.2,606.7 L494.2,605.9 L496.2,605.1 L498.2,604.3 L500.2,603.6 L502.2,602.8 L504.2,602.0 L506.2,601.2 L508.2,600.4 L510.2,599.7 L512.2,598.9 L514.2,598.1 L516.2,597.3 L518.2,596.5 L520.2,595.8 L522.2,595.0 L524.2,594.2 L526.2,593.4 L528.2,592.6 L530.2,591.9 L532.2,591.1 L534.2,590.3 L536.2,589.5 L538.2,588.7 L540.2,588.0 L542.2,587.2 L544.2,586.4 L546.2,585.6 L548.2,584.8 L550.2,584.1 L552.2,583.3 L554.2,582.5 L556.2,581.7 L556.7,581.5" fill="none" stroke="#444" stroke-width="0.8" stroke-dasharray="5 3"/>
<path d="M323.4,685.3 L325.4,684.5 L327.4,683.7 L329.4,682.9 L331.4,682.1 L333.4,681.3 L335.4,680.5 L337.4,679.7 L339.4,678.9 L341.4,678.1 L343.4,677.4 L345.4,676.6 L347.4,675.8 L349.4,675.0 L351.4,674.2 L353.4,673.4 L355.4,672.6 L357.4,671.8 L359.4,671.0 L361.4,670.3 L363.4,669.5 L365.4,668.7 L367.4,667.9 L369.4,667.1 L371.4,666.3 L373.4,665.5 L375.4,664.8 L377.4,664.0 L379.4,663.2 L381.4,662.4 L383.4,661.6 L385.4,660.8 L387.4,660.1 L389.4,659.3 L391.4,658.5 L393.4,657.7 L395.4,656.9 L397.4,656.2 L399.4,655.4 L401.4,654.6 L403.4,653.8 L405.4,653.0 L407.4,652.2 L409.4,651.5 L411.4,650.7 L413.4,649.9 L415.4,649.1 L417.4,648.3 L419.4,647.6 L421.4,646.8 L423.4,646.0 L425.4,645.2 L427.4,644.4 L429.4,643.6 L431.4,642.9 L433.4,642.1 L435.4,641.3 L437.4,640.5 L439.4,639.7 L441.4,639.0 L443.4,638.2 L445.4,637.4 L447.4,636.6 L449.4,635.8 L451.4,635.1 L453.4,634.3 L455.4,633.5 L457.4,632.7 L459.4,631.9 L461.4,631.2 L463.4,630.4 L465.4,629.6 L467.4,628.8 L469.4,628.0 L471.4,627.3 L473.4,626.5 L475.4,625.7 L477.4,624.9 L479.4,624.1 L481.4,623.4 L483.4,622.6 L485.4,621.8 L487.4,621.0 L489.4,620.2 L491.4,619.5 L493.4,618.7 L495.4,617.9 L497.4,617.1 L499.4,616.3 L501.4,615.6 L503.4,614.8 L505.4,614.0 L507.4,613.2 L509.4,612.4 L511.4,611.7 L513.4,610.9 L515.4,610.1 L517.4,609.3 L519.4,608.5 L521.4,607.8 L523.4,607.0 L525.4,606.2 L527.4,605.4 L529.4,604.6 L531.4,603.9 L533.4,603.1 L535.4,602.3 L537.4,601.5 L539.4,600.7 L541.4,600.0 L543.4,599.2 L545.4,598.4 L547.4,597.6 L549.4,596.8 L551.4,596.1 L553.4,595.3 L555.4,594.5 L556.7,594.0" fill="none" stroke="#444" stroke-width="0.8" stroke-dasharray="5 3"/>
<path d="M356.6,684.6 L358.6,683.8 L360.6,683.0 L362.6,682.2 L364.6,681.4 L366.6,680.7 L368.6,679.9 L370.6,679.1 L372.6,678.3 L374.6,677.5 L376.6,676.7 L378.6,676.0 L380.6,675.2 L382.6,674.4 L384.6,673.6 L386.6,672.8 L388.6,672.0 L390.6,671.3 L392.6,670.5 L394.6,669.7 L396.6,668.9 L398.6,668.1 L400.6,667.3 L402.6,666.6 L404.6,665.8 L406.6,665.0 L408.6,664.2 L410.6,663.4 L412.6,662.7 L414.6,661.9 L416.6,661.1 L418.6,660.3 L420.6,659.5 L422.6,658.7 L424.6,658.0 L426.6,657.2 L428.6,656.4 L430.6,655.6 L432.6,654.8 L434.6,654.1 L436.6,653.3 L438.6,652.5 L440.6,651.7 L442.6,650.9 L444.6,650.2 L446.6,649.4 L448.6,648.6 L450.6,647.8 L452.6,647.0 L454.6,646.3 L456.6,645.5 L458.6,644.7 L460.6,643.9 L462.6,643.1 L464.6,642.4 L466.6,641.6 L468.6,640.8 L470.6,640.0 L472.6,639.2 L474.6,638.5 L476.6,637.7 L478.6,636.9 L480.6,636.1 L482.6,635.3 L484.6,634.6 L486.6,633.8 L488.6,633.0 L490.6,632.2 L492.6,631.4 L494.6,630.7 L496.6,629.9 L498.6,629.1 L500.6,628.3 L502.6,627.5 L504.6,626.7 L506.6,626.0 L508.6,625.2 L510.6,624.4 L512.6,623.6 L514.6,622.8 L516.6,622.1 L518.6,621.3 L520.6,620.5 L522.6,619.7 L524.6,618.9 L526.6,618.2 L528.6,617.4 L530.6,616.6 L532.6,615.8 L534.6,615.0 L536.6,614.3 L538.6,613.5 L540.6,612.7 L542.6,611.9 L544.6,611.1 L546.6,610.4 L548.6,609.6 L550.6,608.8 L552.6,608.0 L554.6,607.2 L556.6,606.5 L556.7,606.4" fill="none" stroke="#444" stroke-width="0.8" stroke-dasharray="5 3"/>
<path d="M389.8,684.1 L391.8,683.3 L393.8,682.5 L395.8,681.7 L397.8,680.9 L399.8,680.2 L401.8,679.4 L403.8,678.6 L405.8,677.8 L407.8,677.0 L409.8,676.2 L411.8,675.5 L413.8,674.7 L415.8,673.9 L417.8,673.1 L419.8,672.3 L421.8,671.6 L423.8,670.8 L425.8,670.0 L427.8,669.2 L429.8,668.4 L431.8,667.7 L433.8,666.9 L435.8,666.1 L437.8,665.3 L439.8,664.5 L441.8,663.7 L443.8,663.0 L445.8,662.2 L447.8,661.4 L449.8,660.6 L451.8,659.8 L453.8,659.1 L455.8,658.3 L457.8,657.5 L459.8,656.7 L461.8,655.9 L463.8,655.2 L465.8,654.4 L467.8,653.6 L469.8,652.8 L471.8,652.0 L473.8,651.3 L475.8,650.5 L477.8,649.7 L479.8,648.9 L481.8,648.1 L483.8,647.4 L485.8,646.6 L487.8,645.8 L489.8,645.0 L491.8,644.2 L493.8,643.5 L495.8,642.7 L497.8,641.9 L499.8,641.1 L501.8,640.3 L503.8,639.6 L505.8,638.8 L507.8,638.0 L509.8,637.2 L511.8,636.4 L513.8,635.7 L515.8,634.9 L517.8,634.1 L519.8,633.3 L521.8,632.5 L523.8,631.8 L525.8,631.0 L527.8,630.2 L529.8,629.4 L531.8,628.6 L533.8,627.9 L535.8,627.1 L537.8,626.3 L539.8,625.5 L541.8,624.7 L543.8,624.0 L545.8,623.2 L547.8,622.4 L549.8,621.6 L551.8,620.8 L553.8,620.1 L555.8,619.3 L556.7,618.9" fill="none" stroke="#444" stroke-width="0.8" stroke-dasharray="5 3"/>
<path d="M423.1,683.6 L425.1,682.9 L427.1,682.1 L429.1,681.3 L431.1,680.5 L433.1,679.7 L435.1,679.0 L437.1,678.2 L439.1,677.4 L441.1,676.6 L443.1,675.8 L445.1,675.1 L447.1,674.3 L449.1,673.5 L451.1,672.7 L453.1,671.9 L455.1,671.2 L457.1,670.4 L459.1,669.6 L461.1,668.8 L463.1,668.0 L465.1,667.3 L467.1,666.5 L469.1,665.7 L471.1,664.9 L473.1,664.1 L475.1,663.4 L477.1,662.6 L479.1,661.8 L481.1,661.0 L483.1,660.2 L485.1,659.5 L487.1,658.7 L489.1,657.9 L491.1,657.1 L493.1,656.3 L495.1,655.6 L497.1,654.8 L499.1,654.0 L501.1,653.2 L503.1,652.4 L505.1,651.7 L507.1,650.9 L509.1,650.1 L511.1,649.3 L513.1,648.5 L515.1,647.8 L517.1,647.0 L519.1,646.2 L521.1,645.4 L523.1,644.6 L525.1,643.9 L527.1,643.1 L529.1,642.3 L531.1,641.5 L533.1,640.7 L535.1,639.9 L537.1,639.2 L539.1,638.4 L541.1,637.6 L543.1,636.8 L545.1,636.0 L547.1,635.3 L549.1,634.5 L551.1,633.7 L553.1,632.9 L555.1,632.1 L556.7,631.5" fill="none" stroke="#444" stroke-width="0.8" stroke-dasharray="5 3"/>
<path d="M456.3,683.3 L458.3,682.5 L460.3,681.7 L462.3,681.0 L464.3,680.2 L466.3,679.4 L468.3,678.6 L470.3,677.8 L472.3,677.1 L474.3,676.3 L476.3,675.5 L478.3,674.7 L480.3,673.9 L482.3,673.2 L484.3,672.4 L486.3,671.6 L488.3,670.8 L490.3,670.0 L492.3,669.3 L494.3,668.5 L496.3,667.7 L498.3,666.9 L500.3,666.1 L502.3,665.4 L504.3,664.6 L506.3,663.8 L508.3,663.0 L510.3,662.2 L512.3,661.5 L514.3,660.7 L516.3,659.9 L518.3,659.1 L520.3,658.3 L522.3,657.6 L524.3,656.8 L526.3,656.0 L528.3,655.2 L530.3,654.4 L532.3,653.7 L534.3,652.9 L536.3,652.1 L538.3,651.3 L540.3,650.5 L542.3,649.8 L544.3,649.0 L546.3,648.2 L548.3,647.4 L550.3,646.6 L552.3,645.9 L554.3,645.1 L556.3,644.3 L556.7,644.1" fill="none" stroke="#444" stroke-width="0.8" stroke-dasharray="5 3"/>
<path d="M489.5,683.0 L491.5,682.2 L493.5,681.4 L495.5,680.6 L497.5,679.9 L499.5,679.1 L501.5,678.3 L503.5,677.5 L505.5,676.7 L507.5,676.0 L509.5,675.2 L511.5,674.4 L513.5,673.6 L515.5,672.8 L517.5,672.1 L519.5,671.3 L521.5,670.5 L523.5,669.7 L525.5,668.9 L527.5,668.2 L529.5,667.4 L531.5,666.6 L533.5,665.8 L535.5,665.0 L537.5,664.3 L539.5,663.5 L541.5,662.7 L543.5,661.9 L545.5,661.1 L547.5,660.4 L549.5,659.6 L551.5,658.8 L553.5,658.0 L555.5,657.2 L556.7,656.8" fill="none" stroke="#444" stroke-width="0.8" stroke-dasharray="5 3"/>
<path d="M522.7,682.7 L524.7,681.9 L526.7,681.1 L528.7,680.4 L530.7,679.6 L532.7,678.8 L534.7,678.0 L536.7,677.2 L538.7,676.5 L540.7,675.7 L542.7,674.9 L544.7,674.1 L546.7,673.3 L548.7,672.6 L550.7,671.8 L552.7,671.0 L554.7,670.2 L556.7,669.5" fill="none" stroke="#444" stroke-width="0.8" stroke-dasharray="5 3"/>
<path d="M491 509.5h1M500 509.5h1M513 509.5h1M515 509.5h1M521 509.5h1M529 509.5h2M537 509.5h1M543 509.5h1M545 509.5h3M549 509.5h1M421 510.5h1M427 510.5h1M439 510.5h1M450 510.5h1M464 510.5h1M475 510.5h1M477 510.5h1M491 510.5h1M495 510.5h1M500 510.5h1M509 510.5h1M511 510.5h1M530 510.5h1M539 510.5h1M549 510.5h1M551 510.5h2M406 511.5h1M411 511.5h1M414 511.5h1M421 511.5h1M429 511.5h1M439 511.5h1M455 511.5h2M463 511.5h2M478 511.5h2M482 511.5h1M485 511.5h1M498 511.5h2M507 511.5h1M513 511.5h1M526 511.5h1M528 511.5h1M536 511.5h1M544 511.5h1M546 511.5h1M554 511.5h1M414 512.5h1M423 512.5h1M425 512.5h1M434 512.5h1M449 512.5h1M456 512.5h1M464 512.5h1M481 512.5h1M483 512.5h2M487 512.5h1M490 512.5h1M498 512.5h1M505 512.5h2M513 512.5h1M522 512.5h1M530 512.5h1M534 512.5h1M538 512.5h1M543 512.5h1M545 512.5h1M552 512.5h1M421 513.5h1M424 513.5h1M426 513.5h2M429 513.5h1M442 513.5h2M445 513.5h1M447 513.5h2M457 513.5h1M466 513.5h1M475 513.5h1M491 513.5h1M493 513.5h1M500 513.5h1M514 513.5h2M518 513.5h1M525 513.5h1M534 513.5h1M538 513.5h1M548 513.5h2M331 514.5h1M390 514.5h1M405 514.5h1M421 514.5h1M445 514.5h1M448 514.5h2M451 514.5h1M459 514.5h1M472 514.5h1M480 514.5h2M486 514.5h1M491 514.5h1M493 514.5h1M495 514.5h1M497 514.5h1M503 514.5h2M507 514.5h1M515 514.5h2M520 514.5h1M528 514.5h1M534 514.5h2M538 514.5h1M540 514.5h2M543 514.5h1M547 514.5h3M551 514.5h1M553 514.5h2M330 515.5h1M359 515.5h1M429 515.5h1M445 515.5h1M453 515.5h2M458 515.5h4M470 515.5h1M474 515.5h1M477 515.5h1M491 515.5h1M494 515.5h2M502 515.5h1M504 515.5h1M507 515.5h1M512 515.5h1M516 515.5h1M520 515.5h1M526 515.5h1M532 515.5h1M534 515.5h1M542 515.5h1M549 515.5h1M315 516.5h2M318 516.5h1M323 516.5h1M343 516.5h1M345 516.5h1M402 516.5h1M424 516.5h1M430 516.5h1M437 516.5h1M440 516.5h1M454 516.5h1M468 516.5h2M472 516.5h1M474 516.5h1M477 516.5h2M481 516.5h1M487 516.5h1M492 516.5h1M495 516.5h1M498 516.5h2M508 516.5h1M512 516.5h4M520 516.5h2M523 516.5h2M528 516.5h1M541 516.5h1M543 516.5h1M547 516.5h1M361 517.5h1M424 517.5h2M435 517.5h1M437 517.5h1M440 517.5h1M443 517.5h2M446 517.5h1M449 517.5h1M456 517.5h1M458 517.5h1M465 517.5h2M485 517.5h1M506 517.5h1M510 517.5h1M536 517.5h1M540 517.5h2M321 518.5h1M423 518.5h1M435 518.5h1M437 518.5h1M443 518.5h3M451 518.5h1M454 518.5h1M465 518.5h1M470 518.5h1M476 518.5h1M495 518.5h1M499 518.5h1M504 518.5h1M515 518.5h2M520 518.5h1M524 518.5h1M530 518.5h1M538 518.5h3M544 518.5h1M546 518.5h1M548 518.5h1M554 518.5h1M268 519.5h1M304 519.5h1M354 519.5h1M411 519.5h1M432 519.5h1M434 519.5h1M436 519.5h1M443 519.5h2M451 519.5h1M456 519.5h1M461 519.5h1M464 519.5h1M483 519.5h1M489 519.5h1M492 519.5h1M496 519.5h1M501 519.5h1M514 519.5h1M523 519.5h1M529 519.5h1M534 519.5h1M537 519.5h1M539 519.5h1M541 519.5h1M545 519.5h1M551 519.5h1M554 519.5h1M261 520.5h1M291 520.5h1M304 520.5h1M308 520.5h1M356 520.5h1M418 520.5h2M438 520.5h1M446 520.5h1M452 520.5h1M460 520.5h1M468 520.5h1M471 520.5h1M473 520.5h1M475 520.5h2M482 520.5h3M488 520.5h1M490 520.5h1M500 520.5h1M509 520.5h1M511 520.5h1M535 520.5h1M543 520.5h2M547 520.5h1M270 521.5h1M427 521.5h1M429 521.5h1M437 521.5h1M448 521.5h1M460 521.5h1M462 521.5h1M480 521.5h1M493 521.5h1M497 521.5h1M501 521.5h1M507 521.5h1M520 521.5h2M527 521.5h1M530 521.5h1M538 521.5h2M542 521.5h1M550 521.5h2M553 521.5h2M314 522.5h1M334 522.5h1M351 522.5h1M365 522.5h1M381 522.5h1M423 522.5h1M432 522.5h1M435 522.5h1M439 522.5h1M441 522.5h1M445 522.5h2M449 522.5h1M458 522.5h1M461 522.5h1M467 522.5h1M483 522.5h1M485 522.5h1M488 522.5h1M496 522.5h2M504 522.5h1M506 522.5h1M521 522.5h1M528 522.5h1M534 522.5h1M537 522.5h1M542 522.5h1M548 522.5h1M550 522.5h2M554 522.5h1M418 523.5h1M426 523.5h1M441 523.5h1M443 523.5h1M465 523.5h1M468 523.5h1M475 523.5h1M478 523.5h1M480 523.5h1M487 523.5h1M489 523.5h1M495 523.5h1M513 523.5h1M515 523.5h1M520 523.5h1M526 523.5h1M530 523.5h1M533 523.5h2M536 523.5h1M540 523.5h1M542 523.5h1M548 523.5h3M370 524.5h1M373 524.5h1M418 524.5h1M420 524.5h1M447 524.5h1M450 524.5h2M453 524.5h1M459 524.5h1M469 524.5h1M471 524.5h1M473 524.5h1M475 524.5h1M477 524.5h1M487 524.5h3M491 524.5h1M499 524.5h1M504 524.5h1M508 524.5h2M511 524.5h1M520 524.5h1M522 524.5h1M530 524.5h1M533 524.5h1M542 524.5h1M546 524.5h1M258 525.5h1M299 525.5h1M302 525.5h1M400 525.5h1M427 525.5h1M430 525.5h2M435 525.5h1M444 525.5h1M446 525.5h1M454 525.5h2M476 525.5h1M481 525.5h1M483 525.5h3M491 525.5h1M495 525.5h1M503 525.5h2M510 525.5h1M512 525.5h1M515 525.5h2M524 525.5h1M531 525.5h1M536 525.5h1M538 525.5h1M545 525.5h2M548 525.5h1M552 525.5h1M232 526.5h1M297 526.5h2M401 526.5h1M403 526.5h1M420 526.5h2M440 526.5h1M443 526.5h1M450 526.5h2M465 526.5h1M479 526.5h2M484 526.5h1M490 526.5h3M497 526.5h1M500 526.5h1M506 526.5h1M508 526.5h1M516 526.5h1M527 526.5h2M539 526.5h2M542 526.5h2M553 526.5h1M230 527.5h1M364 527.5h1M409 527.5h1M420 527.5h1M425 527.5h1M434 527.5h2M438 527.5h1M443 527.5h1M445 527.5h1M447 527.5h1M452 527.5h1M454 527.5h1M463 527.5h1M465 527.5h1M467 527.5h1M473 527.5h1M477 527.5h1M480 527.5h1M485 527.5h1M487 527.5h1M490 527.5h1M504 527.5h2M510 527.5h1M512 527.5h1M516 527.5h1M523 527.5h1M525 527.5h1M527 527.5h1M531 527.5h2M537 527.5h1M541 527.5h1M551 527.5h1M238 528.5h1M260 528.5h1M266 528.5h1M291 528.5h1M360 528.5h1M434 528.5h1M445 528.5h1M458 528.5h1M461 528.5h1M468 528.5h1M471 528.5h1M474 528.5h1M479 528.5h1M484 528.5h1M489 528.5h1M491 528.5h2M498 528.5h1M509 528.5h1M513 528.5h1M515 528.5h1M518 528.5h1M522 528.5h1M527 528.5h1M532 528.5h1M539 528.5h1M542 528.5h2M545 528.5h1M254 529.5h1M313 529.5h1M325 529.5h1M405 529.5h1M422 529.5h1M433 529.5h1M435 529.5h1M438 529.5h3M446 529.5h3M450 529.5h1M456 529.5h1M466 529.5h1M470 529.5h3M476 529.5h1M485 529.5h1M490 529.5h1M497 529.5h1M505 529.5h3M509 529.5h1M517 529.5h4M523 529.5h1M529 529.5h1M531 529.5h1M538 529.5h1M541 529.5h1M550 529.5h3M212 530.5h1M238 530.5h1M274 530.5h1M399 530.5h1M410 530.5h1M439 530.5h4M448 530.5h1M452 530.5h1M459 530.5h1M467 530.5h3M487 530.5h1M497 530.5h1M509 530.5h1M517 530.5h1M527 530.5h1M534 530.5h1M536 530.5h1M538 530.5h2M542 530.5h2M550 530.5h2M554 530.5h1M244 531.5h1M255 531.5h1M299 531.5h1M322 531.5h1M366 531.5h1M390 531.5h1M430 531.5h1M437 531.5h1M442 531.5h3M447 531.5h1M454 531.5h1M456 531.5h2M468 531.5h1M470 531.5h1M478 531.5h1M483 531.5h1M485 531.5h1M489 531.5h1M510 531.5h1M515 531.5h1M519 531.5h1M522 531.5h1M529 531.5h1M548 531.5h1M554 531.5h1M234 532.5h1M236 532.5h1M304 532.5h1M386 532.5h1M411 532.5h2M428 532.5h1M433 532.5h1M439 532.5h1M442 532.5h1M447 532.5h1M454 532.5h1M460 532.5h1M466 532.5h1M469 532.5h2M473 532.5h5M479 532.5h1M481 532.5h2M486 532.5h1M495 532.5h1M499 532.5h1M502 532.5h1M506 532.5h1M512 532.5h1M516 532.5h1M518 532.5h1M522 532.5h2M534 532.5h1M545 532.5h1M550 532.5h1M554 532.5h1M203 533.5h1M272 533.5h1M303 533.5h1M377 533.5h1M425 533.5h1M429 533.5h1M433 533.5h1M443 533.5h1M446 533.5h1M450 533.5h1M460 533.5h1M469 533.5h2M472 533.5h1M482 533.5h1M484 533.5h1M487 533.5h2M491 533.5h1M495 533.5h1M497 533.5h1M509 533.5h1M514 533.5h1M526 533.5h3M536 533.5h3M540 533.5h2M543 533.5h2M549 533.5h2M552 533.5h1M554 533.5h1M279 534.5h1M292 534.5h1M323 534.5h1M348 534.5h1M364 534.5h1M430 534.5h1M438 534.5h1M446 534.5h1M448 534.5h2M486 534.5h1M495 534.5h1M505 534.5h1M507 534.5h1M512 534.5h1M524 534.5h1M527 534.5h1M535 534.5h1M538 534.5h1M548 534.5h1M550 534.5h1M553 534.5h1M285 535.5h1M415 535.5h1M423 535.5h1M432 535.5h1M441 535.5h1M452 535.5h1M454 535.5h1M470 535.5h1M488 535.5h1M496 535.5h1M502 535.5h2M515 535.5h1M517 535.5h2M520 535.5h1M522 535.5h1M524 535.5h2M531 535.5h1M535 535.5h1M541 535.5h1M550 535.5h1M195 536.5h1M214 536.5h1M236 536.5h1M238 536.5h1M255 536.5h1M280 536.5h1M332 536.5h1M342 536.5h1M405 536.5h1M416 536.5h1M431 536.5h2M435 536.5h2M438 536.5h1M454 536.5h1M458 536.5h1M464 536.5h2M467 536.5h1M471 536.5h3M484 536.5h1M491 536.5h1M497 536.5h1M511 536.5h1M515 536.5h1M545 536.5h1M552 536.5h1M231 537.5h1M291 537.5h1M347 537.5h1M355 537.5h1M359 537.5h1M432 537.5h1M445 537.5h1M449 537.5h2M453 537.5h1M465 537.5h1M476 537.5h1M486 537.5h2M494 537.5h1M497 537.5h1M513 537.5h1M528 537.5h1M531 537.5h1M537 537.5h2M548 537.5h1M553 537.5h1M241 538.5h1M257 538.5h1M357 538.5h1M410 538.5h1M427 538.5h1M441 538.5h2M444 538.5h1M449 538.5h1M464 538.5h1M467 538.5h2M472 538.5h1M476 538.5h1M481 538.5h1M486 538.5h2M498 538.5h1M516 538.5h2M521 538.5h1M523 538.5h1M525 538.5h1M545 538.5h1M547 538.5h1M550 538.5h1M553 538.5h1M211 539.5h1M276 539.5h1M284 539.5h1M305 539.5h1M307 539.5h1M423 539.5h1M426 539.5h1M430 539.5h2M434 539.5h1M439 539.5h1M457 539.5h1M466 539.5h1M473 539.5h2M487 539.5h1M496 539.5h1M499 539.5h1M503 539.5h1M514 539.5h1M521 539.5h1M529 539.5h1M532 539.5h1M539 539.5h1M542 539.5h1M547 539.5h1M549 539.5h1M551 539.5h1M553 539.5h1M226 540.5h1M297 540.5h1M304 540.5h1M411 540.5h1M415 540.5h1M437 540.5h1M440 540.5h1M446 540.5h1M449 540.5h2M454 540.5h1M461 540.5h1M465 540.5h1M472 540.5h1M481 540.5h1M486 540.5h1M490 540.5h1M499 540.5h1M503 540.5h2M508 540.5h2M511 540.5h2M514 540.5h1M519 540.5h1M526 540.5h1M528 540.5h2M534 540.5h1M542 540.5h1M546 540.5h1M196 541.5h1M219 541.5h1M221 541.5h1M273 541.5h1M387 541.5h1M412 541.5h1M429 541.5h1M435 541.5h1M439 541.5h1M444 541.5h1M446 541.5h1M449 541.5h1M461 541.5h2M464 541.5h3M499 541.5h1M503 541.5h1M505 541.5h2M517 541.5h1M531 541.5h1M537 541.5h1M546 541.5h1M550 541.5h1M189 542.5h1M239 542.5h1M255 542.5h1M345 542.5h1M352 542.5h1M420 542.5h1M427 542.5h1M429 542.5h1M432 542.5h2M436 542.5h1M456 542.5h1M473 542.5h1M478 542.5h1M484 542.5h1M493 542.5h1M498 542.5h1M500 542.5h1M509 542.5h1M511 542.5h1M515 542.5h1M518 542.5h2M524 542.5h1M527 542.5h2M536 542.5h1M545 542.5h2M548 542.5h1M202 543.5h1M274 543.5h1M281 543.5h1M414 543.5h1M426 543.5h1M434 543.5h1M445 543.5h1M450 543.5h1M463 543.5h1M475 543.5h2M478 543.5h1M480 543.5h1M487 543.5h1M492 543.5h3M508 543.5h2M514 543.5h1M525 543.5h1M531 543.5h1M533 543.5h1M539 543.5h1M543 543.5h2M547 543.5h1M550 543.5h2M553 543.5h1M177 544.5h1M197 544.5h1M237 544.5h1M282 544.5h1M445 544.5h3M453 544.5h1M459 544.5h1M461 544.5h1M484 544.5h1M486 544.5h1M493 544.5h1M497 544.5h1M506 544.5h1M509 544.5h2M512 544.5h1M518 544.5h1M521 544.5h1M538 544.5h2M543 544.5h1M547 544.5h1M554 544.5h1M201 545.5h1M207 545.5h1M216 545.5h1M256 545.5h1M418 545.5h1M438 545.5h1M444 545.5h2M451 545.5h2M463 545.5h1M471 545.5h1M479 545.5h1M495 545.5h2M501 545.5h1M511 545.5h1M518 545.5h2M526 545.5h1M531 545.5h1M544 545.5h1M551 545.5h1M209 546.5h1M354 546.5h1M361 546.5h1M378 546.5h1M395 546.5h1M408 546.5h1M437 546.5h1M450 546.5h1M455 546.5h1M459 546.5h1M463 546.5h1M468 546.5h1M472 546.5h1M478 546.5h1M485 546.5h1M495 546.5h1M503 546.5h1M507 546.5h1M509 546.5h1M511 546.5h1M524 546.5h1M527 546.5h1M530 546.5h1M538 546.5h2M547 546.5h1M552 546.5h1M178 547.5h1M409 547.5h1M417 547.5h1M423 547.5h1M438 547.5h1M448 547.5h1M450 547.5h1M452 547.5h1M462 547.5h1M468 547.5h1M471 547.5h1M485 547.5h1M496 547.5h1M499 547.5h3M509 547.5h1M514 547.5h1M518 547.5h2M534 547.5h1M542 547.5h5M551 547.5h1M201 548.5h1M205 548.5h1M253 548.5h1M257 548.5h1M324 548.5h1M449 548.5h1M452 548.5h1M469 548.5h1M473 548.5h1M476 548.5h1M478 548.5h1M481 548.5h1M491 548.5h1M500 548.5h1M514 548.5h1M517 548.5h1M524 548.5h1M527 548.5h1M529 548.5h2M537 548.5h1M545 548.5h1M550 548.5h1M554 548.5h1M205 549.5h1M403 549.5h1M405 549.5h1M439 549.5h1M454 549.5h1M457 549.5h1M464 549.5h1M471 549.5h1M473 549.5h1M476 549.5h2M482 549.5h1M486 549.5h1M493 549.5h1M498 549.5h2M509 549.5h1M521 549.5h2M533 549.5h1M538 549.5h1M542 549.5h2M547 549.5h1M254 550.5h1M294 550.5h1M314 550.5h1M322 550.5h1M409 550.5h1M414 550.5h1M426 550.5h1M446 550.5h1M454 550.5h2M459 550.5h1M462 550.5h1M464 550.5h1M466 550.5h1M468 550.5h1M472 550.5h1M480 550.5h1M486 550.5h1M514 550.5h3M523 550.5h1M531 550.5h2M534 550.5h1M548 550.5h1M550 550.5h2M257 551.5h1M277 551.5h1M342 551.5h1M421 551.5h1M429 551.5h2M437 551.5h1M449 551.5h1M462 551.5h1M466 551.5h1M476 551.5h1M483 551.5h1M490 551.5h1M492 551.5h1M497 551.5h1M500 551.5h2M509 551.5h1M515 551.5h2M532 551.5h1M539 551.5h2M548 551.5h1M553 551.5h2M159 552.5h1M163 552.5h1M172 552.5h1M179 552.5h1M195 552.5h1M245 552.5h1M309 552.5h1M331 552.5h1M393 552.5h1M425 552.5h1M436 552.5h1M439 552.5h1M442 552.5h1M444 552.5h2M450 552.5h2M466 552.5h1M470 552.5h1M472 552.5h2M481 552.5h2M486 552.5h1M490 552.5h1M513 552.5h2M532 552.5h3M536 552.5h1M541 552.5h1M543 552.5h1M552 552.5h1M152 553.5h1M208 553.5h1M315 553.5h1M424 553.5h1M445 553.5h2M458 553.5h2M469 553.5h2M477 553.5h1M480 553.5h1M485 553.5h1M489 553.5h1M494 553.5h2M508 553.5h1M515 553.5h1M517 553.5h1M527 553.5h1M540 553.5h1M545 553.5h4M551 553.5h1M151 554.5h1M173 554.5h1M175 554.5h1M215 554.5h1M239 554.5h1M341 554.5h1M421 554.5h1M423 554.5h1M434 554.5h1M438 554.5h2M451 554.5h1M460 554.5h1M462 554.5h1M464 554.5h1M466 554.5h1M468 554.5h1M472 554.5h1M484 554.5h2M488 554.5h1M497 554.5h3M502 554.5h1M504 554.5h1M520 554.5h1M522 554.5h1M532 554.5h1M541 554.5h1M166 555.5h1M175 555.5h1M178 555.5h1M181 555.5h1M215 555.5h1M227 555.5h2M316 555.5h1M341 555.5h1M396 555.5h1M425 555.5h1M435 555.5h1M438 555.5h1M452 555.5h2M464 555.5h1M467 555.5h1M470 555.5h1M475 555.5h1M495 555.5h1M497 555.5h1M499 555.5h1M504 555.5h1M509 555.5h2M532 555.5h1M540 555.5h1M544 555.5h1M160 556.5h1M211 556.5h1M250 556.5h1M282 556.5h1M420 556.5h1M425 556.5h1M428 556.5h1M439 556.5h1M442 556.5h2M451 556.5h1M468 556.5h1M479 556.5h1M482 556.5h1M485 556.5h2M495 556.5h1M499 556.5h3M503 556.5h1M511 556.5h1M513 556.5h1M526 556.5h2M540 556.5h1M552 556.5h1M146 557.5h2M162 557.5h1M208 557.5h1M327 557.5h1M414 557.5h1M425 557.5h1M435 557.5h1M447 557.5h1M458 557.5h1M463 557.5h3M471 557.5h1M474 557.5h1M476 557.5h1M483 557.5h1M485 557.5h1M489 557.5h1M496 557.5h2M508 557.5h1M511 557.5h1M524 557.5h1M526 557.5h1M535 557.5h1M544 557.5h1M546 557.5h2M150 558.5h1M185 558.5h1M223 558.5h1M369 558.5h1M372 558.5h1M429 558.5h1M440 558.5h2M460 558.5h1M462 558.5h1M468 558.5h1M476 558.5h1M485 558.5h1M490 558.5h1M508 558.5h1M510 558.5h1M529 558.5h1M534 558.5h1M541 558.5h1M546 558.5h1M552 558.5h1M158 559.5h1M167 559.5h1M215 559.5h1M233 559.5h1M350 559.5h1M360 559.5h1M438 559.5h1M441 559.5h1M444 559.5h1M451 559.5h1M465 559.5h1M480 559.5h2M487 559.5h1M493 559.5h1M500 559.5h1M502 559.5h1M505 559.5h2M517 559.5h1M524 559.5h1M527 559.5h1M530 559.5h2M536 559.5h1M539 559.5h2M544 559.5h1M548 559.5h1M145 560.5h1M154 560.5h2M160 560.5h1M170 560.5h1M238 560.5h1M283 560.5h1M308 560.5h1M384 560.5h1M388 560.5h1M397 560.5h1M413 560.5h1M415 560.5h1M435 560.5h1M438 560.5h1M449 560.5h2M455 560.5h1M479 560.5h1M481 560.5h1M485 560.5h1M487 560.5h1M491 560.5h1M501 560.5h1M503 560.5h1M510 560.5h1M514 560.5h1M520 560.5h1M527 560.5h2M536 560.5h1M540 560.5h1M545 560.5h1M547 560.5h1M549 560.5h2M552 560.5h1M149 561.5h1M186 561.5h1M215 561.5h1M264 561.5h1M324 561.5h1M421 561.5h1M423 561.5h1M435 561.5h1M437 561.5h1M439 561.5h1M445 561.5h1M447 561.5h1M452 561.5h1M454 561.5h1M465 561.5h1M469 561.5h1M471 561.5h1M475 561.5h3M484 561.5h1M489 561.5h1M491 561.5h1M511 561.5h1M518 561.5h1M527 561.5h3M531 561.5h2M534 561.5h1M539 561.5h1M543 561.5h1M545 561.5h1M550 561.5h1M164 562.5h1M240 562.5h1M248 562.5h1M317 562.5h1M319 562.5h1M328 562.5h1M357 562.5h1M388 562.5h1M397 562.5h1M419 562.5h1M427 562.5h1M429 562.5h1M432 562.5h1M441 562.5h1M449 562.5h1M458 562.5h1M460 562.5h2M463 562.5h1M465 562.5h3M475 562.5h1M486 562.5h1M495 562.5h1M499 562.5h1M503 562.5h1M506 562.5h1M509 562.5h2M515 562.5h1M522 562.5h1M535 562.5h1M537 562.5h1M550 562.5h1M173 563.5h1M175 563.5h1M201 563.5h1M227 563.5h1M262 563.5h1M283 563.5h1M292 563.5h1M348 563.5h1M373 563.5h1M423 563.5h1M431 563.5h1M441 563.5h1M445 563.5h1M452 563.5h2M465 563.5h2M473 563.5h1M480 563.5h1M489 563.5h1M496 563.5h1M500 563.5h1M507 563.5h1M513 563.5h1M522 563.5h1M524 563.5h1M535 563.5h1M540 563.5h1M548 563.5h1M551 563.5h2M133 564.5h1M150 564.5h1M168 564.5h1M219 564.5h1M249 564.5h1M307 564.5h1M310 564.5h1M373 564.5h1M391 564.5h1M395 564.5h1M427 564.5h1M447 564.5h1M455 564.5h1M458 564.5h1M464 564.5h1M480 564.5h1M491 564.5h1M496 564.5h1M499 564.5h1M502 564.5h1M504 564.5h1M516 564.5h1M519 564.5h1M526 564.5h2M539 564.5h1M548 564.5h1M550 564.5h1M131 565.5h1M139 565.5h1M142 565.5h1M158 565.5h1M327 565.5h1M343 565.5h1M351 565.5h1M353 565.5h1M355 565.5h1M405 565.5h1M430 565.5h1M433 565.5h1M435 565.5h1M443 565.5h1M446 565.5h1M449 565.5h1M454 565.5h1M457 565.5h1M463 565.5h1M471 565.5h1M473 565.5h1M475 565.5h1M482 565.5h1M489 565.5h1M498 565.5h2M503 565.5h2M508 565.5h1M514 565.5h2M517 565.5h1M532 565.5h1M535 565.5h1M542 565.5h1M553 565.5h1M175 566.5h1M177 566.5h1M193 566.5h1M244 566.5h1M249 566.5h1M308 566.5h1M355 566.5h1M358 566.5h1M421 566.5h1M431 566.5h1M433 566.5h1M435 566.5h3M439 566.5h1M451 566.5h1M457 566.5h1M459 566.5h1M473 566.5h1M475 566.5h2M478 566.5h1M486 566.5h1M488 566.5h1M493 566.5h2M497 566.5h1M502 566.5h1M504 566.5h1M507 566.5h1M512 566.5h1M525 566.5h1M527 566.5h1M533 566.5h3M540 566.5h1M542 566.5h1M546 566.5h1M549 566.5h1M552 566.5h1M145 567.5h1M189 567.5h1M213 567.5h1M232 567.5h1M267 567.5h1M291 567.5h1M340 567.5h1M393 567.5h1M431 567.5h1M455 567.5h1M457 567.5h1M463 567.5h1M473 567.5h1M478 567.5h1M488 567.5h2M494 567.5h2M515 567.5h2M521 567.5h4M528 567.5h1M535 567.5h1M547 567.5h1M550 567.5h1M244 568.5h1M253 568.5h1M279 568.5h1M427 568.5h1M437 568.5h1M451 568.5h2M458 568.5h1M461 568.5h2M470 568.5h2M475 568.5h1M478 568.5h1M487 568.5h1M489 568.5h1M492 568.5h1M506 568.5h1M509 568.5h1M516 568.5h3M521 568.5h2M535 568.5h4M545 568.5h1M549 568.5h1M189 569.5h1M261 569.5h1M283 569.5h1M404 569.5h1M443 569.5h1M446 569.5h1M449 569.5h1M458 569.5h2M462 569.5h1M466 569.5h1M474 569.5h1M484 569.5h1M487 569.5h1M495 569.5h1M505 569.5h1M509 569.5h1M513 569.5h1M523 569.5h1M530 569.5h2M533 569.5h1M551 569.5h1M554 569.5h1M263 570.5h1M353 570.5h1M373 570.5h1M394 570.5h1M407 570.5h1M430 570.5h1M434 570.5h1M445 570.5h1M452 570.5h1M462 570.5h1M477 570.5h3M492 570.5h1M494 570.5h1M496 570.5h1M511 570.5h3M519 570.5h1M536 570.5h1M544 570.5h1M553 570.5h1M174 571.5h1M194 571.5h1M245 571.5h1M312 571.5h1M314 571.5h1M335 571.5h1M382 571.5h1M395 571.5h1M411 571.5h1M423 571.5h2M426 571.5h1M430 571.5h2M434 571.5h1M443 571.5h1M447 571.5h1M458 571.5h1M467 571.5h1M475 571.5h1M480 571.5h1M483 571.5h2M486 571.5h1M488 571.5h1M497 571.5h2M504 571.5h3M512 571.5h1M514 571.5h1M530 571.5h1M547 571.5h1M551 571.5h1M553 571.5h2M157 572.5h1M179 572.5h1M216 572.5h1M226 572.5h1M281 572.5h1M285 572.5h1M291 572.5h1M369 572.5h1M412 572.5h1M422 572.5h1M435 572.5h1M437 572.5h1M440 572.5h1M446 572.5h1M452 572.5h1M457 572.5h1M466 572.5h1M473 572.5h2M478 572.5h1M489 572.5h1M497 572.5h1M500 572.5h1M506 572.5h1M508 572.5h4M516 572.5h1M524 572.5h1M531 572.5h1M536 572.5h2M549 572.5h3M130 573.5h2M145 573.5h1M158 573.5h1M225 573.5h1M244 573.5h1M248 573.5h1M329 573.5h1M333 573.5h1M338 573.5h1M376 573.5h1M409 573.5h1M423 573.5h3M430 573.5h1M440 573.5h1M449 573.5h2M453 573.5h1M459 573.5h2M468 573.5h1M475 573.5h3M480 573.5h1M485 573.5h1M488 573.5h2M498 573.5h1M500 573.5h1M505 573.5h1M510 573.5h1M518 573.5h1M520 573.5h1M522 573.5h1M524 573.5h1M528 573.5h1M534 573.5h1M540 573.5h2M543 573.5h1M554 573.5h1M120 574.5h1M179 574.5h1M231 574.5h1M258 574.5h1M409 574.5h1M436 574.5h1M438 574.5h1M441 574.5h1M451 574.5h1M457 574.5h1M466 574.5h2M470 574.5h4M475 574.5h1M481 574.5h2M498 574.5h1M500 574.5h1M504 574.5h1M506 574.5h1M509 574.5h2M514 574.5h2M521 574.5h1M526 574.5h1M533 574.5h1M546 574.5h1M555 574.5h1M142 575.5h1M146 575.5h1M256 575.5h1M292 575.5h1M298 575.5h1M315 575.5h1M340 575.5h1M359 575.5h1M402 575.5h1M432 575.5h1M447 575.5h1M453 575.5h2M459 575.5h1M465 575.5h1M472 575.5h1M476 575.5h1M484 575.5h3M496 575.5h1M500 575.5h1M503 575.5h1M506 575.5h1M508 575.5h1M517 575.5h2M526 575.5h2M535 575.5h1M539 575.5h1M553 575.5h1M163 576.5h1M359 576.5h1M411 576.5h1M416 576.5h1M432 576.5h1M438 576.5h1M448 576.5h1M456 576.5h2M473 576.5h1M476 576.5h1M479 576.5h1M482 576.5h1M489 576.5h1M491 576.5h1M500 576.5h2M506 576.5h1M509 576.5h1M523 576.5h1M526 576.5h1M528 576.5h1M532 576.5h1M538 576.5h1M120 577.5h1M169 577.5h1M206 577.5h1M221 577.5h1M271 577.5h1M274 577.5h1M279 577.5h1M359 577.5h1M425 577.5h1M436 577.5h1M443 577.5h1M448 577.5h1M453 577.5h1M455 577.5h1M459 577.5h1M461 577.5h2M476 577.5h1M487 577.5h1M489 577.5h1M491 577.5h2M498 577.5h2M509 577.5h1M514 577.5h1M531 577.5h1M538 577.5h1M540 577.5h1M542 577.5h1M548 577.5h1M552 577.5h1M117 578.5h1M158 578.5h1M177 578.5h1M268 578.5h1M295 578.5h1M299 578.5h1M417 578.5h1M442 578.5h1M445 578.5h1M447 578.5h1M450 578.5h1M453 578.5h1M456 578.5h1M462 578.5h1M464 578.5h2M468 578.5h1M496 578.5h2M499 578.5h1M502 578.5h2M509 578.5h1M515 578.5h1M530 578.5h1M534 578.5h1M539 578.5h1M543 578.5h1M545 578.5h1M554 578.5h1M115 579.5h1M129 579.5h1M134 579.5h1M138 579.5h1M199 579.5h1M288 579.5h1M307 579.5h1M376 579.5h1M417 579.5h1M429 579.5h1M438 579.5h1M442 579.5h1M449 579.5h1M456 579.5h3M462 579.5h1M466 579.5h1M472 579.5h1M500 579.5h1M503 579.5h2M507 579.5h2M510 579.5h1M520 579.5h1M530 579.5h1M540 579.5h1M542 579.5h1M545 579.5h1M548 579.5h1M150 580.5h1M153 580.5h1M179 580.5h1M225 580.5h1M256 580.5h1M263 580.5h1M270 580.5h1M278 580.5h1M287 580.5h1M343 580.5h1M354 580.5h1M386 580.5h1M409 580.5h1M415 580.5h1M419 580.5h1M437 580.5h1M448 580.5h1M454 580.5h1M458 580.5h1M460 580.5h1M464 580.5h1M467 580.5h1M482 580.5h1M485 580.5h1M488 580.5h1M497 580.5h1M502 580.5h1M506 580.5h1M514 580.5h1M516 580.5h4M523 580.5h1M527 580.5h1M530 580.5h1M535 580.5h1M547 580.5h1M553 580.5h1M555 580.5h1M134 581.5h1M149 581.5h1M250 581.5h1M279 581.5h1M317 581.5h1M333 581.5h1M418 581.5h1M427 581.5h1M436 581.5h1M438 581.5h1M464 581.5h4M472 581.5h2M479 581.5h1M490 581.5h1M499 581.5h1M502 581.5h1M518 581.5h1M521 581.5h1M529 581.5h1M531 581.5h1M549 581.5h4M118 582.5h1M123 582.5h1M127 582.5h1M136 582.5h1M145 582.5h1M147 582.5h2M180 582.5h1M213 582.5h1M269 582.5h1M313 582.5h1M429 582.5h1M437 582.5h2M442 582.5h1M445 582.5h1M447 582.5h2M461 582.5h1M485 582.5h1M487 582.5h2M496 582.5h3M500 582.5h1M502 582.5h1M506 582.5h1M514 582.5h2M517 582.5h1M521 582.5h1M523 582.5h1M527 582.5h1M545 582.5h1M551 582.5h2M111 583.5h1M155 583.5h1M160 583.5h1M181 583.5h1M223 583.5h1M225 583.5h1M341 583.5h1M367 583.5h1M388 583.5h1M424 583.5h1M428 583.5h1M436 583.5h1M454 583.5h2M468 583.5h1M471 583.5h1M480 583.5h1M482 583.5h3M494 583.5h1M496 583.5h1M504 583.5h1M514 583.5h1M519 583.5h1M521 583.5h1M525 583.5h1M528 583.5h1M540 583.5h1M553 583.5h2M110 584.5h1M128 584.5h1M146 584.5h1M273 584.5h1M287 584.5h1M290 584.5h1M350 584.5h1M374 584.5h1M391 584.5h1M414 584.5h1M437 584.5h1M441 584.5h1M448 584.5h1M452 584.5h1M456 584.5h2M461 584.5h1M465 584.5h1M474 584.5h2M489 584.5h1M492 584.5h1M504 584.5h2M512 584.5h1M521 584.5h1M529 584.5h1M550 584.5h1M553 584.5h1M139 585.5h1M256 585.5h1M263 585.5h1M316 585.5h1M343 585.5h1M381 585.5h1M407 585.5h1M418 585.5h1M423 585.5h1M425 585.5h1M433 585.5h1M436 585.5h1M444 585.5h1M456 585.5h1M462 585.5h1M468 585.5h2M474 585.5h1M492 585.5h1M497 585.5h3M507 585.5h1M510 585.5h1M514 585.5h1M518 585.5h1M523 585.5h2M528 585.5h1M530 585.5h1M532 585.5h1M535 585.5h1M538 585.5h1M548 585.5h2M553 585.5h1M106 586.5h1M133 586.5h1M179 586.5h1M261 586.5h1M290 586.5h1M357 586.5h1M364 586.5h1M382 586.5h1M425 586.5h1M444 586.5h1M459 586.5h1M464 586.5h1M471 586.5h2M474 586.5h1M490 586.5h1M505 586.5h2M508 586.5h1M510 586.5h1M517 586.5h1M519 586.5h1M524 586.5h1M527 586.5h1M531 586.5h1M536 586.5h1M544 586.5h1M553 586.5h1M111 587.5h1M113 587.5h1M120 587.5h1M122 587.5h1M136 587.5h1M143 587.5h1M233 587.5h1M387 587.5h1M395 587.5h1M425 587.5h1M452 587.5h1M455 587.5h1M458 587.5h2M470 587.5h1M472 587.5h1M477 587.5h1M482 587.5h1M485 587.5h1M494 587.5h2M504 587.5h2M526 587.5h1M529 587.5h2M535 587.5h1M539 587.5h1M544 587.5h1M546 587.5h2M110 588.5h1M118 588.5h1M150 588.5h1M173 588.5h1M182 588.5h1M280 588.5h1M303 588.5h1M339 588.5h1M343 588.5h1M359 588.5h1M402 588.5h1M429 588.5h2M441 588.5h1M444 588.5h1M452 588.5h1M454 588.5h1M459 588.5h1M471 588.5h1M473 588.5h2M510 588.5h1M520 588.5h1M523 588.5h1M526 588.5h1M528 588.5h1M538 588.5h1M542 588.5h2M552 588.5h2M100 589.5h1M164 589.5h1M212 589.5h1M255 589.5h1M259 589.5h1M277 589.5h1M299 589.5h1M321 589.5h1M351 589.5h1M364 589.5h1M421 589.5h1M429 589.5h1M434 589.5h1M440 589.5h2M449 589.5h1M452 589.5h1M456 589.5h1M464 589.5h1M470 589.5h1M472 589.5h1M478 589.5h1M481 589.5h1M483 589.5h2M486 589.5h1M494 589.5h1M498 589.5h1M500 589.5h1M503 589.5h1M522 589.5h1M527 589.5h1M536 589.5h1M539 589.5h1M543 589.5h2M546 589.5h1M548 589.5h1M120 590.5h1M137 590.5h1M141 590.5h1M148 590.5h1M150 590.5h1M195 590.5h1M206 590.5h1M327 590.5h2M397 590.5h1M408 590.5h1M411 590.5h1M428 590.5h2M431 590.5h1M443 590.5h1M453 590.5h1M460 590.5h1M462 590.5h1M465 590.5h1M472 590.5h1M474 590.5h2M481 590.5h1M484 590.5h1M492 590.5h1M500 590.5h2M505 590.5h1M508 590.5h1M519 590.5h1M521 590.5h1M532 590.5h1M536 590.5h1M547 590.5h1M553 590.5h1M144 591.5h1M173 591.5h1M179 591.5h1M194 591.5h1M208 591.5h1M234 591.5h1M413 591.5h1M424 591.5h1M430 591.5h2M442 591.5h2M446 591.5h1M449 591.5h1M451 591.5h1M453 591.5h2M466 591.5h1M469 591.5h1M471 591.5h1M473 591.5h1M486 591.5h1M499 591.5h1M502 591.5h1M508 591.5h2M512 591.5h1M514 591.5h1M518 591.5h1M528 591.5h2M531 591.5h1M536 591.5h1M553 591.5h2M117 592.5h1M130 592.5h1M176 592.5h1M186 592.5h1M291 592.5h1M311 592.5h1M313 592.5h1M325 592.5h1M335 592.5h1M383 592.5h1M397 592.5h1M439 592.5h1M442 592.5h2M447 592.5h1M464 592.5h1M471 592.5h1M488 592.5h3M504 592.5h1M519 592.5h1M525 592.5h1M527 592.5h2M546 592.5h2M549 592.5h1M551 592.5h1M555 592.5h1M100 593.5h1M102 593.5h1M119 593.5h1M122 593.5h1M129 593.5h1M137 593.5h1M166 593.5h1M207 593.5h1M277 593.5h1M413 593.5h1M419 593.5h1M427 593.5h1M430 593.5h1M432 593.5h1M437 593.5h1M439 593.5h2M443 593.5h2M451 593.5h1M453 593.5h1M462 593.5h1M466 593.5h1M481 593.5h1M483 593.5h1M492 593.5h1M508 593.5h1M512 593.5h2M531 593.5h1M545 593.5h2M548 593.5h1M550 593.5h1M99 594.5h2M102 594.5h1M109 594.5h1M113 594.5h1M438 594.5h1M441 594.5h1M443 594.5h1M446 594.5h1M452 594.5h1M459 594.5h2M463 594.5h2M471 594.5h1M473 594.5h1M481 594.5h1M486 594.5h2M490 594.5h1M504 594.5h2M508 594.5h2M513 594.5h1M518 594.5h1M520 594.5h1M526 594.5h1M528 594.5h2M549 594.5h2M553 594.5h1M95 595.5h1M105 595.5h1M129 595.5h1M134 595.5h1M143 595.5h1M309 595.5h1M312 595.5h1M417 595.5h1M433 595.5h1M448 595.5h1M452 595.5h1M459 595.5h2M462 595.5h1M467 595.5h1M475 595.5h1M480 595.5h1M486 595.5h1M489 595.5h1M491 595.5h1M496 595.5h1M508 595.5h2M513 595.5h1M515 595.5h1M517 595.5h1M520 595.5h1M522 595.5h1M532 595.5h1M537 595.5h2M554 595.5h1M100 596.5h1M113 596.5h1M144 596.5h1M175 596.5h2M202 596.5h1M229 596.5h1M235 596.5h1M265 596.5h1M271 596.5h2M283 596.5h1M313 596.5h1M324 596.5h1M348 596.5h1M419 596.5h1M434 596.5h2M450 596.5h1M453 596.5h2M457 596.5h1M460 596.5h1M462 596.5h2M470 596.5h1M475 596.5h2M481 596.5h1M494 596.5h1M496 596.5h1M505 596.5h1M507 596.5h1M510 596.5h1M521 596.5h1M528 596.5h3M533 596.5h1M539 596.5h1M546 596.5h1M548 596.5h3M552 596.5h1M92 597.5h1M107 597.5h1M121 597.5h2M200 597.5h1M203 597.5h1M259 597.5h1M331 597.5h1M411 597.5h1M415 597.5h1M420 597.5h1M430 597.5h1M434 597.5h1M436 597.5h1M438 597.5h1M447 597.5h1M449 597.5h1M453 597.5h1M461 597.5h2M466 597.5h2M476 597.5h1M490 597.5h1M492 597.5h1M498 597.5h1M503 597.5h1M505 597.5h1M514 597.5h2M522 597.5h1M534 597.5h2M541 597.5h1M544 597.5h1M554 597.5h1M98 598.5h1M118 598.5h1M120 598.5h2M125 598.5h1M135 598.5h1M157 598.5h1M180 598.5h1M204 598.5h1M302 598.5h1M322 598.5h1M363 598.5h1M440 598.5h3M454 598.5h2M460 598.5h1M466 598.5h1M469 598.5h1M473 598.5h1M485 598.5h1M493 598.5h1M501 598.5h1M504 598.5h1M510 598.5h1M517 598.5h1M522 598.5h1M528 598.5h1M536 598.5h1M549 598.5h1M551 598.5h1M103 599.5h1M109 599.5h1M123 599.5h1M128 599.5h1M132 599.5h1M137 599.5h1M144 599.5h1M270 599.5h1M337 599.5h1M339 599.5h1M412 599.5h1M418 599.5h1M442 599.5h1M448 599.5h1M453 599.5h1M466 599.5h1M478 599.5h2M489 599.5h1M497 599.5h1M501 599.5h2M504 599.5h1M507 599.5h2M534 599.5h1M544 599.5h2M547 599.5h2M93 600.5h1M131 600.5h1M211 600.5h1M398 600.5h1M403 600.5h1M423 600.5h1M427 600.5h1M430 600.5h1M442 600.5h1M459 600.5h1M467 600.5h1M487 600.5h1M495 600.5h1M502 600.5h1M512 600.5h2M520 600.5h1M525 600.5h2M528 600.5h1M539 600.5h1M541 600.5h2M548 600.5h1M553 600.5h1M555 600.5h1M88 601.5h1M104 601.5h1M113 601.5h1M115 601.5h1M152 601.5h1M178 601.5h1M183 601.5h1M200 601.5h1M216 601.5h1M311 601.5h1M332 601.5h1M387 601.5h1M391 601.5h1M421 601.5h1M427 601.5h1M429 601.5h2M446 601.5h1M449 601.5h1M454 601.5h1M459 601.5h1M461 601.5h2M468 601.5h1M471 601.5h2M476 601.5h1M486 601.5h1M489 601.5h1M503 601.5h1M505 601.5h1M507 601.5h1M516 601.5h1M521 601.5h2M537 601.5h1M545 601.5h1M548 601.5h3M553 601.5h2M102 602.5h1M206 602.5h1M227 602.5h1M244 602.5h1M320 602.5h1M323 602.5h1M440 602.5h1M445 602.5h1M456 602.5h1M460 602.5h1M463 602.5h1M487 602.5h1M489 602.5h1M498 602.5h1M504 602.5h2M519 602.5h2M526 602.5h2M531 602.5h1M533 602.5h2M541 602.5h1M543 602.5h2M547 602.5h1M100 603.5h1M135 603.5h1M147 603.5h1M161 603.5h1M183 603.5h1M197 603.5h1M257 603.5h1M284 603.5h1M290 603.5h1M416 603.5h1M422 603.5h1M424 603.5h1M431 603.5h1M433 603.5h1M438 603.5h1M442 603.5h1M446 603.5h1M451 603.5h1M457 603.5h1M460 603.5h1M468 603.5h1M474 603.5h1M476 603.5h1M480 603.5h1M483 603.5h1M491 603.5h1M499 603.5h1M503 603.5h1M518 603.5h1M525 603.5h1M528 603.5h1M542 603.5h1M545 603.5h2M554 603.5h1M100 604.5h1M108 604.5h1M111 604.5h1M137 604.5h1M186 604.5h1M250 604.5h1M268 604.5h1M300 604.5h1M416 604.5h2M427 604.5h1M429 604.5h1M432 604.5h1M441 604.5h1M455 604.5h1M473 604.5h1M477 604.5h1M486 604.5h1M499 604.5h2M503 604.5h1M506 604.5h1M511 604.5h1M514 604.5h3M522 604.5h1M530 604.5h1M532 604.5h2M538 604.5h1M547 604.5h1M549 604.5h1M133 605.5h1M137 605.5h1M175 605.5h1M217 605.5h1M221 605.5h1M405 605.5h1M413 605.5h1M418 605.5h1M424 605.5h1M426 605.5h1M433 605.5h2M443 605.5h1M460 605.5h1M463 605.5h1M465 605.5h1M473 605.5h1M488 605.5h1M491 605.5h2M504 605.5h1M506 605.5h1M515 605.5h1M517 605.5h2M520 605.5h1M522 605.5h1M528 605.5h1M539 605.5h2M548 605.5h1M550 605.5h1M552 605.5h1M85 606.5h1M128 606.5h1M130 606.5h1M133 606.5h1M139 606.5h1M165 606.5h1M183 606.5h1M194 606.5h1M215 606.5h1M293 606.5h1M367 606.5h1M402 606.5h1M420 606.5h1M426 606.5h1M429 606.5h1M447 606.5h1M457 606.5h1M461 606.5h1M474 606.5h1M482 606.5h1M487 606.5h2M491 606.5h1M493 606.5h1M500 606.5h1M511 606.5h1M513 606.5h1M518 606.5h1M530 606.5h2M539 606.5h1M547 606.5h1M550 606.5h1M554 606.5h1M88 607.5h1M90 607.5h1M96 607.5h2M103 607.5h1M217 607.5h1M253 607.5h1M348 607.5h1M400 607.5h1M433 607.5h1M438 607.5h1M440 607.5h1M443 607.5h1M445 607.5h1M447 607.5h1M452 607.5h1M458 607.5h1M463 607.5h1M474 607.5h1M477 607.5h1M488 607.5h1M490 607.5h2M497 607.5h1M510 607.5h2M513 607.5h1M518 607.5h1M520 607.5h1M538 607.5h1M545 607.5h1M548 607.5h1M554 607.5h1M84 608.5h1M101 608.5h1M138 608.5h1M144 608.5h1M154 608.5h1M199 608.5h1M202 608.5h1M215 608.5h1M258 608.5h1M323 608.5h1M369 608.5h1M388 608.5h1M407 608.5h1M422 608.5h1M441 608.5h1M446 608.5h1M450 608.5h1M453 608.5h1M463 608.5h1M470 608.5h1M472 608.5h1M477 608.5h1M485 608.5h1M503 608.5h1M514 608.5h1M534 608.5h3M538 608.5h1M542 608.5h1M82 609.5h1M108 609.5h1M162 609.5h1M214 609.5h1M275 609.5h1M322 609.5h1M415 609.5h2M425 609.5h1M448 609.5h1M454 609.5h1M472 609.5h1M482 609.5h2M488 609.5h1M508 609.5h2M514 609.5h1M517 609.5h1M522 609.5h1M529 609.5h3M533 609.5h1M538 609.5h2M542 609.5h3M546 609.5h1M548 609.5h1M555 609.5h1M88 610.5h1M95 610.5h1M112 610.5h1M131 610.5h1M164 610.5h1M226 610.5h1M362 610.5h1M408 610.5h1M411 610.5h1M432 610.5h2M435 610.5h1M438 610.5h1M440 610.5h1M442 610.5h1M447 610.5h2M452 610.5h1M463 610.5h1M466 610.5h2M474 610.5h1M485 610.5h1M496 610.5h1M511 610.5h1M513 610.5h3M529 610.5h2M533 610.5h2M548 610.5h1M85 611.5h1M93 611.5h1M233 611.5h1M326 611.5h1M406 611.5h1M425 611.5h1M434 611.5h1M438 611.5h1M457 611.5h2M461 611.5h1M468 611.5h1M477 611.5h1M479 611.5h1M484 611.5h1M488 611.5h1M490 611.5h1M498 611.5h1M518 611.5h1M526 611.5h2M532 611.5h1M540 611.5h1M547 611.5h1M549 611.5h1M554 611.5h2M80 612.5h1M85 612.5h1M96 612.5h1M115 612.5h1M120 612.5h1M127 612.5h1M192 612.5h1M196 612.5h1M205 612.5h1M239 612.5h1M255 612.5h1M297 612.5h1M347 612.5h1M422 612.5h1M428 612.5h1M444 612.5h2M448 612.5h1M450 612.5h1M455 612.5h2M462 612.5h1M472 612.5h1M475 612.5h1M483 612.5h2M492 612.5h1M497 612.5h1M501 612.5h1M505 612.5h1M511 612.5h1M514 612.5h1M81 613.5h1M83 613.5h1M95 613.5h1M119 613.5h1M138 613.5h1M169 613.5h1M224 613.5h1M236 613.5h1M250 613.5h1M311 613.5h1M429 613.5h3M439 613.5h1M459 613.5h1M464 613.5h1M471 613.5h3M493 613.5h1M495 613.5h1M498 613.5h1M501 613.5h1M503 613.5h1M510 613.5h1M514 613.5h2M526 613.5h1M530 613.5h1M534 613.5h1M543 613.5h1M546 613.5h1M551 613.5h2M77 614.5h1M111 614.5h1M119 614.5h1M127 614.5h1M176 614.5h1M349 614.5h1M411 614.5h1M423 614.5h1M435 614.5h1M439 614.5h1M443 614.5h1M451 614.5h1M453 614.5h2M460 614.5h2M470 614.5h1M473 614.5h1M476 614.5h1M478 614.5h1M488 614.5h1M495 614.5h1M498 614.5h1M504 614.5h2M507 614.5h2M519 614.5h1M522 614.5h1M524 614.5h1M528 614.5h1M530 614.5h1M533 614.5h1M535 614.5h1M545 614.5h2M78 615.5h1M81 615.5h1M120 615.5h1M127 615.5h1M135 615.5h1M187 615.5h1M264 615.5h1M271 615.5h1M277 615.5h1M301 615.5h1M329 615.5h1M379 615.5h1M405 615.5h1M426 615.5h1M428 615.5h1M439 615.5h1M441 615.5h1M449 615.5h1M459 615.5h2M467 615.5h1M470 615.5h1M472 615.5h1M481 615.5h2M489 615.5h1M502 615.5h1M509 615.5h1M515 615.5h1M517 615.5h1M521 615.5h1M526 615.5h1M528 615.5h1M534 615.5h1M541 615.5h1M546 615.5h1M95 616.5h1M102 616.5h2M109 616.5h1M126 616.5h1M173 616.5h1M200 616.5h1M226 616.5h1M250 616.5h1M254 616.5h1M265 616.5h1M267 616.5h1M306 616.5h1M334 616.5h1M379 616.5h1M432 616.5h1M438 616.5h1M448 616.5h1M454 616.5h1M458 616.5h1M461 616.5h1M466 616.5h1M474 616.5h1M476 616.5h2M505 616.5h1M510 616.5h1M518 616.5h1M522 616.5h1M531 616.5h1M533 616.5h1M536 616.5h1M540 616.5h1M543 616.5h2M546 616.5h1M555 616.5h1M91 617.5h1M97 617.5h2M100 617.5h1M102 617.5h1M111 617.5h1M113 617.5h1M122 617.5h1M169 617.5h1M201 617.5h1M343 617.5h1M365 617.5h1M416 617.5h1M439 617.5h1M441 617.5h1M443 617.5h2M453 617.5h1M455 617.5h1M457 617.5h1M463 617.5h1M486 617.5h2M494 617.5h1M497 617.5h1M499 617.5h1M502 617.5h1M522 617.5h1M534 617.5h1M537 617.5h1M544 617.5h1M549 617.5h1M552 617.5h1M555 617.5h1M95 618.5h1M141 618.5h1M191 618.5h1M211 618.5h1M256 618.5h1M287 618.5h1M403 618.5h1M425 618.5h1M437 618.5h1M447 618.5h1M452 618.5h2M455 618.5h3M459 618.5h1M463 618.5h2M471 618.5h1M473 618.5h3M485 618.5h1M500 618.5h1M503 618.5h1M516 618.5h1M521 618.5h1M526 618.5h1M528 618.5h1M545 618.5h1M548 618.5h1M120 619.5h1M141 619.5h1M170 619.5h1M178 619.5h1M195 619.5h1M380 619.5h1M405 619.5h1M420 619.5h1M434 619.5h1M443 619.5h1M462 619.5h1M466 619.5h1M475 619.5h1M480 619.5h1M488 619.5h1M494 619.5h1M500 619.5h1M502 619.5h1M507 619.5h1M518 619.5h1M538 619.5h1M544 619.5h1M550 619.5h1M552 619.5h1M86 620.5h1M98 620.5h3M104 620.5h1M144 620.5h1M180 620.5h1M251 620.5h1M293 620.5h1M330 620.5h1M344 620.5h1M405 620.5h1M414 620.5h1M420 620.5h1M441 620.5h1M445 620.5h1M452 620.5h1M457 620.5h1M462 620.5h1M466 620.5h3M471 620.5h1M473 620.5h1M475 620.5h1M478 620.5h1M486 620.5h1M491 620.5h1M494 620.5h1M500 620.5h1M508 620.5h1M513 620.5h1M519 620.5h1M521 620.5h1M523 620.5h1M528 620.5h2M536 620.5h1M545 620.5h3M551 620.5h1M554 620.5h1M74 621.5h1M80 621.5h1M91 621.5h1M112 621.5h1M339 621.5h1M347 621.5h1M432 621.5h1M438 621.5h2M445 621.5h1M447 621.5h1M451 621.5h1M465 621.5h1M471 621.5h1M474 621.5h1M476 621.5h1M481 621.5h1M485 621.5h3M491 621.5h1M503 621.5h1M515 621.5h1M522 621.5h1M525 621.5h1M528 621.5h2M532 621.5h3M538 621.5h1M543 621.5h2M546 621.5h1M549 621.5h1M552 621.5h1M115 622.5h1M126 622.5h1M166 622.5h1M173 622.5h1M252 622.5h2M399 622.5h1M419 622.5h2M423 622.5h1M428 622.5h1M435 622.5h1M440 622.5h1M451 622.5h1M454 622.5h2M469 622.5h1M471 622.5h2M484 622.5h2M487 622.5h2M500 622.5h1M507 622.5h1M509 622.5h2M520 622.5h1M524 622.5h2M530 622.5h1M533 622.5h1M540 622.5h1M544 622.5h1M551 622.5h1M553 622.5h1M82 623.5h1M96 623.5h1M117 623.5h1M211 623.5h1M384 623.5h1M420 623.5h1M428 623.5h2M441 623.5h1M446 623.5h1M450 623.5h1M467 623.5h1M470 623.5h2M476 623.5h2M481 623.5h2M487 623.5h1M494 623.5h1M502 623.5h1M504 623.5h1M507 623.5h1M510 623.5h1M512 623.5h1M514 623.5h1M516 623.5h1M520 623.5h1M523 623.5h1M525 623.5h1M527 623.5h1M537 623.5h1M539 623.5h1M547 623.5h1M98 624.5h1M111 624.5h1M132 624.5h1M153 624.5h1M171 624.5h1M173 624.5h1M222 624.5h1M358 624.5h1M360 624.5h1M406 624.5h1M418 624.5h1M421 624.5h1M430 624.5h1M434 624.5h1M448 624.5h1M451 624.5h2M454 624.5h2M457 624.5h2M463 624.5h1M466 624.5h1M468 624.5h1M472 624.5h1M475 624.5h1M481 624.5h2M484 624.5h1M494 624.5h2M499 624.5h1M505 624.5h1M512 624.5h1M516 624.5h1M519 624.5h2M524 624.5h1M526 624.5h1M532 624.5h2M551 624.5h1M554 624.5h1M101 625.5h1M185 625.5h1M213 625.5h1M272 625.5h1M276 625.5h1M346 625.5h1M357 625.5h1M365 625.5h1M405 625.5h1M418 625.5h1M423 625.5h1M435 625.5h1M437 625.5h1M449 625.5h2M453 625.5h2M457 625.5h2M462 625.5h1M467 625.5h1M473 625.5h1M476 625.5h1M486 625.5h1M492 625.5h1M495 625.5h3M501 625.5h2M505 625.5h1M509 625.5h1M516 625.5h1M520 625.5h1M536 625.5h1M539 625.5h2M542 625.5h2M548 625.5h1M550 625.5h1M68 626.5h1M85 626.5h1M98 626.5h1M128 626.5h1M273 626.5h1M324 626.5h1M355 626.5h1M407 626.5h1M420 626.5h1M425 626.5h1M430 626.5h1M433 626.5h1M437 626.5h1M448 626.5h1M456 626.5h1M458 626.5h1M466 626.5h2M474 626.5h1M483 626.5h1M485 626.5h1M490 626.5h1M495 626.5h1M498 626.5h1M500 626.5h3M516 626.5h1M518 626.5h1M524 626.5h1M528 626.5h1M539 626.5h1M545 626.5h1M547 626.5h1M551 626.5h1M555 626.5h1M88 627.5h1M90 627.5h1M92 627.5h1M111 627.5h1M155 627.5h1M216 627.5h1M242 627.5h1M376 627.5h1M430 627.5h1M441 627.5h1M445 627.5h1M457 627.5h1M466 627.5h1M469 627.5h2M476 627.5h1M485 627.5h2M502 627.5h1M505 627.5h1M509 627.5h1M511 627.5h1M518 627.5h1M532 627.5h1M534 627.5h1M553 627.5h2M74 628.5h1M87 628.5h1M97 628.5h1M111 628.5h1M127 628.5h1M171 628.5h1M230 628.5h1M272 628.5h1M329 628.5h1M377 628.5h1M412 628.5h1M420 628.5h1M425 628.5h3M433 628.5h1M437 628.5h2M446 628.5h1M449 628.5h1M464 628.5h2M472 628.5h3M494 628.5h1M501 628.5h1M503 628.5h1M506 628.5h1M512 628.5h1M517 628.5h1M521 628.5h1M531 628.5h1M550 628.5h1M552 628.5h1M64 629.5h1M74 629.5h1M100 629.5h1M135 629.5h1M140 629.5h2M210 629.5h2M281 629.5h1M342 629.5h1M356 629.5h1M422 629.5h1M435 629.5h1M450 629.5h1M458 629.5h1M462 629.5h1M465 629.5h1M467 629.5h1M476 629.5h1M479 629.5h3M491 629.5h1M493 629.5h2M500 629.5h1M503 629.5h3M511 629.5h1M515 629.5h1M519 629.5h1M524 629.5h1M545 629.5h1M550 629.5h3M103 630.5h1M229 630.5h1M238 630.5h1M242 630.5h1M411 630.5h1M430 630.5h1M432 630.5h2M437 630.5h1M441 630.5h1M443 630.5h1M447 630.5h2M451 630.5h1M459 630.5h1M473 630.5h1M480 630.5h1M483 630.5h1M487 630.5h1M489 630.5h1M491 630.5h1M499 630.5h1M501 630.5h1M518 630.5h1M527 630.5h1M536 630.5h1M544 630.5h2M550 630.5h2M554 630.5h2M68 631.5h1M75 631.5h1M93 631.5h1M120 631.5h1M137 631.5h1M237 631.5h1M243 631.5h1M263 631.5h1M300 631.5h1M323 631.5h1M369 631.5h1M421 631.5h1M429 631.5h1M436 631.5h1M458 631.5h1M460 631.5h1M472 631.5h1M474 631.5h1M476 631.5h1M485 631.5h3M489 631.5h1M492 631.5h1M495 631.5h1M499 631.5h1M505 631.5h2M509 631.5h1M512 631.5h1M531 631.5h1M533 631.5h1M538 631.5h1M546 631.5h3M554 631.5h1M93 632.5h1M144 632.5h1M167 632.5h1M208 632.5h1M280 632.5h1M351 632.5h1M405 632.5h1M436 632.5h1M440 632.5h1M446 632.5h1M448 632.5h2M461 632.5h1M463 632.5h1M467 632.5h2M476 632.5h1M480 632.5h1M491 632.5h1M499 632.5h1M515 632.5h1M523 632.5h1M526 632.5h1M537 632.5h1M547 632.5h1M553 632.5h2M61 633.5h1M66 633.5h1M72 633.5h1M118 633.5h1M218 633.5h1M263 633.5h1M365 633.5h1M430 633.5h1M434 633.5h1M438 633.5h1M446 633.5h1M449 633.5h1M451 633.5h1M455 633.5h1M470 633.5h1M481 633.5h1M501 633.5h5M513 633.5h1M521 633.5h1M528 633.5h2M532 633.5h1M550 633.5h1M63 634.5h1M92 634.5h1M94 634.5h1M119 634.5h1M135 634.5h1M165 634.5h1M203 634.5h1M234 634.5h1M290 634.5h1M382 634.5h2M411 634.5h1M437 634.5h2M447 634.5h1M453 634.5h1M459 634.5h1M461 634.5h3M474 634.5h1M477 634.5h2M485 634.5h2M490 634.5h1M492 634.5h1M494 634.5h1M496 634.5h1M498 634.5h2M503 634.5h1M505 634.5h1M509 634.5h1M521 634.5h1M524 634.5h3M528 634.5h1M538 634.5h1M541 634.5h1M546 634.5h2M81 635.5h1M90 635.5h1M93 635.5h1M105 635.5h2M120 635.5h1M132 635.5h1M160 635.5h1M257 635.5h1M299 635.5h1M346 635.5h1M395 635.5h1M411 635.5h1M414 635.5h1M432 635.5h2M439 635.5h1M442 635.5h1M448 635.5h1M451 635.5h2M456 635.5h1M459 635.5h1M465 635.5h1M469 635.5h1M473 635.5h2M483 635.5h2M489 635.5h1M493 635.5h1M496 635.5h1M505 635.5h1M513 635.5h2M520 635.5h1M526 635.5h1M530 635.5h1M541 635.5h1M89 636.5h1M96 636.5h1M111 636.5h1M143 636.5h1M155 636.5h1M173 636.5h1M198 636.5h1M217 636.5h1M221 636.5h1M255 636.5h1M297 636.5h1M374 636.5h1M399 636.5h1M414 636.5h1M432 636.5h1M90 637.5h1M96 637.5h1M120 637.5h1M175 637.5h1M269 637.5h1M333 637.5h1M73 638.5h1M89 638.5h1M143 638.5h1M151 638.5h1M154 638.5h1M162 638.5h1M190 638.5h1M201 638.5h1M207 638.5h1M232 638.5h1M254 638.5h1M264 638.5h1M82 639.5h1M129 639.5h1M163 639.5h1M215 639.5h1M73 640.5h1M77 640.5h1M110 640.5h1M124 640.5h1M145 640.5h1M152 640.5h2M168 640.5h1M57 641.5h1M63 641.5h1M107 641.5h1M115 641.5h1M123 641.5h1M127 641.5h1M155 641.5h1M166 641.5h1M170 641.5h2M195 641.5h1M60 642.5h1M65 642.5h1M68 642.5h1M177 642.5h1M58 643.5h1M68 643.5h1M73 643.5h1M91 643.5h1M122 643.5h1M136 643.5h1M158 643.5h1M165 643.5h1M57 644.5h1M75 644.5h1M83 644.5h1M107 644.5h2M112 644.5h1M140 644.5h1M160 644.5h1M61 645.5h1M81 645.5h1M101 645.5h1M104 645.5h1M130 645.5h1M142 645.5h1M145 645.5h1M66 646.5h1M74 646.5h1M98 646.5h1M68 647.5h1M73 647.5h1M85 647.5h1M111 647.5h1M116 647.5h1M145 647.5h1M78 648.5h1M87 648.5h1M121 648.5h1M123 648.5h1M137 648.5h1M140 648.5h1M95 649.5h1M97 649.5h1M104 649.5h1M122 649.5h1M127 649.5h1M64 650.5h1M68 650.5h1M78 650.5h1M115 650.5h1M127 650.5h1M61 651.5h1M73 651.5h1M81 651.5h1M116 651.5h1M73 652.5h1M81 652.5h1M68 653.5h1M95 653.5h1M76 654.5h1M94 654.5h1M61 655.5h1M69 655.5h1M75 655.5h1M101 655.5h1M59 656.5h1M77 656.5h1M86 656.5h1M90 656.5h1M78 657.5h1M66 658.5h1M90 658.5h1M97 658.5h1M69 659.5h1M71 659.5h1M84 659.5h1M61 660.5h1M75 660.5h1M78 660.5h1M75 661.5h1M86 661.5h1M88 661.5h1M77 662.5h1M79 662.5h1M58 663.5h1M61 663.5h1M67 663.5h3M62 664.5h1M71 665.5h1M70 667.5h1M72 667.5h1M68 669.5h1M64 671.5h1M67 671.5h1M60 672.5h1M58 674.5h1M57 677.5h1" stroke="#fff" stroke-width="1" fill="none"/>
<path d="M57.5,665.7 L63.0,659.7 L68.5,653.8 L74.0,648.2 L79.5,642.9 L85.0,637.8 L90.5,633.0 L96.0,628.4 L101.5,624.0 L107.0,619.9 L112.5,616.0 L118.1,612.3 L123.6,608.8 L129.1,605.6 L134.6,602.5 L140.1,599.6 L145.6,596.9 L151.2,594.3 L156.7,592.0 L162.2,589.7 L167.7,587.6 L173.3,585.7 L178.8,583.8 L184.3,582.1 L189.8,580.5 L195.4,579.0 L200.9,577.6 L206.4,576.3 L211.9,575.1 L217.5,573.9 L223.0,572.9 L228.5,571.9 L234.1,571.0 L239.6,570.1 L245.1,569.3 L250.7,568.5 L256.2,567.8 L261.7,567.2 L267.3,566.5 L272.8,566.0 L278.3,565.4 L283.9,564.9 L289.4,564.5 L294.9,564.0 L300.5,563.6 L306.0,563.2 L311.5,562.9 L317.1,562.5 L322.6,562.2 L328.1,561.9 L333.7,561.6 L339.2,561.4 L344.7,561.1 L350.3,560.9 L355.8,560.7 L361.3,560.5 L366.9,560.3 L372.4,560.1 L378.0,559.9 L383.5,559.8 L389.0,559.6 L394.6,559.5 L400.1,559.3 L405.6,559.2 L411.2,559.1 L416.7,559.0 L422.2,558.8 L427.8,558.7 L433.3,558.6 L438.8,558.5 L444.4,558.4 L449.9,558.3 L455.5,558.3 L461.0,558.2 L466.5,558.1 L472.1,558.0 L477.6,557.9 L483.1,557.9 L488.7,557.8 L494.2,557.7 L499.7,557.7 L505.3,557.6 L510.8,557.6 L516.4,557.5 L521.9,557.4 L527.4,557.4 L533.0,557.3 L538.5,557.3 L544.0,557.2 L549.6,557.2 L555.1,557.1" fill="none" stroke="#111" stroke-width="1.6"/>
<path d="M57.9,731.0 L63.5,728.2 L69.0,725.4 L74.5,722.8 L80.0,720.4 L85.5,718.1 L91.1,715.9 L96.6,713.8 L102.1,711.8 L107.6,710.0 L113.2,708.2 L118.7,706.6 L124.2,705.1 L129.7,703.7 L135.3,702.3 L140.8,701.1 L146.3,699.9 L151.9,698.8 L157.4,697.8 L162.9,696.9 L168.4,696.0 L174.0,695.1 L179.5,694.4 L185.0,693.6 L190.6,693.0 L196.1,692.3 L201.6,691.8 L207.2,691.2 L212.7,690.7 L218.2,690.2 L223.8,689.8 L229.3,689.4 L234.8,689.0 L240.4,688.6 L245.9,688.3 L251.4,688.0 L257.0,687.7 L262.5,687.4 L268.1,687.1 L273.6,686.9 L279.1,686.7 L284.7,686.5 L290.2,686.3 L295.7,686.1 L301.3,685.9 L306.8,685.7 L312.3,685.6 L317.9,685.4 L323.4,685.3 L328.9,685.2 L334.5,685.0 L340.0,684.9 L345.6,684.8 L351.1,684.7 L356.6,684.6 L362.2,684.5 L367.7,684.4 L373.2,684.3 L378.8,684.2 L384.3,684.1 L389.8,684.1 L395.4,684.0 L400.9,683.9 L406.5,683.8 L412.0,683.8 L417.5,683.7 L423.1,683.6 L428.6,683.6 L434.1,683.5 L439.7,683.5 L445.2,683.4 L450.7,683.4 L456.3,683.3 L461.8,683.2 L467.4,683.2 L472.9,683.1 L478.4,683.1 L484.0,683.0 L489.5,683.0 L495.0,682.9 L500.6,682.9 L506.1,682.8 L511.6,682.8 L517.2,682.8 L522.7,682.7 L528.3,682.7 L533.8,682.6 L539.3,682.6 L544.9,682.5 L550.4,682.5 L555.9,682.4" fill="none" stroke="#111" stroke-width="1.4"/>
<text x="557.14" y="685.44" style="font-family:'Liberation Serif',serif;font-size:8px" fill="#333">M</text>
<path d="M56.50,512.30 L58.40,800.10 L556.70,796.50" fill="none" stroke="#333" stroke-width="1.3"/>
<path d="M58.11,757.60 h-2" stroke="#333" stroke-width="1"/>
<text x="49.11" y="760.40" style="font-family:'Liberation Serif',serif;font-size:8px" fill="#222">5</text>
<path d="M57.83,714.40 h-2" stroke="#333" stroke-width="1"/>
<text x="48.83" y="717.20" style="font-family:'Liberation Serif',serif;font-size:8px" fill="#222">10</text>
<path d="M57.54,671.20 h-2" stroke="#333" stroke-width="1"/>
<text x="48.54" y="674.00" style="font-family:'Liberation Serif',serif;font-size:8px" fill="#222">15</text>
<path d="M57.26,628.00 h-2" stroke="#333" stroke-width="1"/>
<text x="48.26" y="630.80" style="font-family:'Liberation Serif',serif;font-size:8px" fill="#222">20</text>
<path d="M56.97,584.80 h-2" stroke="#333" stroke-width="1"/>
<text x="47.97" y="587.60" style="font-family:'Liberation Serif',serif;font-size:8px" fill="#222">25</text>
<path d="M56.69,541.60 h-2" stroke="#333" stroke-width="1"/>
<text x="47.69" y="544.40" style="font-family:'Liberation Serif',serif;font-size:8px" fill="#222">30</text>
<path d="M141.45,799.50 v-2" stroke="#333" stroke-width="1"/>
<text x="141.45" y="807.70" text-anchor="middle" style="font-family:'Liberation Serif',serif;font-size:8px" fill="#222">30</text>
<path d="M224.50,798.90 v-2" stroke="#333" stroke-width="1"/>
<text x="224.50" y="807.10" text-anchor="middle" style="font-family:'Liberation Serif',serif;font-size:8px" fill="#222">40</text>
<path d="M307.55,798.30 v-2" stroke="#333" stroke-width="1"/>
<text x="307.55" y="806.50" text-anchor="middle" style="font-family:'Liberation Serif',serif;font-size:8px" fill="#222">50</text>
<path d="M390.60,797.70 v-2" stroke="#333" stroke-width="1"/>
<text x="390.60" y="805.90" text-anchor="middle" style="font-family:'Liberation Serif',serif;font-size:8px" fill="#222">60</text>
<path d="M473.65,797.10 v-2" stroke="#333" stroke-width="1"/>
<text x="473.65" y="805.30" text-anchor="middle" style="font-family:'Liberation Serif',serif;font-size:8px" fill="#222">70</text>
<path d="M556.70,796.50 v-2" stroke="#333" stroke-width="1"/>
<text x="556.70" y="804.70" text-anchor="middle" style="font-family:'Liberation Serif',serif;font-size:8px" fill="#222">80</text>
<text x="59.00" y="519.40" style="font-family:'Liberation Serif',serif;font-size:7.2px" fill="#111" stroke="#111" stroke-width="0.15">Сумма пл. сечений, м<tspan dy="-2.5" font-size="5px">2</tspan><tspan dy="2.5">/га</tspan></text>
<text x="557.20" y="794.10" text-anchor="end" style="font-family:'Liberation Serif',serif;font-size:7.27px" fill="#222" stroke="#222" stroke-width="0.12">Возраст, лет</text>
<rect x="253.40" y="503.00" width="105.60" height="10.50" fill="#fff"/>
<text x="256.40" y="512.00" style="font-family:'Liberation Serif',serif;font-size:11px;font-weight:bold" fill="#111">Береза, черничники</text>
</svg>
</body></html>
